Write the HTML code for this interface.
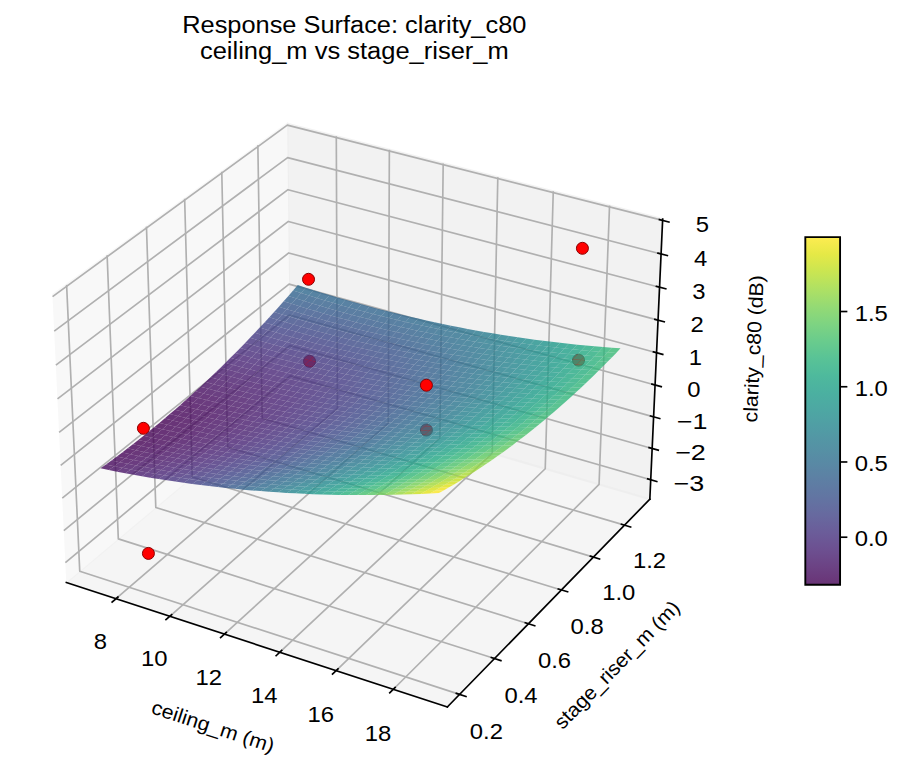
<!DOCTYPE html><html><head><meta charset="utf-8"><style>html,body{margin:0;padding:0;background:#fff;width:902px;height:765px;overflow:hidden}svg{display:block}</style></head><body><svg width="902" height="765" viewBox="109.15 16.49 432.96 367.20" version="1.1">
<defs><linearGradient id="vir" x1="0" y1="1" x2="0" y2="0"><stop offset="0.00" stop-color="#440154"/><stop offset="0.05" stop-color="#471365"/><stop offset="0.10" stop-color="#482475"/><stop offset="0.15" stop-color="#463480"/><stop offset="0.20" stop-color="#414487"/><stop offset="0.25" stop-color="#3b528b"/><stop offset="0.30" stop-color="#355f8d"/><stop offset="0.35" stop-color="#2f6c8e"/><stop offset="0.40" stop-color="#2a788e"/><stop offset="0.45" stop-color="#25848e"/><stop offset="0.50" stop-color="#21918c"/><stop offset="0.55" stop-color="#1e9c89"/><stop offset="0.60" stop-color="#22a884"/><stop offset="0.65" stop-color="#2fb47c"/><stop offset="0.70" stop-color="#44bf70"/><stop offset="0.75" stop-color="#5ec962"/><stop offset="0.80" stop-color="#7ad151"/><stop offset="0.85" stop-color="#9bd93c"/><stop offset="0.90" stop-color="#bddf26"/><stop offset="0.95" stop-color="#dfe318"/><stop offset="1.00" stop-color="#fde725"/></linearGradient>
<style type="text/css">*{stroke-linejoin: round; stroke-linecap: butt}</style>
</defs>
<g id="figure_1">
<g id="patch_1">
<path d="M 0 422.88
L 632.47 422.88
L 632.47 0
L 0 0
z
" style="fill: #ffffff"/>
</g>
<g id="patch_2">
<path d="M 116.40 376.36
L 442.02 376.36
L 442.02 50.74
L 116.40 50.74
z
" style="fill: #ffffff"/>
</g>
<g id="pane3d_1">
<g id="patch_3">
<path d="M 140.99 296.08
L 248.52 205.94
L 247.02 75.95
L 134.35 158.18
" style="fill: #f2f2f2; opacity: 0.5; stroke: #f2f2f2; stroke-linejoin: miter"/>
</g>
</g>
<g id="pane3d_2">
<g id="patch_4">
<path d="M 248.52 205.94
L 421.07 256.09
L 427.23 121.63
L 247.02 75.95
" style="fill: #e6e6e6; opacity: 0.5; stroke: #e6e6e6; stroke-linejoin: miter"/>
</g>
</g>
<g id="pane3d_3">
<g id="patch_5">
<path d="M 140.99 296.08
L 323.90 355.81
L 421.07 256.09
L 248.52 205.94
" style="fill: #ececec; opacity: 0.5; stroke: #ececec; stroke-linejoin: miter"/>
</g>
</g>
<g id="grid3d_1">
<g id="Line3DCollection_1">
<path d="M 164.84 303.86
L 271.10 212.51
L 270.57 81.92
" style="fill: none; stroke: #b0b0b0; stroke-width: 0.8"/>
<path d="M 190.66 312.30
L 295.52 219.60
L 296.04 88.37
" style="fill: none; stroke: #b0b0b0; stroke-width: 0.8"/>
<path d="M 216.87 320.86
L 320.28 226.80
L 321.88 94.92
" style="fill: none; stroke: #b0b0b0; stroke-width: 0.8"/>
<path d="M 243.48 329.55
L 345.40 234.10
L 348.10 101.57
" style="fill: none; stroke: #b0b0b0; stroke-width: 0.8"/>
<path d="M 270.51 338.38
L 370.86 241.50
L 374.72 108.32
" style="fill: none; stroke: #b0b0b0; stroke-width: 0.8"/>
<path d="M 297.97 347.34
L 396.70 249.01
L 401.73 115.16
" style="fill: none; stroke: #b0b0b0; stroke-width: 0.8"/>
</g>
</g>
<g id="grid3d_2">
<g id="Line3DCollection_2">
<path d="M 141.12 153.23
L 147.43 290.68
L 329.74 349.81
" style="fill: none; stroke: #b0b0b0; stroke-width: 0.8"/>
<path d="M 160.57 139.04
L 165.94 275.16
L 346.52 332.60
" style="fill: none; stroke: #b0b0b0; stroke-width: 0.8"/>
<path d="M 179.45 125.27
L 183.93 260.08
L 362.80 315.89
" style="fill: none; stroke: #b0b0b0; stroke-width: 0.8"/>
<path d="M 197.78 111.89
L 201.43 245.42
L 378.62 299.66
" style="fill: none; stroke: #b0b0b0; stroke-width: 0.8"/>
<path d="M 215.60 98.88
L 218.45 231.15
L 393.98 283.89
" style="fill: none; stroke: #b0b0b0; stroke-width: 0.8"/>
<path d="M 232.92 86.24
L 235.01 217.26
L 408.91 268.57
" style="fill: none; stroke: #b0b0b0; stroke-width: 0.8"/>
</g>
</g>
<g id="grid3d_3">
<g id="Line3DCollection_3">
<path d="M 421.50 246.77
L 248.42 196.91
L 140.53 286.53
" style="fill: none; stroke: #b0b0b0; stroke-width: 0.8"/>
<path d="M 422.18 231.75
L 248.25 182.37
L 139.79 271.14
" style="fill: none; stroke: #b0b0b0; stroke-width: 0.8"/>
<path d="M 422.88 216.58
L 248.08 167.69
L 139.04 255.60
" style="fill: none; stroke: #b0b0b0; stroke-width: 0.8"/>
<path d="M 423.58 201.26
L 247.91 152.86
L 138.28 239.90
" style="fill: none; stroke: #b0b0b0; stroke-width: 0.8"/>
<path d="M 424.29 185.78
L 247.74 137.90
L 137.52 224.03
" style="fill: none; stroke: #b0b0b0; stroke-width: 0.8"/>
<path d="M 425.00 170.15
L 247.56 122.79
L 136.75 207.99
" style="fill: none; stroke: #b0b0b0; stroke-width: 0.8"/>
<path d="M 425.73 154.35
L 247.39 107.54
L 135.97 191.78
" style="fill: none; stroke: #b0b0b0; stroke-width: 0.8"/>
<path d="M 426.46 138.39
L 247.21 92.13
L 135.18 175.40
" style="fill: none; stroke: #b0b0b0; stroke-width: 0.8"/>
<path d="M 427.20 122.27
L 247.03 76.57
L 134.38 158.84
" style="fill: none; stroke: #b0b0b0; stroke-width: 0.8"/>
</g>
</g>
<g id="axis3d_1">
<g id="line2d_1">
<path d="M 140.99 296.08
L 323.90 355.81
" style="fill: none; stroke: #000000; stroke-width: 0.8; stroke-linecap: square"/>
</g>
<g id="xtick_1">
<g id="line2d_2">
<path d="M 165.76 303.07
L 162.98 305.46
" style="fill: none; stroke: #000000; stroke-width: 0.8; stroke-linecap: square"/>
</g>
<g id="text_1">
<text style="font-size: 10.60px; font-family: 'Liberation Sans', sans-serif; text-anchor: middle" x="157.32" y="327.23" transform="rotate(-0 157.32 327.23)" dy="0.6" textLength="6.36" lengthAdjust="spacingAndGlyphs">8</text>
</g>
</g>
<g id="xtick_2">
<g id="line2d_3">
<path d="M 191.57 311.49
L 188.82 313.92
" style="fill: none; stroke: #000000; stroke-width: 0.8; stroke-linecap: square"/>
</g>
<g id="text_2">
<text style="font-size: 10.60px; font-family: 'Liberation Sans', sans-serif; text-anchor: middle" x="183.16" y="335.81" transform="rotate(-0 183.16 335.81)" dy="0.6" textLength="12.73" lengthAdjust="spacingAndGlyphs">10</text>
</g>
</g>
<g id="xtick_3">
<g id="line2d_4">
<path d="M 217.77 320.04
L 215.06 322.50
" style="fill: none; stroke: #000000; stroke-width: 0.8; stroke-linecap: square"/>
</g>
<g id="text_3">
<text style="font-size: 10.60px; font-family: 'Liberation Sans', sans-serif; text-anchor: middle" x="209.40" y="344.52" transform="rotate(-0 209.40 344.52)" dy="0.6" textLength="12.73" lengthAdjust="spacingAndGlyphs">12</text>
</g>
</g>
<g id="xtick_4">
<g id="line2d_5">
<path d="M 244.37 328.72
L 241.70 331.22
" style="fill: none; stroke: #000000; stroke-width: 0.8; stroke-linecap: square"/>
</g>
<g id="text_4">
<text style="font-size: 10.60px; font-family: 'Liberation Sans', sans-serif; text-anchor: middle" x="236.04" y="353.37" transform="rotate(-0 236.04 353.37)" dy="0.6" textLength="12.73" lengthAdjust="spacingAndGlyphs">14</text>
</g>
</g>
<g id="xtick_5">
<g id="line2d_6">
<path d="M 271.39 337.53
L 268.76 340.07
" style="fill: none; stroke: #000000; stroke-width: 0.8; stroke-linecap: square"/>
</g>
<g id="text_5">
<text style="font-size: 10.60px; font-family: 'Liberation Sans', sans-serif; text-anchor: middle" x="263.10" y="362.35" transform="rotate(-0 263.10 362.35)" dy="0.6" textLength="12.73" lengthAdjust="spacingAndGlyphs">16</text>
</g>
</g>
<g id="xtick_6">
<g id="line2d_7">
<path d="M 298.83 346.48
L 296.24 349.07
" style="fill: none; stroke: #000000; stroke-width: 0.8; stroke-linecap: square"/>
</g>
<g id="text_6">
<text style="font-size: 10.60px; font-family: 'Liberation Sans', sans-serif; text-anchor: middle" x="290.58" y="371.47" transform="rotate(-0 290.58 371.47)" dy="0.6" textLength="12.73" lengthAdjust="spacingAndGlyphs">18</text>
</g>
</g>
<g id="text_7">
<text style="font-size: 9.54px; font-family: 'Liberation Sans', sans-serif; text-anchor: middle" x="210.41" y="368.30" transform="rotate(-341.91 210.41 368.30)" textLength="61.32" lengthAdjust="spacingAndGlyphs">ceiling_m (m)</text>
</g>
</g>
<g id="axis3d_2">
<g id="line2d_8">
<path d="M 421.07 256.09
L 323.90 355.81
" style="fill: none; stroke: #000000; stroke-width: 0.8; stroke-linecap: square"/>
</g>
<g id="xtick_7">
<g id="line2d_9">
<path d="M 328.21 349.32
L 332.82 350.81
" style="fill: none; stroke: #000000; stroke-width: 0.8; stroke-linecap: square"/>
</g>
<g id="text_8">
<text style="font-size: 10.60px; font-family: 'Liberation Sans', sans-serif; text-anchor: middle" x="342.63" y="370.85" transform="rotate(-0 342.63 370.85)" dy="0.6" textLength="15.90" lengthAdjust="spacingAndGlyphs">0.2</text>
</g>
</g>
<g id="xtick_8">
<g id="line2d_10">
<path d="M 345.00 332.11
L 349.57 333.57
" style="fill: none; stroke: #000000; stroke-width: 0.8; stroke-linecap: square"/>
</g>
<g id="text_9">
<text style="font-size: 10.60px; font-family: 'Liberation Sans', sans-serif; text-anchor: middle" x="359.23" y="353.42" transform="rotate(-0 359.23 353.42)" dy="0.6" textLength="15.90" lengthAdjust="spacingAndGlyphs">0.4</text>
</g>
</g>
<g id="xtick_9">
<g id="line2d_11">
<path d="M 361.30 315.42
L 365.82 316.83
" style="fill: none; stroke: #000000; stroke-width: 0.8; stroke-linecap: square"/>
</g>
<g id="text_10">
<text style="font-size: 10.60px; font-family: 'Liberation Sans', sans-serif; text-anchor: middle" x="375.33" y="336.51" transform="rotate(-0 375.33 336.51)" dy="0.6" textLength="15.90" lengthAdjust="spacingAndGlyphs">0.6</text>
</g>
</g>
<g id="xtick_10">
<g id="line2d_12">
<path d="M 377.13 299.20
L 381.60 300.57
" style="fill: none; stroke: #000000; stroke-width: 0.8; stroke-linecap: square"/>
</g>
<g id="text_11">
<text style="font-size: 10.60px; font-family: 'Liberation Sans', sans-serif; text-anchor: middle" x="390.97" y="320.08" transform="rotate(-0 390.97 320.08)" dy="0.6" textLength="15.90" lengthAdjust="spacingAndGlyphs">0.8</text>
</g>
</g>
<g id="xtick_11">
<g id="line2d_13">
<path d="M 392.51 283.45
L 396.93 284.78
" style="fill: none; stroke: #000000; stroke-width: 0.8; stroke-linecap: square"/>
</g>
<g id="text_12">
<text style="font-size: 10.60px; font-family: 'Liberation Sans', sans-serif; text-anchor: middle" x="406.16" y="304.13" transform="rotate(-0 406.16 304.13)" dy="0.6" textLength="15.90" lengthAdjust="spacingAndGlyphs">1.0</text>
</g>
</g>
<g id="xtick_12">
<g id="line2d_14">
<path d="M 407.45 268.14
L 411.84 269.43
" style="fill: none; stroke: #000000; stroke-width: 0.8; stroke-linecap: square"/>
</g>
<g id="text_13">
<text style="font-size: 10.60px; font-family: 'Liberation Sans', sans-serif; text-anchor: middle" x="420.93" y="288.62" transform="rotate(-0 420.93 288.62)" dy="0.6" textLength="15.90" lengthAdjust="spacingAndGlyphs">1.2</text>
</g>
</g>
<g id="text_14">
<text style="font-size: 9.54px; font-family: 'Liberation Sans', sans-serif; text-anchor: middle" x="407.63" y="337.86" transform="rotate(-45.74 407.63 337.86)" textLength="81.53" lengthAdjust="spacingAndGlyphs">stage_riser_m (m)</text>
</g>
</g>
<g id="axis3d_3">
<g id="line2d_15">
<path d="M 421.07 256.09
L 427.23 121.63
" style="fill: none; stroke: #000000; stroke-width: 0.8; stroke-linecap: square"/>
</g>
<g id="xtick_13">
<g id="line2d_16">
<path d="M 420.04 246.35
L 424.40 247.61
" style="fill: none; stroke: #000000; stroke-width: 0.8; stroke-linecap: square"/>
</g>
<g id="text_15">
<text style="font-size: 10.60px; font-family: 'Liberation Sans', sans-serif; text-anchor: middle" x="439.81" y="251.77" transform="rotate(-0 439.81 251.77)" dy="0.6" textLength="14.74" lengthAdjust="spacingAndGlyphs">−3</text>
</g>
</g>
<g id="xtick_14">
<g id="line2d_17">
<path d="M 420.72 231.33
L 425.11 232.58
" style="fill: none; stroke: #000000; stroke-width: 0.8; stroke-linecap: square"/>
</g>
<g id="text_16">
<text style="font-size: 10.60px; font-family: 'Liberation Sans', sans-serif; text-anchor: middle" x="440.59" y="236.78" transform="rotate(-0 440.59 236.78)" dy="0.6" textLength="14.74" lengthAdjust="spacingAndGlyphs">−2</text>
</g>
</g>
<g id="xtick_15">
<g id="line2d_18">
<path d="M 421.41 216.17
L 425.82 217.40
" style="fill: none; stroke: #000000; stroke-width: 0.8; stroke-linecap: square"/>
</g>
<g id="text_17">
<text style="font-size: 10.60px; font-family: 'Liberation Sans', sans-serif; text-anchor: middle" x="441.37" y="221.64" transform="rotate(-0 441.37 221.64)" dy="0.6" textLength="14.74" lengthAdjust="spacingAndGlyphs">−1</text>
</g>
</g>
<g id="xtick_16">
<g id="line2d_19">
<path d="M 422.10 200.85
L 426.53 202.07
" style="fill: none; stroke: #000000; stroke-width: 0.8; stroke-linecap: square"/>
</g>
<g id="text_18">
<text style="font-size: 10.60px; font-family: 'Liberation Sans', sans-serif; text-anchor: middle" x="442.16" y="206.34" transform="rotate(-0 442.16 206.34)" dy="0.6" textLength="6.36" lengthAdjust="spacingAndGlyphs">0</text>
</g>
</g>
<g id="xtick_17">
<g id="line2d_20">
<path d="M 422.80 185.38
L 427.26 186.59
" style="fill: none; stroke: #000000; stroke-width: 0.8; stroke-linecap: square"/>
</g>
<g id="text_19">
<text style="font-size: 10.60px; font-family: 'Liberation Sans', sans-serif; text-anchor: middle" x="442.97" y="190.89" transform="rotate(-0 442.97 190.89)" dy="0.6" textLength="6.36" lengthAdjust="spacingAndGlyphs">1</text>
</g>
</g>
<g id="xtick_18">
<g id="line2d_21">
<path d="M 423.51 169.75
L 427.99 170.94
" style="fill: none; stroke: #000000; stroke-width: 0.8; stroke-linecap: square"/>
</g>
<g id="text_20">
<text style="font-size: 10.60px; font-family: 'Liberation Sans', sans-serif; text-anchor: middle" x="443.77" y="175.28" transform="rotate(-0 443.77 175.28)" dy="0.6" textLength="6.36" lengthAdjust="spacingAndGlyphs">2</text>
</g>
</g>
<g id="xtick_19">
<g id="line2d_22">
<path d="M 424.23 153.96
L 428.73 155.14
" style="fill: none; stroke: #000000; stroke-width: 0.8; stroke-linecap: square"/>
</g>
<g id="text_21">
<text style="font-size: 10.60px; font-family: 'Liberation Sans', sans-serif; text-anchor: middle" x="444.59" y="159.51" transform="rotate(-0 444.59 159.51)" dy="0.6" textLength="6.36" lengthAdjust="spacingAndGlyphs">3</text>
</g>
</g>
<g id="xtick_20">
<g id="line2d_23">
<path d="M 424.95 138.01
L 429.48 139.17
" style="fill: none; stroke: #000000; stroke-width: 0.8; stroke-linecap: square"/>
</g>
<g id="text_22">
<text style="font-size: 10.60px; font-family: 'Liberation Sans', sans-serif; text-anchor: middle" x="445.42" y="143.58" transform="rotate(-0 445.42 143.58)" dy="0.6" textLength="6.36" lengthAdjust="spacingAndGlyphs">4</text>
</g>
</g>
<g id="xtick_21">
<g id="line2d_24">
<path d="M 425.68 121.89
L 430.23 123.04
" style="fill: none; stroke: #000000; stroke-width: 0.8; stroke-linecap: square"/>
</g>
<g id="text_23">
<text style="font-size: 10.60px; font-family: 'Liberation Sans', sans-serif; text-anchor: middle" x="446.25" y="127.49" transform="rotate(-0 446.25 127.49)" dy="0.6" textLength="6.36" lengthAdjust="spacingAndGlyphs">5</text>
</g>
</g>
<g id="text_24">
<text style="font-size: 9.54px; font-family: 'Liberation Sans', sans-serif; text-anchor: middle" x="474.09" y="184.06" transform="rotate(-87.37 474.09 184.06)" textLength="70.69" lengthAdjust="spacingAndGlyphs">clarity_c80 (dB)</text>
</g>
</g>
<g id="axes_1">
<circle cx="257.72" cy="189.92" r="2.88" fill="#ff0000" stroke="#8b0000" stroke-width="0.48"/><circle cx="386.84" cy="189.35" r="2.88" fill="#ff0000" stroke="#8b0000" stroke-width="0.48"/><circle cx="313.83" cy="222.90" r="2.88" fill="#ff0000" stroke="#8b0000" stroke-width="0.48"/><g fill-opacity="0.8"><path d="M249.83 155.93 253.63 157.16 255.89 154.55 252.09 153.31Z" fill="#306a8e"/><path d="M253.63 157.16 257.44 158.37 259.69 155.77 255.89 154.55Z" fill="#30698e"/><path d="M247.57 158.53 251.37 159.75 253.63 157.16 249.83 155.93Z" fill="#32648e"/><path d="M257.44 158.37 261.26 159.55 263.50 156.96 259.69 155.77Z" fill="#31688e"/><path d="M251.37 159.75 255.18 160.95 257.44 158.37 253.63 157.16Z" fill="#33638d"/><path d="M261.26 159.55 265.08 160.71 267.33 158.14 263.50 156.96Z" fill="#31678e"/><path d="M245.29 161.11 249.10 162.32 251.37 159.75 247.57 158.53Z" fill="#355f8d"/><path d="M255.18 160.95 259.00 162.12 261.26 159.55 257.44 158.37Z" fill="#33628d"/><path d="M265.08 160.71 268.92 161.85 271.15 159.28 267.33 158.14Z" fill="#31668e"/><path d="M249.10 162.32 252.92 163.50 255.18 160.95 251.37 159.75Z" fill="#355e8d"/><path d="M259.00 162.12 262.83 163.27 265.08 160.71 261.26 159.55Z" fill="#34618d"/><path d="M243.01 163.67 246.82 164.87 249.10 162.32 245.29 161.11Z" fill="#38598c"/><path d="M268.92 161.85 272.76 162.96 274.99 160.41 271.15 159.28Z" fill="#31668e"/><path d="M252.92 163.50 256.74 164.67 259.00 162.12 255.18 160.95Z" fill="#365d8d"/><path d="M262.83 163.27 266.67 164.39 268.92 161.85 265.08 160.71Z" fill="#34618d"/><path d="M246.82 164.87 250.64 166.05 252.92 163.50 249.10 162.32Z" fill="#38588c"/><path d="M272.76 162.96 276.61 164.05 278.84 161.50 274.99 160.41Z" fill="#32658e"/><path d="M256.74 164.67 260.57 165.81 262.83 163.27 259.00 162.12Z" fill="#365c8d"/><path d="M240.72 166.21 244.54 167.40 246.82 164.87 243.01 163.67Z" fill="#3a538b"/><path d="M266.67 164.39 270.51 165.49 272.76 162.96 268.92 161.85Z" fill="#34608d"/><path d="M250.64 166.05 254.47 167.20 256.74 164.67 252.92 163.50Z" fill="#38588c"/><path d="M276.61 164.05 280.46 165.11 282.69 162.58 278.84 161.50Z" fill="#32658e"/><path d="M260.57 165.81 264.42 166.92 266.67 164.39 262.83 163.27Z" fill="#365c8d"/><path d="M244.54 167.40 248.36 168.57 250.64 166.05 246.82 164.87Z" fill="#3b528b"/><path d="M270.51 165.49 274.37 166.57 276.61 164.05 272.76 162.96Z" fill="#34608d"/><path d="M254.47 167.20 258.31 168.33 260.57 165.81 256.74 164.67Z" fill="#39568c"/><path d="M238.43 168.74 242.25 169.92 244.54 167.40 240.72 166.21Z" fill="#3d4e8a"/><path d="M280.46 165.11 284.33 166.15 286.55 163.63 282.69 162.58Z" fill="#32658e"/><path d="M264.42 166.92 268.26 168.01 270.51 165.49 266.67 164.39Z" fill="#375b8d"/><path d="M248.36 168.57 252.20 169.71 254.47 167.20 250.64 166.05Z" fill="#3b528b"/><path d="M274.37 166.57 278.23 167.63 280.46 165.11 276.61 164.05Z" fill="#34608d"/><path d="M258.31 168.33 262.15 169.43 264.42 166.92 260.57 165.81Z" fill="#39568c"/><path d="M242.25 169.92 246.07 171.07 248.36 168.57 244.54 167.40Z" fill="#3d4d8a"/><path d="M284.33 166.15 288.20 167.17 290.42 164.66 286.55 163.63Z" fill="#32658e"/><path d="M268.26 168.01 272.12 169.08 274.37 166.57 270.51 165.49Z" fill="#375b8d"/><path d="M252.20 169.71 256.04 170.83 258.31 168.33 254.47 167.20Z" fill="#3b518b"/><path d="M236.12 171.25 239.94 172.41 242.25 169.92 238.43 168.74Z" fill="#3f4889"/><path d="M278.23 167.63 282.10 168.66 284.33 166.15 280.46 165.11Z" fill="#34608d"/><path d="M262.15 169.43 266.01 170.51 268.26 168.01 264.42 166.92Z" fill="#39558c"/><path d="M246.07 171.07 249.91 172.20 252.20 169.71 248.36 168.57Z" fill="#3d4d8a"/><path d="M288.20 167.17 292.09 168.16 294.30 165.66 290.42 164.66Z" fill="#31668e"/><path d="M272.12 169.08 275.99 170.12 278.23 167.63 274.37 166.57Z" fill="#375b8d"/><path d="M256.04 170.83 259.88 171.92 262.15 169.43 258.31 168.33Z" fill="#3b518b"/><path d="M239.94 172.41 243.78 173.56 246.07 171.07 242.25 169.92Z" fill="#3f4889"/><path d="M282.10 168.66 285.98 169.66 288.20 167.17 284.33 166.15Z" fill="#34618d"/><path d="M266.01 170.51 269.87 171.57 272.12 169.08 268.26 168.01Z" fill="#39558c"/><path d="M249.91 172.20 253.75 173.31 256.04 170.83 252.20 169.71Z" fill="#3e4c8a"/><path d="M233.81 173.73 237.64 174.89 239.94 172.41 236.12 171.25Z" fill="#414487"/><path d="M292.09 168.16 295.98 169.13 298.19 166.64 294.30 165.66Z" fill="#31668e"/><path d="M275.99 170.12 279.86 171.14 282.10 168.66 278.23 167.63Z" fill="#365c8d"/><path d="M259.88 171.92 263.74 172.99 266.01 170.51 262.15 169.43Z" fill="#3b518b"/><path d="M243.78 173.56 247.62 174.68 249.91 172.20 246.07 171.07Z" fill="#3f4788"/><path d="M285.98 169.66 289.86 170.64 292.09 168.16 288.20 167.17Z" fill="#34618d"/><path d="M269.87 171.57 273.74 172.60 275.99 170.12 272.12 169.08Z" fill="#39568c"/><path d="M253.75 173.31 257.61 174.39 259.88 171.92 256.04 170.83Z" fill="#3e4c8a"/><path d="M237.64 174.89 241.47 176.02 243.78 173.56 239.94 172.41Z" fill="#414287"/><path d="M295.98 169.13 299.88 170.07 302.09 167.60 298.19 166.64Z" fill="#31678e"/><path d="M279.86 171.14 283.74 172.13 285.98 169.66 282.10 168.66Z" fill="#365c8d"/><path d="M263.74 172.99 267.61 174.03 269.87 171.57 266.01 170.51Z" fill="#3b518b"/><path d="M247.62 174.68 251.46 175.77 253.75 173.31 249.91 172.20Z" fill="#3f4788"/><path d="M231.49 176.20 235.32 177.35 237.64 174.89 233.81 173.73Z" fill="#433e85"/><path d="M289.86 170.64 293.76 171.60 295.98 169.13 292.09 168.16Z" fill="#33628d"/><path d="M273.74 172.60 277.61 173.61 279.86 171.14 275.99 170.12Z" fill="#39568c"/><path d="M257.61 174.39 261.47 175.45 263.74 172.99 259.88 171.92Z" fill="#3e4c8a"/><path d="M241.47 176.02 245.31 177.13 247.62 174.68 243.78 173.56Z" fill="#414287"/><path d="M283.74 172.13 287.63 173.10 289.86 170.64 285.98 169.66Z" fill="#365d8d"/><path d="M299.88 170.07 303.79 170.99 305.99 168.53 302.09 167.60Z" fill="#31688e"/><path d="M267.61 174.03 271.48 175.05 273.74 172.60 269.87 171.57Z" fill="#3b518b"/><path d="M251.46 175.77 255.32 176.84 257.61 174.39 253.75 173.31Z" fill="#3f4788"/><path d="M235.32 177.35 239.16 178.47 241.47 176.02 237.64 174.89Z" fill="#433e85"/><path d="M293.76 171.60 297.67 172.53 299.88 170.07 295.98 169.13Z" fill="#33638d"/><path d="M277.61 173.61 281.50 174.59 283.74 172.13 279.86 171.14Z" fill="#38588c"/><path d="M261.47 175.45 265.34 176.48 267.61 174.03 263.74 172.99Z" fill="#3d4d8a"/><path d="M245.31 177.13 249.17 178.22 251.46 175.77 247.62 174.68Z" fill="#414287"/><path d="M229.16 178.65 232.99 179.79 235.32 177.35 231.49 176.20Z" fill="#443983"/><path d="M287.63 173.10 291.53 174.05 293.76 171.60 289.86 170.64Z" fill="#355e8d"/><path d="M271.48 175.05 275.36 176.05 277.61 173.61 273.74 172.60Z" fill="#3b528b"/><path d="M303.79 170.99 307.71 171.89 309.91 169.43 305.99 168.53Z" fill="#306a8e"/><path d="M255.32 176.84 259.18 177.89 261.47 175.45 257.61 174.39Z" fill="#3f4788"/><path d="M239.16 178.47 243.00 179.57 245.31 177.13 241.47 176.02Z" fill="#433e85"/><path d="M281.50 174.59 285.40 175.55 287.63 173.10 283.74 172.13Z" fill="#38588c"/><path d="M297.67 172.53 301.58 173.44 303.79 170.99 299.88 170.07Z" fill="#32648e"/><path d="M265.34 176.48 269.21 177.49 271.48 175.05 267.61 174.03Z" fill="#3d4d8a"/><path d="M249.17 178.22 253.03 179.28 255.32 176.84 251.46 175.77Z" fill="#414287"/><path d="M232.99 179.79 236.83 180.90 239.16 178.47 235.32 177.35Z" fill="#443983"/><path d="M291.53 174.05 295.44 174.97 297.67 172.53 293.76 171.60Z" fill="#355f8d"/><path d="M275.36 176.05 279.25 177.02 281.50 174.59 277.61 173.61Z" fill="#3b528b"/><path d="M307.71 171.89 311.64 172.76 313.83 170.32 309.91 169.43Z" fill="#2f6b8e"/><path d="M259.18 177.89 263.06 178.91 265.34 176.48 261.47 175.45Z" fill="#3f4788"/><path d="M243.00 179.57 246.86 180.64 249.17 178.22 245.31 177.13Z" fill="#433e85"/><path d="M226.82 181.08 230.66 182.21 232.99 179.79 229.16 178.65Z" fill="#463480"/><path d="M285.40 175.55 289.30 176.48 291.53 174.05 287.63 173.10Z" fill="#38598c"/><path d="M269.21 177.49 273.10 178.48 275.36 176.05 271.48 175.05Z" fill="#3d4e8a"/><path d="M301.58 173.44 305.50 174.33 307.71 171.89 303.79 170.99Z" fill="#32658e"/><path d="M253.03 179.28 256.89 180.31 259.18 177.89 255.32 176.84Z" fill="#414287"/><path d="M236.83 180.90 240.69 181.98 243.00 179.57 239.16 178.47Z" fill="#443983"/><path d="M279.25 177.02 283.15 177.97 285.40 175.55 281.50 174.59Z" fill="#3a538b"/><path d="M295.44 174.97 299.36 175.87 301.58 173.44 297.67 172.53Z" fill="#34608d"/><path d="M263.06 178.91 266.94 179.91 269.21 177.49 265.34 176.48Z" fill="#3f4889"/><path d="M311.64 172.76 315.58 173.61 317.77 171.17 313.83 170.32Z" fill="#2e6d8e"/><path d="M246.86 180.64 250.72 181.69 253.03 179.28 249.17 178.22Z" fill="#433e85"/><path d="M230.66 182.21 234.50 183.31 236.83 180.90 232.99 179.79Z" fill="#463480"/><path d="M289.30 176.48 293.22 177.39 295.44 174.97 291.53 174.05Z" fill="#375b8d"/><path d="M273.10 178.48 276.99 179.44 279.25 177.02 275.36 176.05Z" fill="#3d4e8a"/><path d="M305.50 174.33 309.44 175.19 311.64 172.76 307.71 171.89Z" fill="#31678e"/><path d="M256.89 180.31 260.77 181.32 263.06 178.91 259.18 177.89Z" fill="#414287"/><path d="M240.69 181.98 244.55 183.05 246.86 180.64 243.00 179.57Z" fill="#443983"/><path d="M224.47 183.49 228.31 184.61 230.66 182.21 226.82 181.08Z" fill="#472f7d"/><path d="M283.15 177.97 287.06 178.90 289.30 176.48 285.40 175.55Z" fill="#3a548c"/><path d="M299.36 175.87 303.29 176.74 305.50 174.33 301.58 173.44Z" fill="#34618d"/><path d="M266.94 179.91 270.83 180.89 273.10 178.48 269.21 177.49Z" fill="#3e4989"/><path d="M315.58 173.61 319.53 174.43 321.71 172.01 317.77 171.17Z" fill="#2e6e8e"/><path d="M250.72 181.69 254.60 182.72 256.89 180.31 253.03 179.28Z" fill="#433e85"/><path d="M234.50 183.31 238.36 184.38 240.69 181.98 236.83 180.90Z" fill="#463480"/><path d="M276.99 179.44 280.90 180.38 283.15 177.97 279.25 177.02Z" fill="#3c4f8a"/><path d="M293.22 177.39 297.14 178.28 299.36 175.87 295.44 174.97Z" fill="#365c8d"/><path d="M260.77 181.32 264.66 182.31 266.94 179.91 263.06 178.91Z" fill="#414487"/><path d="M309.44 175.19 313.38 176.02 315.58 173.61 311.64 172.76Z" fill="#30698e"/><path d="M244.55 183.05 248.41 184.09 250.72 181.69 246.86 180.64Z" fill="#443983"/><path d="M228.31 184.61 232.16 185.70 234.50 183.31 230.66 182.21Z" fill="#472f7d"/><path d="M287.06 178.90 290.98 179.80 293.22 177.39 289.30 176.48Z" fill="#39568c"/><path d="M270.83 180.89 274.73 181.84 276.99 179.44 273.10 178.48Z" fill="#3e4a89"/><path d="M303.29 176.74 307.23 177.59 309.44 175.19 305.50 174.33Z" fill="#33638d"/><path d="M254.60 182.72 258.48 183.72 260.77 181.32 256.89 180.31Z" fill="#423f85"/><path d="M319.53 174.43 323.48 175.22 325.66 172.81 321.71 172.01Z" fill="#2d708e"/><path d="M238.36 184.38 242.22 185.43 244.55 183.05 240.69 181.98Z" fill="#463480"/><path d="M222.11 185.89 225.96 186.99 228.31 184.61 224.47 183.49Z" fill="#472c7a"/><path d="M280.90 180.38 284.81 181.29 287.06 178.90 283.15 177.97Z" fill="#3b518b"/><path d="M297.14 178.28 301.07 179.14 303.29 176.74 299.36 175.87Z" fill="#365d8d"/><path d="M264.66 182.31 268.55 183.28 270.83 180.89 266.94 179.91Z" fill="#404588"/><path d="M313.38 176.02 317.33 176.83 319.53 174.43 315.58 173.61Z" fill="#306a8e"/><path d="M248.41 184.09 252.29 185.10 254.60 182.72 250.72 181.69Z" fill="#443a83"/><path d="M232.16 185.70 236.02 186.76 238.36 184.38 234.50 183.31Z" fill="#472f7d"/><path d="M274.73 181.84 278.64 182.76 280.90 180.38 276.99 179.44Z" fill="#3e4c8a"/><path d="M290.98 179.80 294.91 180.67 297.14 178.28 293.22 177.39Z" fill="#38588c"/><path d="M258.48 183.72 262.37 184.69 264.66 182.31 260.77 181.32Z" fill="#424086"/><path d="M307.23 177.59 311.18 178.42 313.38 176.02 309.44 175.19Z" fill="#32658e"/><path d="M242.22 185.43 246.09 186.46 248.41 184.09 244.55 183.05Z" fill="#463480"/><path d="M323.48 175.22 327.45 176.00 329.63 173.60 325.66 172.81Z" fill="#2c718e"/><path d="M225.96 186.99 229.82 188.07 232.16 185.70 228.31 184.61Z" fill="#472c7a"/><path d="M284.81 181.29 288.73 182.18 290.98 179.80 287.06 178.90Z" fill="#3b528b"/><path d="M268.55 183.28 272.46 184.21 274.73 181.84 270.83 180.89Z" fill="#404688"/><path d="M301.07 179.14 305.01 179.98 307.23 177.59 303.29 176.74Z" fill="#355f8d"/><path d="M252.29 185.10 256.18 186.09 258.48 183.72 254.60 182.72Z" fill="#443a83"/><path d="M317.33 176.83 321.30 177.62 323.48 175.22 319.53 174.43Z" fill="#2e6d8e"/><path d="M236.02 186.76 239.89 187.80 242.22 185.43 238.36 184.38Z" fill="#46307e"/><path d="M219.75 188.26 223.60 189.35 225.96 186.99 222.11 185.89Z" fill="#482677"/><path d="M278.64 182.76 282.55 183.66 284.81 181.29 280.90 180.38Z" fill="#3d4d8a"/><path d="M294.91 180.67 298.84 181.52 301.07 179.14 297.14 178.28Z" fill="#375a8c"/><path d="M262.37 184.69 266.27 185.65 268.55 183.28 264.66 182.31Z" fill="#424086"/><path d="M311.18 178.42 315.13 179.21 317.33 176.83 313.38 176.02Z" fill="#31678e"/><path d="M246.09 186.46 249.98 187.46 252.29 185.10 248.41 184.09Z" fill="#453581"/><path d="M327.45 176.00 331.43 176.74 333.60 174.36 329.63 173.60Z" fill="#2b748e"/><path d="M229.82 188.07 233.68 189.12 236.02 186.76 232.16 185.70Z" fill="#472c7a"/><path d="M272.46 184.21 276.37 185.13 278.64 182.76 274.73 181.84Z" fill="#3f4788"/><path d="M288.73 182.18 292.67 183.04 294.91 180.67 290.98 179.80Z" fill="#3a548c"/><path d="M256.18 186.09 260.07 187.06 262.37 184.69 258.48 183.72Z" fill="#443b84"/><path d="M305.01 179.98 308.96 180.79 311.18 178.42 307.23 177.59Z" fill="#34618d"/><path d="M239.89 187.80 243.77 188.82 246.09 186.46 242.22 185.43Z" fill="#46307e"/><path d="M321.30 177.62 325.27 178.38 327.45 176.00 323.48 175.22Z" fill="#2e6f8e"/><path d="M223.60 189.35 227.46 190.42 229.82 188.07 225.96 186.99Z" fill="#482677"/><path d="M282.55 183.66 286.48 184.54 288.73 182.18 284.81 181.29Z" fill="#3c4f8a"/><path d="M266.27 185.65 270.17 186.57 272.46 184.21 268.55 183.28Z" fill="#414287"/><path d="M298.84 181.52 302.79 182.35 305.01 179.98 301.07 179.14Z" fill="#365c8d"/><path d="M249.98 187.46 253.86 188.44 256.18 186.09 252.29 185.10Z" fill="#453781"/><path d="M315.13 179.21 319.10 179.99 321.30 177.62 317.33 176.83Z" fill="#30698e"/><path d="M233.68 189.12 237.55 190.15 239.89 187.80 236.02 186.76Z" fill="#472c7a"/><path d="M331.43 176.74 335.42 177.47 337.58 175.09 333.60 174.36Z" fill="#2a768e"/><path d="M217.38 190.62 221.23 191.70 223.60 189.35 219.75 188.26Z" fill="#482374"/><path d="M276.37 185.13 280.29 186.02 282.55 183.66 278.64 182.76Z" fill="#3e4989"/><path d="M292.67 183.04 296.61 183.88 298.84 181.52 294.91 180.67Z" fill="#39558c"/><path d="M260.07 187.06 263.97 188.00 266.27 185.65 262.37 184.69Z" fill="#433d84"/><path d="M308.96 180.79 312.93 181.58 315.13 179.21 311.18 178.42Z" fill="#33638d"/><path d="M243.77 188.82 247.65 189.81 249.98 187.46 246.09 186.46Z" fill="#46327e"/><path d="M325.27 178.38 329.25 179.11 331.43 176.74 327.45 176.00Z" fill="#2d718e"/><path d="M227.46 190.42 231.33 191.46 233.68 189.12 229.82 188.07Z" fill="#482878"/><path d="M286.48 184.54 290.42 185.39 292.67 183.04 288.73 182.18Z" fill="#3c508b"/><path d="M270.17 186.57 274.09 187.48 276.37 185.13 272.46 184.21Z" fill="#414487"/><path d="M302.79 182.35 306.75 183.15 308.96 180.79 305.01 179.98Z" fill="#355e8d"/><path d="M253.86 188.44 257.76 189.40 260.07 187.06 256.18 186.09Z" fill="#453882"/><path d="M319.10 179.99 323.08 180.74 325.27 178.38 321.30 177.62Z" fill="#2f6b8e"/><path d="M237.55 190.15 241.43 191.16 243.77 188.82 239.89 187.80Z" fill="#472d7b"/><path d="M335.42 177.47 339.42 178.17 341.58 175.80 337.58 175.09Z" fill="#29798e"/><path d="M221.23 191.70 225.09 192.75 227.46 190.42 223.60 189.35Z" fill="#482374"/><path d="M280.29 186.02 284.22 186.89 286.48 184.54 282.55 183.66Z" fill="#3e4a89"/><path d="M263.97 188.00 267.88 188.91 270.17 186.57 266.27 185.65Z" fill="#433e85"/><path d="M296.61 183.88 300.56 184.70 302.79 182.35 298.84 181.52Z" fill="#38588c"/><path d="M247.65 189.81 251.55 190.78 253.86 188.44 249.98 187.46Z" fill="#46337f"/><path d="M312.93 181.58 316.90 182.34 319.10 179.99 315.13 179.21Z" fill="#31668e"/><path d="M231.33 191.46 235.20 192.48 237.55 190.15 233.68 189.12Z" fill="#482878"/><path d="M329.25 179.11 333.24 179.83 335.42 177.47 331.43 176.74Z" fill="#2c738e"/><path d="M214.99 192.95 218.85 194.02 221.23 191.70 217.38 190.62Z" fill="#481f70"/><path d="M274.09 187.48 278.02 188.36 280.29 186.02 276.37 185.13Z" fill="#404588"/><path d="M290.42 185.39 294.36 186.22 296.61 183.88 292.67 183.04Z" fill="#3b528b"/><path d="M257.76 189.40 261.67 190.33 263.97 188.00 260.07 187.06Z" fill="#443983"/><path d="M306.75 183.15 310.71 183.93 312.93 181.58 308.96 180.79Z" fill="#34608d"/><path d="M241.43 191.16 245.32 192.14 247.65 189.81 243.77 188.82Z" fill="#472e7c"/><path d="M323.08 180.74 327.06 181.46 329.25 179.11 325.27 178.38Z" fill="#2e6e8e"/><path d="M225.09 192.75 228.96 193.78 231.33 191.46 227.46 190.42Z" fill="#482475"/><path d="M339.42 178.17 343.43 178.84 345.58 176.48 341.58 175.80Z" fill="#287c8e"/><path d="M284.22 186.89 288.16 187.73 290.42 185.39 286.48 184.54Z" fill="#3d4d8a"/><path d="M267.88 188.91 271.80 189.81 274.09 187.48 270.17 186.57Z" fill="#424086"/><path d="M300.56 184.70 304.52 185.49 306.75 183.15 302.79 182.35Z" fill="#375a8c"/><path d="M251.55 190.78 255.45 191.72 257.76 189.40 253.86 188.44Z" fill="#463480"/><path d="M316.90 182.34 320.88 183.08 323.08 180.74 319.10 179.99Z" fill="#31688e"/><path d="M235.20 192.48 239.09 193.48 241.43 191.16 237.55 190.15Z" fill="#482979"/><path d="M333.24 179.83 337.25 180.51 339.42 178.17 335.42 177.47Z" fill="#2a768e"/><path d="M218.85 194.02 222.72 195.07 225.09 192.75 221.23 191.70Z" fill="#481f70"/><path d="M278.02 188.36 281.95 189.21 284.22 186.89 280.29 186.02Z" fill="#3f4788"/><path d="M261.67 190.33 265.59 191.23 267.88 188.91 263.97 188.00Z" fill="#443a83"/><path d="M294.36 186.22 298.32 187.03 300.56 184.70 296.61 183.88Z" fill="#3a548c"/><path d="M245.32 192.14 249.22 193.09 251.55 190.78 247.65 189.81Z" fill="#472f7d"/><path d="M310.71 183.93 314.69 184.68 316.90 182.34 312.93 181.58Z" fill="#33628d"/><path d="M228.96 193.78 232.84 194.79 235.20 192.48 231.33 191.46Z" fill="#482475"/><path d="M327.06 181.46 331.06 182.16 333.24 179.83 329.25 179.11Z" fill="#2d718e"/><path d="M212.60 195.27 216.46 196.33 218.85 194.02 214.99 192.95Z" fill="#481b6d"/><path d="M343.43 178.84 347.44 179.49 349.60 177.14 345.58 176.48Z" fill="#277f8e"/><path d="M271.80 189.81 275.73 190.67 278.02 188.36 274.09 187.48Z" fill="#414287"/><path d="M288.16 187.73 292.11 188.54 294.36 186.22 290.42 185.39Z" fill="#3c4f8a"/><path d="M255.45 191.72 259.36 192.64 261.67 190.33 257.76 189.40Z" fill="#453581"/><path d="M304.52 185.49 308.49 186.25 310.71 183.93 306.75 183.15Z" fill="#365d8d"/><path d="M239.09 193.48 242.98 194.45 245.32 192.14 241.43 191.16Z" fill="#472a7a"/><path d="M320.88 183.08 324.87 183.79 327.06 181.46 323.08 180.74Z" fill="#2f6b8e"/><path d="M222.72 195.07 226.59 196.09 228.96 193.78 225.09 192.75Z" fill="#482071"/><path d="M337.25 180.51 341.26 181.17 343.43 178.84 339.42 178.17Z" fill="#29798e"/><path d="M281.95 189.21 285.90 190.04 288.16 187.73 284.22 186.89Z" fill="#3e4989"/><path d="M265.59 191.23 269.51 192.12 271.80 189.81 267.88 188.91Z" fill="#433d84"/><path d="M298.32 187.03 302.28 187.80 304.52 185.49 300.56 184.70Z" fill="#39568c"/><path d="M249.22 193.09 253.12 194.03 255.45 191.72 251.55 190.78Z" fill="#46307e"/><path d="M314.69 184.68 318.67 185.40 320.88 183.08 316.90 182.34Z" fill="#32658e"/><path d="M232.84 194.79 236.73 195.78 239.09 193.48 235.20 192.48Z" fill="#482576"/><path d="M331.06 182.16 335.07 182.84 337.25 180.51 333.24 179.83Z" fill="#2c738e"/><path d="M216.46 196.33 220.33 197.36 222.72 195.07 218.85 194.02Z" fill="#481c6e"/><path d="M347.44 179.49 351.48 180.11 353.62 177.78 349.60 177.14Z" fill="#26828e"/><path d="M275.73 190.67 279.67 191.52 281.95 189.21 278.02 188.36Z" fill="#414487"/><path d="M259.36 192.64 263.28 193.54 265.59 191.23 261.67 190.33Z" fill="#453882"/><path d="M292.11 188.54 296.07 189.34 298.32 187.03 294.36 186.22Z" fill="#3b518b"/><path d="M242.98 194.45 246.88 195.39 249.22 193.09 245.32 192.14Z" fill="#472c7a"/><path d="M308.49 186.25 312.47 186.99 314.69 184.68 310.71 183.93Z" fill="#355f8d"/><path d="M226.59 196.09 230.48 197.08 232.84 194.79 228.96 193.78Z" fill="#482173"/><path d="M324.87 183.79 328.87 184.48 331.06 182.16 327.06 181.46Z" fill="#2e6e8e"/><path d="M210.20 197.57 214.07 198.61 216.46 196.33 212.60 195.27Z" fill="#481769"/><path d="M341.26 181.17 345.29 181.81 347.44 179.49 343.43 178.84Z" fill="#287c8e"/><path d="M269.51 192.12 273.45 192.97 275.73 190.67 271.80 189.81Z" fill="#423f85"/><path d="M285.90 190.04 289.85 190.85 292.11 188.54 288.16 187.73Z" fill="#3e4c8a"/><path d="M253.12 194.03 257.04 194.93 259.36 192.64 255.45 191.72Z" fill="#46327e"/><path d="M302.28 187.80 306.26 188.56 308.49 186.25 304.52 185.49Z" fill="#375a8c"/><path d="M236.73 195.78 240.63 196.73 242.98 194.45 239.09 193.48Z" fill="#482677"/><path d="M318.67 185.40 322.67 186.11 324.87 183.79 320.88 183.08Z" fill="#31688e"/><path d="M220.33 197.36 224.21 198.37 226.59 196.09 222.72 195.07Z" fill="#481c6e"/><path d="M335.07 182.84 339.09 183.49 341.26 181.17 337.25 180.51Z" fill="#2a768e"/><path d="M351.48 180.11 355.52 180.71 357.66 178.39 353.62 177.78Z" fill="#25858e"/><path d="M279.67 191.52 283.62 192.34 285.90 190.04 281.95 189.21Z" fill="#404688"/><path d="M263.28 193.54 267.21 194.41 269.51 192.12 265.59 191.23Z" fill="#443983"/><path d="M296.07 189.34 300.04 190.10 302.28 187.80 298.32 187.03Z" fill="#3a548c"/><path d="M246.88 195.39 250.79 196.31 253.12 194.03 249.22 193.09Z" fill="#472d7b"/><path d="M312.47 186.99 316.46 187.71 318.67 185.40 314.69 184.68Z" fill="#33628d"/><path d="M230.48 197.08 234.37 198.06 236.73 195.78 232.84 194.79Z" fill="#482374"/><path d="M328.87 184.48 332.89 185.15 335.07 182.84 331.06 182.16Z" fill="#2d718e"/><path d="M214.07 198.61 217.94 199.64 220.33 197.36 216.46 196.33Z" fill="#48186a"/><path d="M345.29 181.81 349.32 182.42 351.48 180.11 347.44 179.49Z" fill="#27808e"/><path d="M273.45 192.97 277.39 193.80 279.67 191.52 275.73 190.67Z" fill="#424186"/><path d="M289.85 190.85 293.82 191.63 296.07 189.34 292.11 188.54Z" fill="#3c4f8a"/><path d="M257.04 194.93 260.96 195.82 263.28 193.54 259.36 192.64Z" fill="#463480"/><path d="M306.26 188.56 310.24 189.29 312.47 186.99 308.49 186.25Z" fill="#365d8d"/><path d="M240.63 196.73 244.53 197.67 246.88 195.39 242.98 194.45Z" fill="#482878"/><path d="M322.67 186.11 326.68 186.78 328.87 184.48 324.87 183.79Z" fill="#2f6b8e"/><path d="M224.21 198.37 228.10 199.36 230.48 197.08 226.59 196.09Z" fill="#481d6f"/><path d="M339.09 183.49 343.12 184.11 345.29 181.81 341.26 181.17Z" fill="#29798e"/><path d="M207.79 199.84 211.66 200.88 214.07 198.61 210.20 197.57Z" fill="#481467"/><path d="M267.21 194.41 271.15 195.25 273.45 192.97 269.51 192.12Z" fill="#443b84"/><path d="M283.62 192.34 287.58 193.13 289.85 190.85 285.90 190.04Z" fill="#3e4989"/><path d="M250.79 196.31 254.71 197.21 257.04 194.93 253.12 194.03Z" fill="#472f7d"/><path d="M355.52 180.71 359.57 181.28 361.71 178.97 357.66 178.39Z" fill="#23898e"/><path d="M300.04 190.10 304.02 190.85 306.26 188.56 302.28 187.80Z" fill="#39568c"/><path d="M234.37 198.06 238.27 199.00 240.63 196.73 236.73 195.78Z" fill="#482475"/><path d="M316.46 187.71 320.46 188.40 322.67 186.11 318.67 185.40Z" fill="#32658e"/><path d="M217.94 199.64 221.82 200.63 224.21 198.37 220.33 197.36Z" fill="#481a6c"/><path d="M332.89 185.15 336.91 185.78 339.09 183.49 335.07 182.84Z" fill="#2c738e"/><path d="M349.32 182.42 353.37 183.01 355.52 180.71 351.48 180.11Z" fill="#26828e"/><path d="M277.39 193.80 281.34 194.61 283.62 192.34 279.67 191.52Z" fill="#414487"/><path d="M260.96 195.82 264.90 196.68 267.21 194.41 263.28 193.54Z" fill="#453781"/><path d="M293.82 191.63 297.79 192.38 300.04 190.10 296.07 189.34Z" fill="#3b518b"/><path d="M244.53 197.67 248.45 198.58 250.79 196.31 246.88 195.39Z" fill="#472a7a"/><path d="M310.24 189.29 314.24 189.99 316.46 187.71 312.47 186.99Z" fill="#355f8d"/><path d="M228.10 199.36 232.00 200.32 234.37 198.06 230.48 197.08Z" fill="#481f70"/><path d="M326.68 186.78 330.69 187.43 332.89 185.15 328.87 184.48Z" fill="#2e6e8e"/><path d="M211.66 200.88 215.54 201.89 217.94 199.64 214.07 198.61Z" fill="#481668"/><path d="M343.12 184.11 347.16 184.71 349.32 182.42 345.29 181.81Z" fill="#287d8e"/><path d="M271.15 195.25 275.10 196.07 277.39 193.80 273.45 192.97Z" fill="#433e85"/><path d="M287.58 193.13 291.55 193.90 293.82 191.63 289.85 190.85Z" fill="#3e4c8a"/><path d="M254.71 197.21 258.64 198.08 260.96 195.82 257.04 194.93Z" fill="#46327e"/><path d="M304.02 190.85 308.01 191.56 310.24 189.29 306.26 188.56Z" fill="#375a8c"/><path d="M238.27 199.00 242.18 199.93 244.53 197.67 240.63 196.73Z" fill="#482576"/><path d="M359.57 181.28 363.63 181.83 365.77 179.53 361.71 178.97Z" fill="#228d8d"/><path d="M320.46 188.40 324.47 189.06 326.68 186.78 322.67 186.11Z" fill="#31688e"/><path d="M221.82 200.63 225.71 201.61 228.10 199.36 224.21 198.37Z" fill="#481b6d"/><path d="M336.91 185.78 340.94 186.40 343.12 184.11 339.09 183.49Z" fill="#2a768e"/><path d="M205.37 202.10 209.24 203.13 211.66 200.88 207.79 199.84Z" fill="#471164"/><path d="M264.90 196.68 268.84 197.51 271.15 195.25 267.21 194.41Z" fill="#443983"/><path d="M281.34 194.61 285.31 195.39 287.58 193.13 283.62 192.34Z" fill="#404688"/><path d="M353.37 183.01 357.42 183.57 359.57 181.28 355.52 180.71Z" fill="#24868e"/><path d="M248.45 198.58 252.37 199.46 254.71 197.21 250.79 196.31Z" fill="#472d7b"/><path d="M297.79 192.38 301.77 193.11 304.02 190.85 300.04 190.10Z" fill="#3a548c"/><path d="M232.00 200.32 235.90 201.25 238.27 199.00 234.37 198.06Z" fill="#482173"/><path d="M314.24 189.99 318.24 190.67 320.46 188.40 316.46 187.71Z" fill="#33628d"/><path d="M215.54 201.89 219.42 202.88 221.82 200.63 217.94 199.64Z" fill="#481769"/><path d="M330.69 187.43 334.72 188.06 336.91 185.78 332.89 185.15Z" fill="#2d718e"/><path d="M347.16 184.71 351.21 185.29 353.37 183.01 349.32 182.42Z" fill="#27808e"/><path d="M275.10 196.07 279.05 196.87 281.34 194.61 277.39 193.80Z" fill="#424086"/><path d="M258.64 198.08 262.58 198.93 264.90 196.68 260.96 195.82Z" fill="#46337f"/><path d="M291.55 193.90 295.53 194.64 297.79 192.38 293.82 191.63Z" fill="#3c4f8a"/><path d="M242.18 199.93 246.10 200.83 248.45 198.58 244.53 197.67Z" fill="#482878"/><path d="M308.01 191.56 312.01 192.26 314.24 189.99 310.24 189.29Z" fill="#365d8d"/><path d="M225.71 201.61 229.62 202.56 232.00 200.32 228.10 199.36Z" fill="#481c6e"/><path d="M363.63 181.83 367.71 182.35 369.84 180.06 365.77 179.53Z" fill="#21918c"/><path d="M324.47 189.06 328.50 189.70 330.69 187.43 326.68 186.78Z" fill="#2f6b8e"/><path d="M209.24 203.13 213.12 204.13 215.54 201.89 211.66 200.88Z" fill="#471365"/><path d="M340.94 186.40 344.99 186.99 347.16 184.71 343.12 184.11Z" fill="#297a8e"/><path d="M268.84 197.51 272.79 198.32 275.10 196.07 271.15 195.25Z" fill="#443b84"/><path d="M285.31 195.39 289.28 196.15 291.55 193.90 287.58 193.13Z" fill="#3e4989"/><path d="M252.37 199.46 256.31 200.32 258.64 198.08 254.71 197.21Z" fill="#472e7c"/><path d="M301.77 193.11 305.77 193.82 308.01 191.56 304.02 190.85Z" fill="#38588c"/><path d="M357.42 183.57 361.49 184.10 363.63 181.83 359.57 181.28Z" fill="#238a8d"/><path d="M235.90 201.25 239.82 202.17 242.18 199.93 238.27 199.00Z" fill="#482374"/><path d="M318.24 190.67 322.26 191.32 324.47 189.06 320.46 188.40Z" fill="#31668e"/><path d="M219.42 202.88 223.32 203.84 225.71 201.61 221.82 200.63Z" fill="#48186a"/><path d="M334.72 188.06 338.76 188.66 340.94 186.40 336.91 185.78Z" fill="#2b748e"/><path d="M202.94 204.34 206.82 205.36 209.24 203.13 205.37 202.10Z" fill="#470e61"/><path d="M262.58 198.93 266.52 199.75 268.84 197.51 264.90 196.68Z" fill="#453781"/><path d="M279.05 196.87 283.02 197.64 285.31 195.39 281.34 194.61Z" fill="#414487"/><path d="M351.21 185.29 355.27 185.84 357.42 183.57 353.37 183.01Z" fill="#25838e"/><path d="M246.10 200.83 250.03 201.70 252.37 199.46 248.45 198.58Z" fill="#482979"/><path d="M295.53 194.64 299.52 195.36 301.77 193.11 297.79 192.38Z" fill="#3b518b"/><path d="M229.62 202.56 233.52 203.48 235.90 201.25 232.00 200.32Z" fill="#481d6f"/><path d="M312.01 192.26 316.02 192.92 318.24 190.67 314.24 189.99Z" fill="#34608d"/><path d="M367.71 182.35 371.80 182.84 373.92 180.57 369.84 180.06Z" fill="#1f948c"/><path d="M213.12 204.13 217.02 205.11 219.42 202.88 215.54 201.89Z" fill="#481467"/><path d="M328.50 189.70 332.53 190.32 334.72 188.06 330.69 187.43Z" fill="#2e6f8e"/><path d="M344.99 186.99 349.05 187.55 351.21 185.29 347.16 184.71Z" fill="#277e8e"/><path d="M272.79 198.32 276.76 199.10 279.05 196.87 275.10 196.07Z" fill="#433e85"/><path d="M256.31 200.32 260.25 201.16 262.58 198.93 258.64 198.08Z" fill="#46307e"/><path d="M289.28 196.15 293.26 196.89 295.53 194.64 291.55 193.90Z" fill="#3e4c8a"/><path d="M239.82 202.17 243.74 203.05 246.10 200.83 242.18 199.93Z" fill="#482576"/><path d="M305.77 193.82 309.77 194.50 312.01 192.26 308.01 191.56Z" fill="#375b8d"/><path d="M361.49 184.10 365.57 184.61 367.71 182.35 363.63 181.83Z" fill="#218e8d"/><path d="M223.32 203.84 227.22 204.78 229.62 202.56 225.71 201.61Z" fill="#481a6c"/><path d="M322.26 191.32 326.29 191.95 328.50 189.70 324.47 189.06Z" fill="#30698e"/><path d="M206.82 205.36 210.70 206.35 213.12 204.13 209.24 203.13Z" fill="#471063"/><path d="M338.76 188.66 342.81 189.24 344.99 186.99 340.94 186.40Z" fill="#2a788e"/><path d="M266.52 199.75 270.48 200.55 272.79 198.32 268.84 197.51Z" fill="#443983"/><path d="M283.02 197.64 287.00 198.39 289.28 196.15 285.31 195.39Z" fill="#3f4788"/><path d="M250.03 201.70 253.96 202.55 256.31 200.32 252.37 199.46Z" fill="#472c7a"/><path d="M299.52 195.36 303.52 196.06 305.77 193.82 301.77 193.11Z" fill="#3a548c"/><path d="M355.27 185.84 359.35 186.36 361.49 184.10 357.42 183.57Z" fill="#23888e"/><path d="M233.52 203.48 237.44 204.38 239.82 202.17 235.90 201.25Z" fill="#482071"/><path d="M316.02 192.92 320.04 193.57 322.26 191.32 318.24 190.67Z" fill="#33638d"/><path d="M217.02 205.11 220.92 206.06 223.32 203.84 219.42 202.88Z" fill="#481668"/><path d="M332.53 190.32 336.57 190.91 338.76 188.66 334.72 188.06Z" fill="#2c728e"/><path d="M371.80 182.84 375.89 183.31 378.01 181.05 373.92 180.57Z" fill="#1f998a"/><path d="M200.50 206.56 204.38 207.57 206.82 205.36 202.94 204.34Z" fill="#460b5e"/><path d="M349.05 187.55 353.11 188.09 355.27 185.84 351.21 185.29Z" fill="#26828e"/><path d="M276.76 199.10 280.73 199.86 283.02 197.64 279.05 196.87Z" fill="#424186"/><path d="M260.25 201.16 264.20 201.97 266.52 199.75 262.58 198.93Z" fill="#463480"/><path d="M293.26 196.89 297.26 197.59 299.52 195.36 295.53 194.64Z" fill="#3c4f8a"/><path d="M243.74 203.05 247.67 203.92 250.03 201.70 246.10 200.83Z" fill="#482878"/><path d="M309.77 194.50 313.79 195.16 316.02 192.92 312.01 192.26Z" fill="#355e8d"/><path d="M227.22 204.78 231.14 205.70 233.52 203.48 229.62 202.56Z" fill="#481c6e"/><path d="M365.57 184.61 369.67 185.10 371.80 182.84 367.71 182.35Z" fill="#20928c"/><path d="M326.29 191.95 330.33 192.56 332.53 190.32 328.50 189.70Z" fill="#2e6d8e"/><path d="M210.70 206.35 214.60 207.31 217.02 205.11 213.12 204.13Z" fill="#471164"/><path d="M342.81 189.24 346.87 189.79 349.05 187.55 344.99 186.99Z" fill="#287c8e"/><path d="M270.48 200.55 274.45 201.32 276.76 199.10 272.79 198.32Z" fill="#443b84"/><path d="M253.96 202.55 257.91 203.37 260.25 201.16 256.31 200.32Z" fill="#472f7d"/><path d="M287.00 198.39 290.99 199.11 293.26 196.89 289.28 196.15Z" fill="#3e4989"/><path d="M237.44 204.38 241.37 205.26 243.74 203.05 239.82 202.17Z" fill="#482374"/><path d="M303.52 196.06 307.53 196.73 309.77 194.50 305.77 193.82Z" fill="#38598c"/><path d="M359.35 186.36 363.43 186.86 365.57 184.61 361.49 184.10Z" fill="#228c8d"/><path d="M220.92 206.06 224.82 206.98 227.22 204.78 223.32 203.84Z" fill="#481769"/><path d="M320.04 193.57 324.07 194.18 326.29 191.95 322.26 191.32Z" fill="#31678e"/><path d="M204.38 207.57 208.27 208.54 210.70 206.35 206.82 205.36Z" fill="#470d60"/><path d="M336.57 190.91 340.63 191.47 342.81 189.24 338.76 188.66Z" fill="#2a768e"/><path d="M375.89 183.31 380.00 183.76 382.12 181.51 378.01 181.05Z" fill="#1e9d89"/><path d="M264.20 201.97 268.16 202.76 270.48 200.55 266.52 199.75Z" fill="#453781"/><path d="M280.73 199.86 284.71 200.60 287.00 198.39 283.02 197.64Z" fill="#404588"/><path d="M247.67 203.92 251.61 204.75 253.96 202.55 250.03 201.70Z" fill="#472a7a"/><path d="M353.11 188.09 357.19 188.60 359.35 186.36 355.27 185.84Z" fill="#25858e"/><path d="M297.26 197.59 301.26 198.28 303.52 196.06 299.52 195.36Z" fill="#3b528b"/><path d="M231.14 205.70 235.06 206.58 237.44 204.38 233.52 203.48Z" fill="#481d6f"/><path d="M313.79 195.16 317.81 195.79 320.04 193.57 316.02 192.92Z" fill="#34618d"/><path d="M214.60 207.31 218.50 208.25 220.92 206.06 217.02 205.11Z" fill="#471365"/><path d="M330.33 192.56 334.38 193.13 336.57 190.91 332.53 190.32Z" fill="#2d718e"/><path d="M369.67 185.10 373.77 185.55 375.89 183.31 371.80 182.84Z" fill="#1f968b"/><path d="M198.05 208.77 201.93 209.76 204.38 207.57 200.50 206.56Z" fill="#46085c"/><path d="M346.87 189.79 350.95 190.31 353.11 188.09 349.05 187.55Z" fill="#27808e"/><path d="M274.45 201.32 278.43 202.07 280.73 199.86 276.76 199.10Z" fill="#423f85"/><path d="M257.91 203.37 261.87 204.17 264.20 201.97 260.25 201.16Z" fill="#46327e"/><path d="M290.99 199.11 294.99 199.80 297.26 197.59 293.26 196.89Z" fill="#3d4d8a"/><path d="M241.37 205.26 245.31 206.11 247.67 203.92 243.74 203.05Z" fill="#482576"/><path d="M307.53 196.73 311.55 197.37 313.79 195.16 309.77 194.50Z" fill="#365c8d"/><path d="M224.82 206.98 228.74 207.89 231.14 205.70 227.22 204.78Z" fill="#481a6c"/><path d="M363.43 186.86 367.53 187.33 369.67 185.10 365.57 184.61Z" fill="#21908d"/><path d="M324.07 194.18 328.12 194.77 330.33 192.56 326.29 191.95Z" fill="#2f6b8e"/><path d="M208.27 208.54 212.17 209.50 214.60 207.31 210.70 206.35Z" fill="#470e61"/><path d="M340.63 191.47 344.69 192.01 346.87 189.79 342.81 189.24Z" fill="#297a8e"/><path d="M380.00 183.76 384.13 184.18 386.23 181.94 382.12 181.51Z" fill="#1fa187"/><path d="M268.16 202.76 272.13 203.52 274.45 201.32 270.48 200.55Z" fill="#443a83"/><path d="M251.61 204.75 255.56 205.57 257.91 203.37 253.96 202.55Z" fill="#472d7b"/><path d="M284.71 200.60 288.70 201.31 290.99 199.11 287.00 198.39Z" fill="#3f4889"/><path d="M235.06 206.58 238.99 207.45 241.37 205.26 237.44 204.38Z" fill="#482071"/><path d="M301.26 198.28 305.27 198.93 307.53 196.73 303.52 196.06Z" fill="#39568c"/><path d="M357.19 188.60 361.28 189.08 363.43 186.86 359.35 186.36Z" fill="#238a8d"/><path d="M218.50 208.25 222.41 209.17 224.82 206.98 220.92 206.06Z" fill="#481668"/><path d="M317.81 195.79 321.85 196.39 324.07 194.18 320.04 193.57Z" fill="#32658e"/><path d="M201.93 209.76 205.83 210.72 208.27 208.54 204.38 207.57Z" fill="#460b5e"/><path d="M334.38 193.13 338.44 193.69 340.63 191.47 336.57 190.91Z" fill="#2b748e"/><path d="M373.77 185.55 377.89 185.99 380.00 183.76 375.89 183.31Z" fill="#1e9b8a"/><path d="M261.87 204.17 265.83 204.95 268.16 202.76 264.20 201.97Z" fill="#463480"/><path d="M278.43 202.07 282.41 202.79 284.71 200.60 280.73 199.86Z" fill="#414287"/><path d="M245.31 206.11 249.25 206.94 251.61 204.75 247.67 203.92Z" fill="#482878"/><path d="M350.95 190.31 355.03 190.81 357.19 188.60 353.11 188.09Z" fill="#25838e"/><path d="M294.99 199.80 298.99 200.47 301.26 198.28 297.26 197.59Z" fill="#3b518b"/><path d="M228.74 207.89 232.67 208.76 235.06 206.58 231.14 205.70Z" fill="#481c6e"/><path d="M311.55 197.37 315.58 197.99 317.81 195.79 313.79 195.16Z" fill="#34608d"/><path d="M212.17 209.50 216.08 210.43 218.50 208.25 214.60 207.31Z" fill="#471164"/><path d="M367.53 187.33 371.64 187.78 373.77 185.55 369.67 185.10Z" fill="#1f948c"/><path d="M328.12 194.77 332.17 195.34 334.38 193.13 330.33 192.56Z" fill="#2e6f8e"/><path d="M195.59 210.95 199.48 211.93 201.93 209.76 198.05 208.77Z" fill="#46075a"/><path d="M344.69 192.01 348.77 192.52 350.95 190.31 346.87 189.79Z" fill="#277e8e"/><path d="M272.13 203.52 276.12 204.26 278.43 202.07 274.45 201.32Z" fill="#433d84"/><path d="M255.56 205.57 259.53 206.36 261.87 204.17 257.91 203.37Z" fill="#472f7d"/><path d="M288.70 201.31 292.71 201.99 294.99 199.80 290.99 199.11Z" fill="#3e4c8a"/><path d="M238.99 207.45 242.93 208.29 245.31 206.11 241.37 205.26Z" fill="#482374"/><path d="M384.13 184.18 388.26 184.57 390.36 182.34 386.23 181.94Z" fill="#21a685"/><path d="M305.27 198.93 309.30 199.57 311.55 197.37 307.53 196.73Z" fill="#375a8c"/><path d="M222.41 209.17 226.34 210.06 228.74 207.89 224.82 206.98Z" fill="#481769"/><path d="M361.28 189.08 365.38 189.54 367.53 187.33 363.43 186.86Z" fill="#218e8d"/><path d="M321.85 196.39 325.90 196.97 328.12 194.77 324.07 194.18Z" fill="#30698e"/><path d="M205.83 210.72 209.73 211.67 212.17 209.50 208.27 208.54Z" fill="#470d60"/><path d="M338.44 193.69 342.51 194.21 344.69 192.01 340.63 191.47Z" fill="#2a788e"/><path d="M377.89 185.99 382.01 186.39 384.13 184.18 380.00 183.76Z" fill="#1fa088"/><path d="M265.83 204.95 269.81 205.70 272.13 203.52 268.16 202.76Z" fill="#453882"/><path d="M249.25 206.94 253.21 207.74 255.56 205.57 251.61 204.75Z" fill="#472a7a"/><path d="M282.41 202.79 286.41 203.49 288.70 201.31 284.71 200.60Z" fill="#404688"/><path d="M232.67 208.76 236.60 209.62 238.99 207.45 235.06 206.58Z" fill="#481f70"/><path d="M298.99 200.47 303.01 201.12 305.27 198.93 301.26 198.28Z" fill="#3a548c"/><path d="M355.03 190.81 359.13 191.29 361.28 189.08 357.19 188.60Z" fill="#23888e"/><path d="M216.08 210.43 219.99 211.33 222.41 209.17 218.50 208.25Z" fill="#471365"/><path d="M315.58 197.99 319.62 198.58 321.85 196.39 317.81 195.79Z" fill="#33638d"/><path d="M199.48 211.93 203.38 212.88 205.83 210.72 201.93 209.76Z" fill="#46085c"/><path d="M332.17 195.34 336.24 195.88 338.44 193.69 334.38 193.13Z" fill="#2c728e"/><path d="M371.64 187.78 375.76 188.20 377.89 185.99 373.77 185.55Z" fill="#1f998a"/><path d="M259.53 206.36 263.50 207.12 265.83 204.95 261.87 204.17Z" fill="#46337f"/><path d="M276.12 204.26 280.11 204.97 282.41 202.79 278.43 202.07Z" fill="#424086"/><path d="M242.93 208.29 246.88 209.10 249.25 206.94 245.31 206.11Z" fill="#482677"/><path d="M348.77 192.52 352.86 193.01 355.03 190.81 350.95 190.31Z" fill="#26828e"/><path d="M292.71 201.99 296.72 202.65 298.99 200.47 294.99 199.80Z" fill="#3c4f8a"/><path d="M226.34 210.06 230.27 210.93 232.67 208.76 228.74 207.89Z" fill="#481a6c"/><path d="M309.30 199.57 313.33 200.17 315.58 197.99 311.55 197.37Z" fill="#355e8d"/><path d="M388.26 184.57 392.41 184.94 394.50 182.72 390.36 182.34Z" fill="#25ab82"/><path d="M209.73 211.67 213.64 212.58 216.08 210.43 212.17 209.50Z" fill="#470e61"/><path d="M365.38 189.54 369.50 189.98 371.64 187.78 367.53 187.33Z" fill="#20928c"/><path d="M325.90 196.97 329.96 197.53 332.17 195.34 328.12 194.77Z" fill="#2e6d8e"/><path d="M193.12 213.11 197.01 214.08 199.48 211.93 195.59 210.95Z" fill="#450559"/><path d="M342.51 194.21 346.59 194.72 348.77 192.52 344.69 192.01Z" fill="#287c8e"/><path d="M269.81 205.70 273.80 206.42 276.12 204.26 272.13 203.52Z" fill="#443b84"/><path d="M253.21 207.74 257.17 208.52 259.53 206.36 255.56 205.57Z" fill="#472e7c"/><path d="M286.41 203.49 290.42 204.16 292.71 201.99 288.70 201.31Z" fill="#3e4989"/><path d="M382.01 186.39 386.15 186.77 388.26 184.57 384.13 184.18Z" fill="#20a486"/><path d="M236.60 209.62 240.55 210.45 242.93 208.29 238.99 207.45Z" fill="#482173"/><path d="M303.01 201.12 307.04 201.74 309.30 199.57 305.27 198.93Z" fill="#38598c"/><path d="M219.99 211.33 223.92 212.21 226.34 210.06 222.41 209.17Z" fill="#481668"/><path d="M359.13 191.29 363.23 191.74 365.38 189.54 361.28 189.08Z" fill="#228d8d"/><path d="M319.62 198.58 323.67 199.15 325.90 196.97 321.85 196.39Z" fill="#31678e"/><path d="M203.38 212.88 207.28 213.81 209.73 211.67 205.83 210.72Z" fill="#460b5e"/><path d="M336.24 195.88 340.31 196.40 342.51 194.21 338.44 193.69Z" fill="#2a768e"/><path d="M375.76 188.20 379.89 188.59 382.01 186.39 377.89 185.99Z" fill="#1f9e89"/><path d="M263.50 207.12 267.48 207.86 269.81 205.70 265.83 204.95Z" fill="#453781"/><path d="M280.11 204.97 284.11 205.65 286.41 203.49 282.41 202.79Z" fill="#404588"/><path d="M246.88 209.10 250.84 209.89 253.21 207.74 249.25 206.94Z" fill="#482979"/><path d="M296.72 202.65 300.74 203.29 303.01 201.12 298.99 200.47Z" fill="#3a538b"/><path d="M230.27 210.93 234.21 211.77 236.60 209.62 232.67 208.76Z" fill="#481d6f"/><path d="M352.86 193.01 356.96 193.47 359.13 191.29 355.03 190.81Z" fill="#24868e"/><path d="M313.33 200.17 317.38 200.75 319.62 198.58 315.58 197.99Z" fill="#33628d"/><path d="M213.64 212.58 217.57 213.48 219.99 211.33 216.08 210.43Z" fill="#471164"/><path d="M392.41 184.94 396.57 185.28 398.66 183.08 394.50 182.72Z" fill="#2ab07f"/><path d="M329.96 197.53 334.03 198.06 336.24 195.88 332.17 195.34Z" fill="#2d718e"/><path d="M197.01 214.08 200.91 215.02 203.38 212.88 199.48 211.93Z" fill="#46075a"/><path d="M369.50 189.98 373.63 190.39 375.76 188.20 371.64 187.78Z" fill="#1f978b"/><path d="M257.17 208.52 261.15 209.27 263.50 207.12 259.53 206.36Z" fill="#46327e"/><path d="M273.80 206.42 277.79 207.12 280.11 204.97 276.12 204.26Z" fill="#423f85"/><path d="M346.59 194.72 350.68 195.19 352.86 193.01 348.77 192.52Z" fill="#26818e"/><path d="M240.55 210.45 244.50 211.25 246.88 209.10 242.93 208.29Z" fill="#482475"/><path d="M290.42 204.16 294.44 204.81 296.72 202.65 292.71 201.99Z" fill="#3d4e8a"/><path d="M223.92 212.21 227.86 213.07 230.27 210.93 226.34 210.06Z" fill="#48186a"/><path d="M386.15 186.77 390.31 187.13 392.41 184.94 388.26 184.57Z" fill="#24aa83"/><path d="M307.04 201.74 311.08 202.34 313.33 200.17 309.30 199.57Z" fill="#365c8d"/><path d="M207.28 213.81 211.20 214.72 213.64 212.58 209.73 211.67Z" fill="#470d60"/><path d="M363.23 191.74 367.35 192.16 369.50 189.98 365.38 189.54Z" fill="#21918c"/><path d="M323.67 199.15 327.74 199.69 329.96 197.53 325.90 196.97Z" fill="#2f6b8e"/><path d="M190.64 215.25 194.54 216.21 197.01 214.08 193.12 213.11Z" fill="#450457"/><path d="M340.31 196.40 344.40 196.89 346.59 194.72 342.51 194.21Z" fill="#297b8e"/><path d="M267.48 207.86 271.47 208.57 273.80 206.42 269.81 205.70Z" fill="#443a83"/><path d="M250.84 209.89 254.81 210.66 257.17 208.52 253.21 207.74Z" fill="#472d7b"/><path d="M379.89 188.59 384.04 188.96 386.15 186.77 382.01 186.39Z" fill="#1fa287"/><path d="M284.11 205.65 288.12 206.32 290.42 204.16 286.41 203.49Z" fill="#3f4889"/><path d="M234.21 211.77 238.16 212.58 240.55 210.45 236.60 209.62Z" fill="#482071"/><path d="M300.74 203.29 304.78 203.90 307.04 201.74 303.01 201.12Z" fill="#39568c"/><path d="M217.57 213.48 221.50 214.35 223.92 212.21 219.99 211.33Z" fill="#481467"/><path d="M356.96 193.47 361.07 193.91 363.23 191.74 359.13 191.29Z" fill="#228b8d"/><path d="M317.38 200.75 321.44 201.31 323.67 199.15 319.62 198.58Z" fill="#31668e"/><path d="M200.91 215.02 204.83 215.94 207.28 213.81 203.38 212.88Z" fill="#460a5d"/><path d="M396.57 185.28 400.74 185.59 402.83 183.40 398.66 183.08Z" fill="#31b57b"/><path d="M334.03 198.06 338.11 198.56 340.31 196.40 336.24 195.88Z" fill="#2b758e"/><path d="M373.63 190.39 377.76 190.77 379.89 188.59 375.76 188.20Z" fill="#1e9c89"/><path d="M261.15 209.27 265.13 210.00 267.48 207.86 263.50 207.12Z" fill="#453581"/><path d="M277.79 207.12 281.80 207.80 284.11 205.65 280.11 204.97Z" fill="#414287"/><path d="M244.50 211.25 248.47 212.03 250.84 209.89 246.88 209.10Z" fill="#482878"/><path d="M294.44 204.81 298.46 205.43 300.74 203.29 296.72 202.65Z" fill="#3b518b"/><path d="M350.68 195.19 354.79 195.64 356.96 193.47 352.86 193.01Z" fill="#25858e"/><path d="M227.86 213.07 231.80 213.90 234.21 211.77 230.27 210.93Z" fill="#481c6e"/><path d="M311.08 202.34 315.13 202.91 317.38 200.75 313.33 200.17Z" fill="#34608d"/><path d="M211.20 214.72 215.13 215.60 217.57 213.48 213.64 212.58Z" fill="#471063"/><path d="M390.31 187.13 394.47 187.46 396.57 185.28 392.41 184.94Z" fill="#28ae80"/><path d="M327.74 199.69 331.81 200.21 334.03 198.06 329.96 197.53Z" fill="#2d708e"/><path d="M367.35 192.16 371.48 192.55 373.63 190.39 369.50 189.98Z" fill="#1f968b"/><path d="M194.54 216.21 198.44 217.14 200.91 215.02 197.01 214.08Z" fill="#450559"/><path d="M254.81 210.66 258.79 211.40 261.15 209.27 257.17 208.52Z" fill="#46307e"/><path d="M271.47 208.57 275.47 209.26 277.79 207.12 273.80 206.42Z" fill="#433e85"/><path d="M344.40 196.89 348.50 197.35 350.68 195.19 346.59 194.72Z" fill="#277f8e"/><path d="M238.16 212.58 242.12 213.38 244.50 211.25 240.55 210.45Z" fill="#482374"/><path d="M288.12 206.32 292.14 206.95 294.44 204.81 290.42 204.16Z" fill="#3e4c8a"/><path d="M384.04 188.96 388.19 189.30 390.31 187.13 386.15 186.77Z" fill="#22a884"/><path d="M221.50 214.35 225.44 215.19 227.86 213.07 223.92 212.21Z" fill="#481769"/><path d="M304.78 203.90 308.82 204.48 311.08 202.34 307.04 201.74Z" fill="#375b8d"/><path d="M361.07 193.91 365.20 194.32 367.35 192.16 363.23 191.74Z" fill="#21908d"/><path d="M204.83 215.94 208.75 216.84 211.20 214.72 207.28 213.81Z" fill="#460b5e"/><path d="M321.44 201.31 325.51 201.84 327.74 199.69 323.67 199.15Z" fill="#306a8e"/><path d="M188.15 217.37 192.05 218.32 194.54 216.21 190.64 215.25Z" fill="#440256"/><path d="M338.11 198.56 342.20 199.04 344.40 196.89 340.31 196.40Z" fill="#29798e"/><path d="M400.74 185.59 404.92 185.88 407.00 183.70 402.83 183.40Z" fill="#3aba76"/><path d="M265.13 210.00 269.13 210.70 271.47 208.57 267.48 207.86Z" fill="#443983"/><path d="M377.76 190.77 381.91 191.12 384.04 188.96 379.89 188.59Z" fill="#1fa187"/><path d="M248.47 212.03 252.44 212.78 254.81 210.66 250.84 209.89Z" fill="#472c7a"/><path d="M281.80 207.80 285.82 208.45 288.12 206.32 284.11 205.65Z" fill="#3f4788"/><path d="M231.80 213.90 235.75 214.70 238.16 212.58 234.21 211.77Z" fill="#481f70"/><path d="M298.46 205.43 302.50 206.03 304.78 203.90 300.74 203.29Z" fill="#39558c"/><path d="M354.79 195.64 358.91 196.06 361.07 193.91 356.96 193.47Z" fill="#23898e"/><path d="M215.13 215.60 219.06 216.46 221.50 214.35 217.57 213.48Z" fill="#471365"/><path d="M315.13 202.91 319.20 203.45 321.44 201.31 317.38 200.75Z" fill="#32658e"/><path d="M198.44 217.14 202.36 218.05 204.83 215.94 200.91 215.02Z" fill="#46085c"/><path d="M394.47 187.46 398.65 187.76 400.74 185.59 396.57 185.28Z" fill="#2fb47c"/><path d="M331.81 200.21 335.90 200.70 338.11 198.56 334.03 198.06Z" fill="#2c738e"/><path d="M371.48 192.55 375.63 192.93 377.76 190.77 373.63 190.39Z" fill="#1e9b8a"/><path d="M258.79 211.40 262.78 212.12 265.13 210.00 261.15 209.27Z" fill="#463480"/><path d="M275.47 209.26 279.48 209.92 281.80 207.80 277.79 207.12Z" fill="#424186"/><path d="M242.12 213.38 246.09 214.14 248.47 212.03 244.50 211.25Z" fill="#482677"/><path d="M348.50 197.35 352.61 197.79 354.79 195.64 350.68 195.19Z" fill="#25838e"/><path d="M292.14 206.95 296.18 207.56 298.46 205.43 294.44 204.81Z" fill="#3c508b"/><path d="M225.44 215.19 229.38 216.01 231.80 213.90 227.86 213.07Z" fill="#481b6d"/><path d="M308.82 204.48 312.88 205.04 315.13 202.91 311.08 202.34Z" fill="#355f8d"/><path d="M208.75 216.84 212.68 217.71 215.13 215.60 211.20 214.72Z" fill="#470e61"/><path d="M388.19 189.30 392.37 189.62 394.47 187.46 390.31 187.13Z" fill="#27ad81"/><path d="M365.20 194.32 369.34 194.70 371.48 192.55 367.35 192.16Z" fill="#1f948c"/><path d="M325.51 201.84 329.59 202.35 331.81 200.21 327.74 199.69Z" fill="#2e6f8e"/><path d="M192.05 218.32 195.96 219.24 198.44 217.14 194.54 216.21Z" fill="#450457"/><path d="M342.20 199.04 346.31 199.49 348.50 197.35 344.40 196.89Z" fill="#277e8e"/><path d="M252.44 212.78 256.43 213.51 258.79 211.40 254.81 210.66Z" fill="#472f7d"/><path d="M269.13 210.70 273.13 211.37 275.47 209.26 271.47 208.57Z" fill="#433d84"/><path d="M235.75 214.70 239.72 215.48 242.12 213.38 238.16 212.58Z" fill="#482374"/><path d="M285.82 208.45 289.84 209.07 292.14 206.95 288.12 206.32Z" fill="#3e4a89"/><path d="M381.91 191.12 386.08 191.45 388.19 189.30 384.04 188.96Z" fill="#21a685"/><path d="M219.06 216.46 223.00 217.29 225.44 215.19 221.50 214.35Z" fill="#481769"/><path d="M302.50 206.03 306.55 206.60 308.82 204.48 304.78 203.90Z" fill="#375a8c"/><path d="M358.91 196.06 363.04 196.46 365.20 194.32 361.07 193.91Z" fill="#218f8d"/><path d="M202.36 218.05 206.28 218.93 208.75 216.84 204.83 215.94Z" fill="#460b5e"/><path d="M319.20 203.45 323.27 203.97 325.51 201.84 321.44 201.31Z" fill="#30698e"/><path d="M398.65 187.76 402.84 188.03 404.92 185.88 400.74 185.59Z" fill="#38b977"/><path d="M185.64 219.48 189.55 220.41 192.05 218.32 188.15 217.37Z" fill="#440154"/><path d="M335.90 200.70 340.00 201.17 342.20 199.04 338.11 198.56Z" fill="#2a788e"/><path d="M375.63 192.93 379.78 193.27 381.91 191.12 377.76 190.77Z" fill="#1fa088"/><path d="M262.78 212.12 266.78 212.81 269.13 210.70 265.13 210.00Z" fill="#453882"/><path d="M246.09 214.14 250.06 214.89 252.44 212.78 248.47 212.03Z" fill="#472a7a"/><path d="M279.48 209.92 283.50 210.56 285.82 208.45 281.80 207.80Z" fill="#404688"/><path d="M229.38 216.01 233.34 216.80 235.75 214.70 231.80 213.90Z" fill="#481d6f"/><path d="M296.18 207.56 300.22 208.15 302.50 206.03 298.46 205.43Z" fill="#3a548c"/><path d="M352.61 197.79 356.73 198.20 358.91 196.06 354.79 195.64Z" fill="#23888e"/><path d="M212.68 217.71 216.62 218.55 219.06 216.46 215.13 215.60Z" fill="#471365"/><path d="M312.88 205.04 316.95 205.57 319.20 203.45 315.13 202.91Z" fill="#32648e"/><path d="M392.37 189.62 396.55 189.91 398.65 187.76 394.47 187.46Z" fill="#2db27d"/><path d="M195.96 219.24 199.88 220.14 202.36 218.05 198.44 217.14Z" fill="#46075a"/><path d="M329.59 202.35 333.68 202.83 335.90 200.70 331.81 200.21Z" fill="#2c728e"/><path d="M369.34 194.70 373.49 195.06 375.63 192.93 371.48 192.55Z" fill="#1f9a8a"/><path d="M256.43 213.51 260.42 214.21 262.78 212.12 258.79 211.40Z" fill="#46337f"/><path d="M273.13 211.37 277.15 212.03 279.48 209.92 275.47 209.26Z" fill="#424186"/><path d="M239.72 215.48 243.69 216.24 246.09 214.14 242.12 213.38Z" fill="#482576"/><path d="M346.31 199.49 350.42 199.91 352.61 197.79 348.50 197.35Z" fill="#26828e"/><path d="M289.84 209.07 293.88 209.67 296.18 207.56 292.14 206.95Z" fill="#3c4f8a"/><path d="M223.00 217.29 226.96 218.10 229.38 216.01 225.44 215.19Z" fill="#481a6c"/><path d="M306.55 206.60 310.61 207.15 312.88 205.04 308.82 204.48Z" fill="#355e8d"/><path d="M386.08 191.45 390.25 191.76 392.37 189.62 388.19 189.30Z" fill="#25ac82"/><path d="M206.28 218.93 210.22 219.79 212.68 217.71 208.75 216.84Z" fill="#470e61"/><path d="M363.04 196.46 367.18 196.83 369.34 194.70 365.20 194.32Z" fill="#20938c"/><path d="M323.27 203.97 327.36 204.46 329.59 202.35 325.51 201.84Z" fill="#2e6e8e"/><path d="M189.55 220.41 193.47 221.32 195.96 219.24 192.05 218.32Z" fill="#450457"/><path d="M340.00 201.17 344.11 201.61 346.31 199.49 342.20 199.04Z" fill="#287d8e"/><path d="M266.78 212.81 270.79 213.47 273.13 211.37 269.13 210.70Z" fill="#443b84"/><path d="M250.06 214.89 254.05 215.60 256.43 213.51 252.44 212.78Z" fill="#472e7c"/><path d="M283.50 210.56 287.53 211.17 289.84 209.07 285.82 208.45Z" fill="#3e4a89"/><path d="M233.34 216.80 237.31 217.57 239.72 215.48 235.75 214.70Z" fill="#482173"/><path d="M379.78 193.27 383.95 193.59 386.08 191.45 381.91 191.12Z" fill="#21a585"/><path d="M300.22 208.15 304.28 208.71 306.55 206.60 302.50 206.03Z" fill="#38598c"/><path d="M216.62 218.55 220.56 219.37 223.00 217.29 219.06 216.46Z" fill="#481668"/><path d="M356.73 198.20 360.87 198.59 363.04 196.46 358.91 196.06Z" fill="#218e8d"/><path d="M316.95 205.57 321.03 206.08 323.27 203.97 319.20 203.45Z" fill="#31688e"/><path d="M199.88 220.14 203.81 221.01 206.28 218.93 202.36 218.05Z" fill="#460a5d"/><path d="M396.55 189.91 400.74 190.17 402.84 188.03 398.65 187.76Z" fill="#35b779"/><path d="M333.68 202.83 337.78 203.28 340.00 201.17 335.90 200.70Z" fill="#2a778e"/><path d="M183.13 221.56 187.04 222.48 189.55 220.41 185.64 219.48Z" fill="#440154"/><path d="M373.49 195.06 377.65 195.39 379.78 193.27 375.63 192.93Z" fill="#1f9f88"/><path d="M260.42 214.21 264.43 214.89 266.78 212.81 262.78 212.12Z" fill="#453781"/><path d="M243.69 216.24 247.68 216.97 250.06 214.89 246.09 214.14Z" fill="#482979"/><path d="M277.15 212.03 281.18 212.65 283.50 210.56 279.48 209.92Z" fill="#404588"/><path d="M226.96 218.10 230.92 218.88 233.34 216.80 229.38 216.01Z" fill="#481d6f"/><path d="M293.88 209.67 297.93 210.24 300.22 208.15 296.18 207.56Z" fill="#3a538b"/><path d="M350.42 199.91 354.55 200.31 356.73 198.20 352.61 197.79Z" fill="#24878e"/><path d="M210.22 219.79 214.16 220.63 216.62 218.55 212.68 217.71Z" fill="#471164"/><path d="M310.61 207.15 314.69 207.67 316.95 205.57 312.88 205.04Z" fill="#33638d"/><path d="M390.25 191.76 394.44 192.04 396.55 189.91 392.37 189.62Z" fill="#2cb17e"/><path d="M193.47 221.32 197.39 222.21 199.88 220.14 195.96 219.24Z" fill="#46075a"/><path d="M327.36 204.46 331.45 204.93 333.68 202.83 329.59 202.35Z" fill="#2c718e"/><path d="M367.18 196.83 371.33 197.18 373.49 195.06 369.34 194.70Z" fill="#1f998a"/><path d="M254.05 215.60 258.05 216.29 260.42 214.21 256.43 213.51Z" fill="#46327e"/><path d="M270.79 213.47 274.81 214.11 277.15 212.03 273.13 211.37Z" fill="#424086"/><path d="M237.31 217.57 241.29 218.31 243.69 216.24 239.72 215.48Z" fill="#482576"/><path d="M344.11 201.61 348.23 202.02 350.42 199.91 346.31 199.49Z" fill="#26828e"/><path d="M287.53 211.17 291.58 211.76 293.88 209.67 289.84 209.07Z" fill="#3c4f8a"/><path d="M220.56 219.37 224.52 220.17 226.96 218.10 223.00 217.29Z" fill="#481a6c"/><path d="M304.28 208.71 308.34 209.24 310.61 207.15 306.55 206.60Z" fill="#355e8d"/><path d="M383.95 193.59 388.13 193.88 390.25 191.76 386.08 191.45Z" fill="#25ab82"/><path d="M203.81 221.01 207.75 221.86 210.22 219.79 206.28 218.93Z" fill="#470e61"/><path d="M360.87 198.59 365.02 198.94 367.18 196.83 363.04 196.46Z" fill="#20928c"/><path d="M321.03 206.08 325.12 206.56 327.36 204.46 323.27 203.97Z" fill="#2e6d8e"/><path d="M187.04 222.48 190.96 223.38 193.47 221.32 189.55 220.41Z" fill="#450457"/><path d="M337.78 203.28 341.90 203.71 344.11 201.61 340.00 201.17Z" fill="#287c8e"/><path d="M264.43 214.89 268.44 215.55 270.79 213.47 266.78 212.81Z" fill="#443b84"/><path d="M247.68 216.97 251.67 217.67 254.05 215.60 250.06 214.89Z" fill="#472e7c"/><path d="M281.18 212.65 285.21 213.25 287.53 211.17 283.50 210.56Z" fill="#3e4989"/><path d="M230.92 218.88 234.89 219.64 237.31 217.57 233.34 216.80Z" fill="#482173"/><path d="M377.65 195.39 381.82 195.70 383.95 193.59 379.78 193.27Z" fill="#20a486"/><path d="M297.93 210.24 301.99 210.79 304.28 208.71 300.22 208.15Z" fill="#38598c"/><path d="M214.16 220.63 218.11 221.44 220.56 219.37 216.62 218.55Z" fill="#481668"/><path d="M354.55 200.31 358.69 200.69 360.87 198.59 356.73 198.20Z" fill="#228d8d"/><path d="M314.69 207.67 318.77 208.16 321.03 206.08 316.95 205.57Z" fill="#31678e"/><path d="M197.39 222.21 201.32 223.07 203.81 221.01 199.88 220.14Z" fill="#460a5d"/><path d="M394.44 192.04 398.64 192.29 400.74 190.17 396.55 189.91Z" fill="#34b679"/><path d="M331.45 204.93 335.56 205.37 337.78 203.28 333.68 202.83Z" fill="#2a768e"/><path d="M180.61 223.63 184.52 224.54 187.04 222.48 183.13 221.56Z" fill="#440154"/><path d="M371.33 197.18 375.50 197.50 377.65 195.39 373.49 195.06Z" fill="#1f9e89"/><path d="M258.05 216.29 262.06 216.96 264.43 214.89 260.42 214.21Z" fill="#453781"/><path d="M241.29 218.31 245.28 219.03 247.68 216.97 243.69 216.24Z" fill="#482979"/><path d="M274.81 214.11 278.84 214.72 281.18 212.65 277.15 212.03Z" fill="#404588"/><path d="M224.52 220.17 228.49 220.94 230.92 218.88 226.96 218.10Z" fill="#481c6e"/><path d="M291.58 211.76 295.63 212.32 297.93 210.24 293.88 209.67Z" fill="#3a538b"/><path d="M348.23 202.02 352.36 202.41 354.55 200.31 350.42 199.91Z" fill="#24868e"/><path d="M207.75 221.86 211.69 222.68 214.16 220.63 210.22 219.79Z" fill="#471164"/><path d="M308.34 209.24 312.42 209.75 314.69 207.67 310.61 207.15Z" fill="#33628d"/><path d="M388.13 193.88 392.33 194.14 394.44 192.04 390.25 191.76Z" fill="#2ab07f"/><path d="M190.96 223.38 194.89 224.26 197.39 222.21 193.47 221.32Z" fill="#46075a"/><path d="M325.12 206.56 329.22 207.01 331.45 204.93 327.36 204.46Z" fill="#2c718e"/><path d="M365.02 198.94 369.18 199.28 371.33 197.18 367.18 196.83Z" fill="#1f988b"/><path d="M251.67 217.67 255.67 218.35 258.05 216.29 254.05 215.60Z" fill="#46327e"/><path d="M268.44 215.55 272.47 216.17 274.81 214.11 270.79 213.47Z" fill="#423f85"/><path d="M341.90 203.71 346.03 204.11 348.23 202.02 344.11 201.61Z" fill="#26818e"/><path d="M234.89 219.64 238.88 220.37 241.29 218.31 237.31 217.57Z" fill="#482576"/><path d="M285.21 213.25 289.26 213.83 291.58 211.76 287.53 211.17Z" fill="#3d4e8a"/><path d="M218.11 221.44 222.07 222.22 224.52 220.17 220.56 219.37Z" fill="#48186a"/><path d="M381.82 195.70 386.01 195.98 388.13 193.88 383.95 193.59Z" fill="#24aa83"/><path d="M301.99 210.79 306.06 211.31 308.34 209.24 304.28 208.71Z" fill="#365d8d"/><path d="M201.32 223.07 205.27 223.90 207.75 221.86 203.81 221.01Z" fill="#470d60"/><path d="M358.69 200.69 362.85 201.03 365.02 198.94 360.87 198.59Z" fill="#20928c"/><path d="M318.77 208.16 322.87 208.63 325.12 206.56 321.03 206.08Z" fill="#2f6c8e"/><path d="M184.52 224.54 188.45 225.42 190.96 223.38 187.04 222.48Z" fill="#450457"/><path d="M335.56 205.37 339.68 205.79 341.90 203.71 337.78 203.28Z" fill="#297b8e"/><path d="M262.06 216.96 266.08 217.60 268.44 215.55 264.43 214.89Z" fill="#443a83"/><path d="M245.28 219.03 249.27 219.73 251.67 217.67 247.68 216.97Z" fill="#472d7b"/><path d="M375.50 197.50 379.68 197.79 381.82 195.70 377.65 195.39Z" fill="#20a386"/><path d="M278.84 214.72 282.89 215.31 285.21 213.25 281.18 212.65Z" fill="#3e4989"/><path d="M228.49 220.94 232.47 221.69 234.89 219.64 230.92 218.88Z" fill="#482071"/><path d="M295.63 212.32 299.69 212.86 301.99 210.79 297.93 210.24Z" fill="#38588c"/><path d="M211.69 222.68 215.65 223.48 218.11 221.44 214.16 220.63Z" fill="#481668"/><path d="M352.36 202.41 356.51 202.77 358.69 200.69 354.55 200.31Z" fill="#228c8d"/><path d="M312.42 209.75 316.51 210.23 318.77 208.16 314.69 207.67Z" fill="#31678e"/><path d="M194.89 224.26 198.83 225.11 201.32 223.07 197.39 222.21Z" fill="#460a5d"/><path d="M392.33 194.14 396.54 194.38 398.64 192.29 394.44 192.04Z" fill="#32b67a"/><path d="M329.22 207.01 333.33 207.44 335.56 205.37 331.45 204.93Z" fill="#2a768e"/><path d="M369.18 199.28 373.35 199.59 375.50 197.50 371.33 197.18Z" fill="#1e9d89"/><path d="M178.08 225.67 181.99 226.57 184.52 224.54 180.61 223.63Z" fill="#440154"/><path d="M255.67 218.35 259.69 219.01 262.06 216.96 258.05 216.29Z" fill="#453581"/><path d="M238.88 220.37 242.87 221.08 245.28 219.03 241.29 218.31Z" fill="#482979"/><path d="M272.47 216.17 276.50 216.78 278.84 214.72 274.81 214.11Z" fill="#414487"/><path d="M222.07 222.22 226.05 222.98 228.49 220.94 224.52 220.17Z" fill="#481c6e"/><path d="M289.26 213.83 293.32 214.38 295.63 212.32 291.58 211.76Z" fill="#3b528b"/><path d="M346.03 204.11 350.16 204.48 352.36 202.41 348.23 202.02Z" fill="#24868e"/><path d="M205.27 223.90 209.22 224.72 211.69 222.68 207.75 221.86Z" fill="#471164"/><path d="M306.06 211.31 310.14 211.81 312.42 209.75 308.34 209.24Z" fill="#33628d"/><path d="M386.01 195.98 390.21 196.23 392.33 194.14 388.13 193.88Z" fill="#29af7f"/><path d="M188.45 225.42 192.38 226.29 194.89 224.26 190.96 223.38Z" fill="#46075a"/><path d="M322.87 208.63 326.97 209.08 329.22 207.01 325.12 206.56Z" fill="#2d718e"/><path d="M362.85 201.03 367.01 201.36 369.18 199.28 365.02 198.94Z" fill="#1f978b"/><path d="M249.27 219.73 253.28 220.39 255.67 218.35 251.67 217.67Z" fill="#46327e"/><path d="M266.08 217.60 270.11 218.22 272.47 216.17 268.44 215.55Z" fill="#423f85"/><path d="M339.68 205.79 343.81 206.17 346.03 204.11 341.90 203.71Z" fill="#26818e"/><path d="M232.47 221.69 236.45 222.41 238.88 220.37 234.89 219.64Z" fill="#482475"/><path d="M282.89 215.31 286.94 215.87 289.26 213.83 285.21 213.25Z" fill="#3d4e8a"/><path d="M215.65 223.48 219.62 224.25 222.07 222.22 218.11 221.44Z" fill="#48186a"/><path d="M379.68 197.79 383.87 198.06 386.01 195.98 381.82 195.70Z" fill="#23a983"/><path d="M299.69 212.86 303.77 213.37 306.06 211.31 301.99 210.79Z" fill="#365d8d"/><path d="M198.83 225.11 202.78 225.93 205.27 223.90 201.32 223.07Z" fill="#470d60"/><path d="M356.51 202.77 360.67 203.10 362.85 201.03 358.69 200.69Z" fill="#20928c"/><path d="M316.51 210.23 320.61 210.69 322.87 208.63 318.77 208.16Z" fill="#2f6c8e"/><path d="M181.99 226.57 185.92 227.45 188.45 225.42 184.52 224.54Z" fill="#450457"/><path d="M333.33 207.44 337.46 207.84 339.68 205.79 335.56 205.37Z" fill="#297b8e"/><path d="M259.69 219.01 263.71 219.64 266.08 217.60 262.06 216.96Z" fill="#443a83"/><path d="M242.87 221.08 246.87 221.76 249.27 219.73 245.28 219.03Z" fill="#472d7b"/><path d="M373.35 199.59 377.54 199.87 379.68 197.79 375.50 197.50Z" fill="#20a386"/><path d="M276.50 216.78 280.55 217.35 282.89 215.31 278.84 214.72Z" fill="#3e4989"/><path d="M226.05 222.98 230.03 223.71 232.47 221.69 228.49 220.94Z" fill="#482071"/><path d="M293.32 214.38 297.39 214.90 299.69 212.86 295.63 212.32Z" fill="#38588c"/><path d="M209.22 224.72 213.18 225.50 215.65 223.48 211.69 222.68Z" fill="#481668"/><path d="M350.16 204.48 354.32 204.83 356.51 202.77 352.36 202.41Z" fill="#228b8d"/><path d="M310.14 211.81 314.24 212.28 316.51 210.23 312.42 209.75Z" fill="#31678e"/><path d="M192.38 226.29 196.32 227.12 198.83 225.11 194.89 224.26Z" fill="#460a5d"/><path d="M390.21 196.23 394.42 196.46 396.54 194.38 392.33 194.14Z" fill="#32b67a"/><path d="M326.97 209.08 331.09 209.49 333.33 207.44 329.22 207.01Z" fill="#2b758e"/><path d="M367.01 201.36 371.19 201.65 373.35 199.59 369.18 199.28Z" fill="#1e9d89"/><path d="M175.53 227.69 179.45 228.58 181.99 226.57 178.08 225.67Z" fill="#440154"/><path d="M253.28 220.39 257.30 221.04 259.69 219.01 255.67 218.35Z" fill="#453581"/><path d="M270.11 218.22 274.15 218.81 276.50 216.78 272.47 216.17Z" fill="#414487"/><path d="M236.45 222.41 240.45 223.10 242.87 221.08 238.88 220.37Z" fill="#482979"/><path d="M286.94 215.87 291.00 216.41 293.32 214.38 289.26 213.83Z" fill="#3b528b"/><path d="M343.81 206.17 347.96 206.54 350.16 204.48 346.03 204.11Z" fill="#25858e"/><path d="M219.62 224.25 223.59 225.00 226.05 222.98 222.07 222.22Z" fill="#481c6e"/><path d="M303.77 213.37 307.86 213.85 310.14 211.81 306.06 211.31Z" fill="#33628d"/><path d="M202.78 225.93 206.73 226.73 209.22 224.72 205.27 223.90Z" fill="#471164"/><path d="M383.87 198.06 388.08 198.30 390.21 196.23 386.01 195.98Z" fill="#29af7f"/><path d="M360.67 203.10 364.84 203.41 367.01 201.36 362.85 201.03Z" fill="#1f968b"/><path d="M320.61 210.69 324.72 211.12 326.97 209.08 322.87 208.63Z" fill="#2d718e"/><path d="M185.92 227.45 189.86 228.30 192.38 226.29 188.45 225.42Z" fill="#46075a"/><path d="M246.87 221.76 250.88 222.41 253.28 220.39 249.27 219.73Z" fill="#46327e"/><path d="M337.46 207.84 341.59 208.22 343.81 206.17 339.68 205.79Z" fill="#27808e"/><path d="M263.71 219.64 267.74 220.24 270.11 218.22 266.08 217.60Z" fill="#423f85"/><path d="M230.03 223.71 234.02 224.42 236.45 222.41 232.47 221.69Z" fill="#482576"/><path d="M280.55 217.35 284.61 217.90 286.94 215.87 282.89 215.31Z" fill="#3d4e8a"/><path d="M377.54 199.87 381.73 200.12 383.87 198.06 379.68 197.79Z" fill="#23a983"/><path d="M213.18 225.50 217.15 226.26 219.62 224.25 215.65 223.48Z" fill="#48186a"/><path d="M297.39 214.90 301.47 215.40 303.77 213.37 299.69 212.86Z" fill="#365d8d"/><path d="M354.32 204.83 358.48 205.15 360.67 203.10 356.51 202.77Z" fill="#21918c"/><path d="M196.32 227.12 200.27 227.94 202.78 225.93 198.83 225.11Z" fill="#470e61"/><path d="M314.24 212.28 318.34 212.72 320.61 210.69 316.51 210.23Z" fill="#2f6c8e"/><path d="M179.45 228.58 183.39 229.45 185.92 227.45 181.99 226.57Z" fill="#450457"/><path d="M331.09 209.49 335.22 209.88 337.46 207.84 333.33 207.44Z" fill="#297b8e"/><path d="M371.19 201.65 375.38 201.92 377.54 199.87 373.35 199.59Z" fill="#1fa287"/><path d="M257.30 221.04 261.33 221.65 263.71 219.64 259.69 219.01Z" fill="#443a83"/><path d="M240.45 223.10 244.46 223.77 246.87 221.76 242.87 221.08Z" fill="#472d7b"/><path d="M274.15 218.81 278.20 219.37 280.55 217.35 276.50 216.78Z" fill="#3e4989"/><path d="M223.59 225.00 227.58 225.72 230.03 223.71 226.05 222.98Z" fill="#482071"/><path d="M291.00 216.41 295.08 216.92 297.39 214.90 293.32 214.38Z" fill="#38588c"/><path d="M347.96 206.54 352.12 206.87 354.32 204.83 350.16 204.48Z" fill="#228b8d"/><path d="M206.73 226.73 210.70 227.50 213.18 225.50 209.22 224.72Z" fill="#481668"/><path d="M307.86 213.85 311.96 214.31 314.24 212.28 310.14 211.81Z" fill="#31668e"/><path d="M189.86 228.30 193.81 229.12 196.32 227.12 192.38 226.29Z" fill="#460a5d"/><path d="M388.08 198.30 392.30 198.51 394.42 196.46 390.21 196.23Z" fill="#31b57b"/><path d="M324.72 211.12 328.85 211.52 331.09 209.49 326.97 209.08Z" fill="#2b758e"/><path d="M364.84 203.41 369.02 203.70 371.19 201.65 367.01 201.36Z" fill="#1e9d89"/><path d="M172.97 229.70 176.90 230.57 179.45 228.58 175.53 227.69Z" fill="#440154"/><path d="M250.88 222.41 254.91 223.05 257.30 221.04 253.28 220.39Z" fill="#453781"/><path d="M267.74 220.24 271.79 220.82 274.15 218.81 270.11 218.22Z" fill="#414487"/><path d="M234.02 224.42 238.02 225.10 240.45 223.10 236.45 222.41Z" fill="#482979"/><path d="M341.59 208.22 345.74 208.57 347.96 206.54 343.81 206.17Z" fill="#25858e"/><path d="M284.61 217.90 288.68 218.43 291.00 216.41 286.94 215.87Z" fill="#3b528b"/><path d="M217.15 226.26 221.13 227.00 223.59 225.00 219.62 224.25Z" fill="#481d6f"/><path d="M301.47 215.40 305.56 215.87 307.86 213.85 303.77 213.37Z" fill="#34618d"/><path d="M381.73 200.12 385.95 200.35 388.08 198.30 383.87 198.06Z" fill="#28ae80"/><path d="M200.27 227.94 204.23 228.72 206.73 226.73 202.78 225.93Z" fill="#471164"/><path d="M358.48 205.15 362.66 205.45 364.84 203.41 360.67 203.10Z" fill="#1f968b"/><path d="M318.34 212.72 322.46 213.14 324.72 211.12 320.61 210.69Z" fill="#2d718e"/><path d="M183.39 229.45 187.33 230.29 189.86 228.30 185.92 227.45Z" fill="#46075a"/><path d="M335.22 209.88 339.37 210.25 341.59 208.22 337.46 207.84Z" fill="#27808e"/><path d="M244.46 223.77 248.47 224.41 250.88 222.41 246.87 221.76Z" fill="#46327e"/><path d="M261.33 221.65 265.37 222.25 267.74 220.24 263.71 219.64Z" fill="#423f85"/><path d="M227.58 225.72 231.58 226.42 234.02 224.42 230.03 223.71Z" fill="#482576"/><path d="M278.20 219.37 282.27 219.91 284.61 217.90 280.55 217.35Z" fill="#3d4e8a"/><path d="M375.38 201.92 379.59 202.16 381.73 200.12 377.54 199.87Z" fill="#22a884"/><path d="M210.70 227.50 214.67 228.25 217.15 226.26 213.18 225.50Z" fill="#481a6c"/><path d="M295.08 216.92 299.16 217.41 301.47 215.40 297.39 214.90Z" fill="#365d8d"/><path d="M352.12 206.87 356.29 207.18 358.48 205.15 354.32 204.83Z" fill="#21918c"/><path d="M193.81 229.12 197.76 229.92 200.27 227.94 196.32 227.12Z" fill="#470e61"/><path d="M311.96 214.31 316.07 214.74 318.34 212.72 314.24 212.28Z" fill="#2f6c8e"/><path d="M176.90 230.57 180.84 231.43 183.39 229.45 179.45 228.58Z" fill="#450457"/><path d="M328.85 211.52 332.98 211.90 335.22 209.88 331.09 209.49Z" fill="#297b8e"/><path d="M369.02 203.70 373.22 203.95 375.38 201.92 371.19 201.65Z" fill="#1fa287"/><path d="M254.91 223.05 258.94 223.65 261.33 221.65 257.30 221.04Z" fill="#443b84"/><path d="M238.02 225.10 242.03 225.76 244.46 223.77 240.45 223.10Z" fill="#472e7c"/><path d="M271.79 220.82 275.85 221.37 278.20 219.37 274.15 218.81Z" fill="#3e4989"/><path d="M221.13 227.00 225.12 227.71 227.58 225.72 223.59 225.00Z" fill="#482173"/><path d="M288.68 218.43 292.76 218.93 295.08 216.92 291.00 216.41Z" fill="#38588c"/><path d="M345.74 208.57 349.91 208.90 352.12 206.87 347.96 206.54Z" fill="#228b8d"/><path d="M204.23 228.72 208.20 229.49 210.70 227.50 206.73 226.73Z" fill="#481668"/><path d="M305.56 215.87 309.67 216.32 311.96 214.31 307.86 213.85Z" fill="#31678e"/><path d="M385.95 200.35 390.17 200.55 392.30 198.51 388.08 198.30Z" fill="#31b57b"/><path d="M187.33 230.29 191.28 231.10 193.81 229.12 189.86 228.30Z" fill="#460b5e"/><path d="M322.46 213.14 326.59 213.53 328.85 211.52 324.72 211.12Z" fill="#2b758e"/><path d="M362.66 205.45 366.85 205.72 369.02 203.70 364.84 203.41Z" fill="#1e9c89"/><path d="M170.41 231.68 174.34 232.55 176.90 230.57 172.97 229.70Z" fill="#440256"/><path d="M248.47 224.41 252.50 225.03 254.91 223.05 250.88 222.41Z" fill="#453781"/><path d="M265.37 222.25 269.42 222.81 271.79 220.82 267.74 220.24Z" fill="#404588"/><path d="M231.58 226.42 235.58 227.09 238.02 225.10 234.02 224.42Z" fill="#482979"/><path d="M339.37 210.25 343.52 210.59 345.74 208.57 341.59 208.22Z" fill="#25858e"/><path d="M282.27 219.91 286.34 220.42 288.68 218.43 284.61 217.90Z" fill="#3a538b"/><path d="M214.67 228.25 218.66 228.98 221.13 227.00 217.15 226.26Z" fill="#481d6f"/><path d="M299.16 217.41 303.26 217.87 305.56 215.87 301.47 215.40Z" fill="#33628d"/><path d="M379.59 202.16 383.80 202.37 385.95 200.35 381.73 200.12Z" fill="#28ae80"/><path d="M197.76 229.92 201.73 230.70 204.23 228.72 200.27 227.94Z" fill="#471365"/><path d="M356.29 207.18 360.47 207.47 362.66 205.45 358.48 205.15Z" fill="#1f968b"/><path d="M316.07 214.74 320.19 215.15 322.46 213.14 318.34 212.72Z" fill="#2d718e"/><path d="M180.84 231.43 184.78 232.25 187.33 230.29 183.39 229.45Z" fill="#46085c"/><path d="M332.98 211.90 337.13 212.25 339.37 210.25 335.22 209.88Z" fill="#27808e"/><path d="M242.03 225.76 246.05 226.39 248.47 224.41 244.46 223.77Z" fill="#46327e"/><path d="M258.94 223.65 262.98 224.23 265.37 222.25 261.33 221.65Z" fill="#424086"/><path d="M225.12 227.71 229.12 228.39 231.58 226.42 227.58 225.72Z" fill="#482576"/><path d="M275.85 221.37 279.91 221.90 282.27 219.91 278.20 219.37Z" fill="#3d4e8a"/><path d="M373.22 203.95 377.43 204.18 379.59 202.16 375.38 201.92Z" fill="#22a884"/><path d="M208.20 229.49 212.18 230.22 214.67 228.25 210.70 227.50Z" fill="#481a6c"/><path d="M292.76 218.93 296.85 219.40 299.16 217.41 295.08 216.92Z" fill="#365d8d"/><path d="M349.91 208.90 354.08 209.19 356.29 207.18 352.12 206.87Z" fill="#21918c"/><path d="M191.28 231.10 195.24 231.89 197.76 229.92 193.81 229.12Z" fill="#471063"/><path d="M309.67 216.32 313.79 216.73 316.07 214.74 311.96 214.31Z" fill="#2f6c8e"/><path d="M174.34 232.55 178.28 233.39 180.84 231.43 176.90 230.57Z" fill="#450559"/><path d="M326.59 213.53 330.73 213.90 332.98 211.90 328.85 211.52Z" fill="#297b8e"/><path d="M366.85 205.72 371.05 205.96 373.22 203.95 369.02 203.70Z" fill="#1fa287"/><path d="M252.50 225.03 256.54 225.63 258.94 223.65 254.91 223.05Z" fill="#443b84"/><path d="M235.58 227.09 239.60 227.73 242.03 225.76 238.02 225.10Z" fill="#472e7c"/><path d="M269.42 222.81 273.48 223.35 275.85 221.37 271.79 220.82Z" fill="#3e4989"/><path d="M218.66 228.98 222.65 229.67 225.12 227.71 221.13 227.00Z" fill="#482173"/><path d="M286.34 220.42 290.42 220.91 292.76 218.93 288.68 218.43Z" fill="#38588c"/><path d="M343.52 210.59 347.69 210.90 349.91 208.90 345.74 208.57Z" fill="#228b8d"/><path d="M201.73 230.70 205.70 231.45 208.20 229.49 204.23 228.72Z" fill="#481769"/><path d="M303.26 217.87 307.37 218.30 309.67 216.32 305.56 215.87Z" fill="#31678e"/><path d="M383.80 202.37 388.03 202.56 390.17 200.55 385.95 200.35Z" fill="#31b57b"/><path d="M184.78 232.25 188.74 233.06 191.28 231.10 187.33 230.29Z" fill="#470d60"/><path d="M320.19 215.15 324.33 215.53 326.59 213.53 322.46 213.14Z" fill="#2b758e"/><path d="M360.47 207.47 364.66 207.72 366.85 205.72 362.66 205.45Z" fill="#1e9c89"/><path d="M167.83 233.65 171.76 234.50 174.34 232.55 170.41 231.68Z" fill="#440256"/><path d="M246.05 226.39 250.09 227.00 252.50 225.03 248.47 224.41Z" fill="#453882"/><path d="M262.98 224.23 267.04 224.78 269.42 222.81 265.37 222.25Z" fill="#404588"/><path d="M229.12 228.39 233.13 229.05 235.58 227.09 231.58 226.42Z" fill="#472a7a"/><path d="M337.13 212.25 341.29 212.58 343.52 210.59 339.37 210.25Z" fill="#25858e"/><path d="M279.91 221.90 283.99 222.40 286.34 220.42 282.27 219.91Z" fill="#3a538b"/><path d="M212.18 230.22 216.17 230.93 218.66 228.98 214.67 228.25Z" fill="#481f70"/><path d="M377.43 204.18 381.65 204.38 383.80 202.37 379.59 202.16Z" fill="#28ae80"/><path d="M296.85 219.40 300.95 219.85 303.26 217.87 299.16 217.41Z" fill="#33628d"/><path d="M195.24 231.89 199.21 232.65 201.73 230.70 197.76 229.92Z" fill="#481467"/><path d="M354.08 209.19 358.27 209.46 360.47 207.47 356.29 207.18Z" fill="#1f968b"/><path d="M313.79 216.73 317.91 217.13 320.19 215.15 316.07 214.74Z" fill="#2d718e"/><path d="M178.28 233.39 182.23 234.20 184.78 232.25 180.84 231.43Z" fill="#460a5d"/><path d="M330.73 213.90 334.89 214.24 337.13 212.25 332.98 211.90Z" fill="#26818e"/><path d="M256.54 225.63 260.59 226.19 262.98 224.23 258.94 223.65Z" fill="#424086"/><path d="M239.60 227.73 243.62 228.35 246.05 226.39 242.03 225.76Z" fill="#46337f"/><path d="M371.05 205.96 375.26 206.18 377.43 204.18 373.22 203.95Z" fill="#22a884"/><path d="M273.48 223.35 277.55 223.87 279.91 221.90 275.85 221.37Z" fill="#3c4f8a"/><path d="M222.65 229.67 226.66 230.35 229.12 228.39 225.12 227.71Z" fill="#482677"/><path d="M290.42 220.91 294.52 221.37 296.85 219.40 292.76 218.93Z" fill="#365d8d"/><path d="M205.70 231.45 209.68 232.17 212.18 230.22 208.20 229.49Z" fill="#481b6d"/><path d="M347.69 210.90 351.87 211.18 354.08 209.19 349.91 208.90Z" fill="#21918c"/><path d="M307.37 218.30 311.49 218.71 313.79 216.73 309.67 216.32Z" fill="#2f6c8e"/><path d="M188.74 233.06 192.70 233.83 195.24 231.89 191.28 231.10Z" fill="#471063"/><path d="M324.33 215.53 328.47 215.88 330.73 213.90 326.59 213.53Z" fill="#297b8e"/><path d="M171.76 234.50 175.71 235.33 178.28 233.39 174.34 232.55Z" fill="#46075a"/><path d="M364.66 207.72 368.87 207.96 371.05 205.96 366.85 205.72Z" fill="#1fa287"/><path d="M250.09 227.00 254.13 227.58 256.54 225.63 252.50 225.03Z" fill="#433d84"/><path d="M233.13 229.05 237.15 229.68 239.60 227.73 235.58 227.09Z" fill="#472f7d"/><path d="M267.04 224.78 271.11 225.31 273.48 223.35 269.42 222.81Z" fill="#3e4a89"/><path d="M216.17 230.93 220.17 231.62 222.65 229.67 218.66 228.98Z" fill="#482374"/><path d="M283.99 222.40 288.08 222.87 290.42 220.91 286.34 220.42Z" fill="#38598c"/><path d="M341.29 212.58 345.47 212.88 347.69 210.90 343.52 210.59Z" fill="#228b8d"/><path d="M199.21 232.65 203.18 233.39 205.70 231.45 201.73 230.70Z" fill="#48186a"/><path d="M300.95 219.85 305.06 220.27 307.37 218.30 303.26 217.87Z" fill="#31678e"/><path d="M381.65 204.38 385.89 204.56 388.03 202.56 383.80 202.37Z" fill="#31b57b"/><path d="M182.23 234.20 186.19 234.99 188.74 233.06 184.78 232.25Z" fill="#470d60"/><path d="M317.91 217.13 322.05 217.50 324.33 215.53 320.19 215.15Z" fill="#2a768e"/><path d="M358.27 209.46 362.47 209.71 364.66 207.72 360.47 207.47Z" fill="#1e9d89"/><path d="M165.24 235.59 169.18 236.43 171.76 234.50 167.83 233.65Z" fill="#450457"/><path d="M243.62 228.35 247.66 228.95 250.09 227.00 246.05 226.39Z" fill="#453882"/><path d="M260.59 226.19 264.65 226.74 267.04 224.78 262.98 224.23Z" fill="#404688"/><path d="M334.89 214.24 339.05 214.55 341.29 212.58 337.13 212.25Z" fill="#24868e"/><path d="M226.66 230.35 230.67 230.99 233.13 229.05 229.12 228.39Z" fill="#472c7a"/><path d="M277.55 223.87 281.64 224.36 283.99 222.40 279.91 221.90Z" fill="#3a548c"/><path d="M209.68 232.17 213.68 232.87 216.17 230.93 212.18 230.22Z" fill="#482071"/><path d="M375.26 206.18 379.49 206.37 381.65 204.38 377.43 204.18Z" fill="#28ae80"/><path d="M294.52 221.37 298.63 221.81 300.95 219.85 296.85 219.40Z" fill="#33638d"/><path d="M192.70 233.83 196.68 234.59 199.21 232.65 195.24 231.89Z" fill="#481668"/><path d="M351.87 211.18 356.06 211.44 358.27 209.46 354.08 209.19Z" fill="#1f968b"/><path d="M311.49 218.71 315.63 219.09 317.91 217.13 313.79 216.73Z" fill="#2c718e"/><path d="M175.71 235.33 179.66 236.13 182.23 234.20 178.28 233.39Z" fill="#460b5e"/><path d="M328.47 215.88 332.63 216.21 334.89 214.24 330.73 213.90Z" fill="#26818e"/><path d="M254.13 227.58 258.18 228.14 260.59 226.19 256.54 225.63Z" fill="#424186"/><path d="M237.15 229.68 241.18 230.29 243.62 228.35 239.60 227.73Z" fill="#463480"/><path d="M368.87 207.96 373.09 208.16 375.26 206.18 371.05 205.96Z" fill="#23a983"/><path d="M271.11 225.31 275.18 225.81 277.55 223.87 273.48 223.35Z" fill="#3c508b"/><path d="M220.17 231.62 224.18 232.28 226.66 230.35 222.65 229.67Z" fill="#482878"/><path d="M288.08 222.87 292.18 223.32 294.52 221.37 290.42 220.91Z" fill="#355e8d"/><path d="M203.18 233.39 207.17 234.10 209.68 232.17 205.70 231.45Z" fill="#481c6e"/><path d="M345.47 212.88 349.65 213.15 351.87 211.18 347.69 210.90Z" fill="#20928c"/><path d="M305.06 220.27 309.19 220.66 311.49 218.71 307.37 218.30Z" fill="#2e6d8e"/><path d="M186.19 234.99 190.16 235.76 192.70 233.83 188.74 233.06Z" fill="#471164"/><path d="M322.05 217.50 326.21 217.84 328.47 215.88 324.33 215.53Z" fill="#287c8e"/><path d="M362.47 209.71 366.69 209.93 368.87 207.96 364.66 207.72Z" fill="#1fa287"/><path d="M169.18 236.43 173.13 237.25 175.71 235.33 171.76 234.50Z" fill="#46085c"/><path d="M247.66 228.95 251.71 229.52 254.13 227.58 250.09 227.00Z" fill="#433e85"/><path d="M230.67 230.99 234.70 231.62 237.15 229.68 233.13 229.05Z" fill="#46307e"/><path d="M264.65 226.74 268.72 227.25 271.11 225.31 267.04 224.78Z" fill="#3e4c8a"/><path d="M213.68 232.87 217.68 233.55 220.17 231.62 216.17 230.93Z" fill="#482475"/><path d="M281.64 224.36 285.73 224.82 288.08 222.87 283.99 222.40Z" fill="#375a8c"/><path d="M339.05 214.55 343.23 214.84 345.47 212.88 341.29 212.58Z" fill="#228c8d"/><path d="M196.68 234.59 200.66 235.31 203.18 233.39 199.21 232.65Z" fill="#481a6c"/><path d="M298.63 221.81 302.75 222.22 305.06 220.27 300.95 219.85Z" fill="#31688e"/><path d="M379.49 206.37 383.74 206.53 385.89 204.56 381.65 204.38Z" fill="#31b57b"/><path d="M179.66 236.13 183.63 236.91 186.19 234.99 182.23 234.20Z" fill="#471063"/><path d="M356.06 211.44 360.27 211.67 362.47 209.71 358.27 209.46Z" fill="#1e9d89"/><path d="M315.63 219.09 319.77 219.45 322.05 217.50 317.91 217.13Z" fill="#2a768e"/><path d="M162.64 237.51 166.58 238.34 169.18 236.43 165.24 235.59Z" fill="#46075a"/><path d="M241.18 230.29 245.23 230.88 247.66 228.95 243.62 228.35Z" fill="#443983"/><path d="M258.18 228.14 262.25 228.67 264.65 226.74 260.59 226.19Z" fill="#3f4788"/><path d="M332.63 216.21 336.81 216.51 339.05 214.55 334.89 214.24Z" fill="#24868e"/><path d="M224.18 232.28 228.20 232.92 230.67 230.99 226.66 230.35Z" fill="#472d7b"/><path d="M275.18 225.81 279.27 226.29 281.64 224.36 277.55 223.87Z" fill="#3a548c"/><path d="M373.09 208.16 377.33 208.34 379.49 206.37 375.26 206.18Z" fill="#28ae80"/><path d="M207.17 234.10 211.17 234.79 213.68 232.87 209.68 232.17Z" fill="#482173"/><path d="M292.18 223.32 296.30 223.75 298.63 221.81 294.52 221.37Z" fill="#33638d"/><path d="M190.16 235.76 194.13 236.50 196.68 234.59 192.70 233.83Z" fill="#481769"/><path d="M349.65 213.15 353.85 213.40 356.06 211.44 351.87 211.18Z" fill="#1f978b"/><path d="M309.19 220.66 313.33 221.03 315.63 219.09 311.49 218.71Z" fill="#2c718e"/><path d="M173.13 237.25 177.08 238.04 179.66 236.13 175.71 235.33Z" fill="#470d60"/><path d="M326.21 217.84 330.37 218.15 332.63 216.21 328.47 215.88Z" fill="#26828e"/><path d="M366.69 209.93 370.91 210.12 373.09 208.16 368.87 207.96Z" fill="#23a983"/><path d="M251.71 229.52 255.77 230.06 258.18 228.14 254.13 227.58Z" fill="#414287"/><path d="M234.70 231.62 238.73 232.21 241.18 230.29 237.15 229.68Z" fill="#453581"/><path d="M268.72 227.25 272.80 227.74 275.18 225.81 271.11 225.31Z" fill="#3c508b"/><path d="M217.68 233.55 221.70 234.20 224.18 232.28 220.17 231.62Z" fill="#482979"/><path d="M285.73 224.82 289.84 225.25 292.18 223.32 288.08 222.87Z" fill="#355f8d"/><path d="M200.66 235.31 204.65 236.01 207.17 234.10 203.18 233.39Z" fill="#481d6f"/><path d="M343.23 214.84 347.42 215.10 349.65 213.15 345.47 212.88Z" fill="#20928c"/><path d="M302.75 222.22 306.88 222.60 309.19 220.66 305.06 220.27Z" fill="#2e6e8e"/><path d="M183.63 236.91 187.60 237.67 190.16 235.76 186.19 234.99Z" fill="#481467"/><path d="M319.77 219.45 323.93 219.77 326.21 217.84 322.05 217.50Z" fill="#287c8e"/><path d="M360.27 211.67 364.49 211.88 366.69 209.93 362.47 209.71Z" fill="#20a386"/><path d="M166.58 238.34 170.53 239.15 173.13 237.25 169.18 236.43Z" fill="#460a5d"/><path d="M245.23 230.88 249.28 231.43 251.71 229.52 247.66 228.95Z" fill="#423f85"/><path d="M228.20 232.92 232.23 233.53 234.70 231.62 230.67 230.99Z" fill="#46327e"/><path d="M262.25 228.67 266.33 229.17 268.72 227.25 264.65 226.74Z" fill="#3d4d8a"/><path d="M336.81 216.51 340.99 216.78 343.23 214.84 339.05 214.55Z" fill="#228c8d"/><path d="M211.17 234.79 215.18 235.45 217.68 233.55 213.68 232.87Z" fill="#482576"/><path d="M279.27 226.29 283.37 226.74 285.73 224.82 281.64 224.36Z" fill="#375b8d"/><path d="M194.13 236.50 198.12 237.21 200.66 235.31 196.68 234.59Z" fill="#481b6d"/><path d="M296.30 223.75 300.42 224.14 302.75 222.22 298.63 221.81Z" fill="#30698e"/><path d="M377.33 208.34 381.58 208.48 383.74 206.53 379.49 206.37Z" fill="#31b57b"/><path d="M353.85 213.40 358.06 213.62 360.27 211.67 356.06 211.44Z" fill="#1f9e89"/><path d="M177.08 238.04 181.05 238.81 183.63 236.91 179.66 236.13Z" fill="#471164"/><path d="M313.33 221.03 317.48 221.38 319.77 219.45 315.63 219.09Z" fill="#2a778e"/><path d="M160.02 239.42 163.97 240.24 166.58 238.34 162.64 237.51Z" fill="#46085c"/><path d="M330.37 218.15 334.55 218.44 336.81 216.51 332.63 216.21Z" fill="#24878e"/><path d="M238.73 232.21 242.78 232.78 245.23 230.88 241.18 230.29Z" fill="#443a83"/><path d="M255.77 230.06 259.84 230.58 262.25 228.67 258.18 228.14Z" fill="#3f4889"/><path d="M221.70 234.20 225.72 234.82 228.20 232.92 224.18 232.28Z" fill="#472e7c"/><path d="M272.80 227.74 276.90 228.21 279.27 226.29 275.18 225.81Z" fill="#39558c"/><path d="M370.91 210.12 375.15 210.28 377.33 208.34 373.09 208.16Z" fill="#29af7f"/><path d="M204.65 236.01 208.65 236.69 211.17 234.79 207.17 234.10Z" fill="#482374"/><path d="M289.84 225.25 293.96 225.66 296.30 223.75 292.18 223.32Z" fill="#32648e"/><path d="M347.42 215.10 351.63 215.33 353.85 213.40 349.65 213.15Z" fill="#1f988b"/><path d="M187.60 237.67 191.58 238.39 194.13 236.50 190.16 235.76Z" fill="#48186a"/><path d="M306.88 222.60 311.02 222.95 313.33 221.03 309.19 220.66Z" fill="#2c728e"/><path d="M170.53 239.15 174.49 239.93 177.08 238.04 173.13 237.25Z" fill="#470e61"/><path d="M323.93 219.77 328.10 220.08 330.37 218.15 326.21 217.84Z" fill="#26828e"/><path d="M364.49 211.88 368.72 212.06 370.91 210.12 366.69 209.93Z" fill="#24aa83"/><path d="M249.28 231.43 253.34 231.96 255.77 230.06 251.71 229.52Z" fill="#414487"/><path d="M232.23 233.53 236.27 234.11 238.73 232.21 234.70 231.62Z" fill="#453781"/><path d="M266.33 229.17 270.41 229.65 272.80 227.74 268.72 227.25Z" fill="#3b528b"/><path d="M215.18 235.45 219.20 236.09 221.70 234.20 217.68 233.55Z" fill="#472a7a"/><path d="M283.37 226.74 287.48 227.16 289.84 225.25 285.73 224.82Z" fill="#34608d"/><path d="M340.99 216.78 345.19 217.03 347.42 215.10 343.23 214.84Z" fill="#20928c"/><path d="M198.12 237.21 202.12 237.90 204.65 236.01 200.66 235.31Z" fill="#482071"/><path d="M300.42 224.14 304.56 224.51 306.88 222.60 302.75 222.22Z" fill="#2e6f8e"/><path d="M181.05 238.81 185.03 239.55 187.60 237.67 183.63 236.91Z" fill="#481668"/><path d="M317.48 221.38 321.64 221.69 323.93 219.77 319.77 219.45Z" fill="#287d8e"/><path d="M358.06 213.62 362.29 213.81 364.49 211.88 360.27 211.67Z" fill="#20a386"/><path d="M163.97 240.24 167.93 241.03 170.53 239.15 166.58 238.34Z" fill="#470d60"/><path d="M242.78 232.78 246.84 233.33 249.28 231.43 245.23 230.88Z" fill="#424086"/><path d="M259.84 230.58 263.92 231.07 266.33 229.17 262.25 228.67Z" fill="#3d4e8a"/><path d="M225.72 234.82 229.76 235.42 232.23 233.53 228.20 232.92Z" fill="#46337f"/><path d="M334.55 218.44 338.74 218.70 340.99 216.78 336.81 216.51Z" fill="#228d8d"/><path d="M276.90 228.21 281.00 228.64 283.37 226.74 279.27 226.29Z" fill="#365c8d"/><path d="M208.65 236.69 212.67 237.34 215.18 235.45 211.17 234.79Z" fill="#482878"/><path d="M375.15 210.28 379.41 210.42 381.58 208.48 377.33 208.34Z" fill="#32b67a"/><path d="M293.96 225.66 298.09 226.05 300.42 224.14 296.30 223.75Z" fill="#306a8e"/><path d="M191.58 238.39 195.57 239.10 198.12 237.21 194.13 236.50Z" fill="#481c6e"/><path d="M351.63 215.33 355.85 215.54 358.06 213.62 353.85 213.40Z" fill="#1f9e89"/><path d="M311.02 222.95 315.18 223.28 317.48 221.38 313.33 221.03Z" fill="#2a788e"/><path d="M174.49 239.93 178.47 240.68 181.05 238.81 177.08 238.04Z" fill="#471365"/><path d="M328.10 220.08 332.28 220.35 334.55 218.44 330.37 218.15Z" fill="#23888e"/><path d="M236.27 234.11 240.32 234.67 242.78 232.78 238.73 232.21Z" fill="#433d84"/><path d="M253.34 231.96 257.42 232.47 259.84 230.58 255.77 230.06Z" fill="#3e4989"/><path d="M157.39 241.30 161.35 242.11 163.97 240.24 160.02 239.42Z" fill="#460a5d"/><path d="M219.20 236.09 223.23 236.70 225.72 234.82 221.70 234.20Z" fill="#472f7d"/><path d="M270.41 229.65 274.51 230.10 276.90 228.21 272.80 227.74Z" fill="#38588c"/><path d="M368.72 212.06 372.97 212.21 375.15 210.28 370.91 210.12Z" fill="#2ab07f"/><path d="M202.12 237.90 206.13 238.57 208.65 236.69 204.65 236.01Z" fill="#482475"/><path d="M287.48 227.16 291.61 227.56 293.96 225.66 289.84 225.25Z" fill="#32658e"/><path d="M345.19 217.03 349.40 217.25 351.63 215.33 347.42 215.10Z" fill="#1f998a"/><path d="M185.03 239.55 189.02 240.27 191.58 238.39 187.60 237.67Z" fill="#481b6d"/><path d="M304.56 224.51 308.71 224.86 311.02 222.95 306.88 222.60Z" fill="#2c738e"/><path d="M167.93 241.03 171.89 241.80 174.49 239.93 170.53 239.15Z" fill="#471164"/><path d="M321.64 221.69 325.82 221.98 328.10 220.08 323.93 219.77Z" fill="#25838e"/><path d="M362.29 213.81 366.53 213.97 368.72 212.06 364.49 211.88Z" fill="#24aa83"/><path d="M246.84 233.33 250.91 233.85 253.34 231.96 249.28 231.43Z" fill="#404688"/><path d="M229.76 235.42 233.80 235.99 236.27 234.11 232.23 233.53Z" fill="#443983"/><path d="M263.92 231.07 268.01 231.53 270.41 229.65 266.33 229.17Z" fill="#3a538b"/><path d="M212.67 237.34 216.69 237.96 219.20 236.09 215.18 235.45Z" fill="#472d7b"/><path d="M281.00 228.64 285.12 229.05 287.48 227.16 283.37 226.74Z" fill="#34618d"/><path d="M338.74 218.70 342.94 218.93 345.19 217.03 340.99 216.78Z" fill="#20938c"/><path d="M195.57 239.10 199.57 239.77 202.12 237.90 198.12 237.21Z" fill="#482173"/><path d="M298.09 226.05 302.23 226.41 304.56 224.51 300.42 224.14Z" fill="#2d708e"/><path d="M178.47 240.68 182.45 241.41 185.03 239.55 181.05 238.81Z" fill="#48186a"/><path d="M315.18 223.28 319.35 223.59 321.64 221.69 317.48 221.38Z" fill="#277e8e"/><path d="M355.85 215.54 360.08 215.72 362.29 213.81 358.06 213.62Z" fill="#20a486"/><path d="M161.35 242.11 165.31 242.89 167.93 241.03 163.97 240.24Z" fill="#470e61"/><path d="M240.32 234.67 244.39 235.20 246.84 233.33 242.78 232.78Z" fill="#424186"/><path d="M257.42 232.47 261.50 232.95 263.92 231.07 259.84 230.58Z" fill="#3c4f8a"/><path d="M223.23 236.70 227.27 237.29 229.76 235.42 225.72 234.82Z" fill="#453581"/><path d="M332.28 220.35 336.48 220.60 338.74 218.70 334.55 218.44Z" fill="#218e8d"/><path d="M274.51 230.10 278.62 230.52 281.00 228.64 276.90 228.21Z" fill="#365d8d"/><path d="M206.13 238.57 210.14 239.21 212.67 237.34 208.65 236.69Z" fill="#482979"/><path d="M372.97 212.21 377.23 212.33 379.41 210.42 375.15 210.28Z" fill="#34b679"/><path d="M291.61 227.56 295.74 227.93 298.09 226.05 293.96 225.66Z" fill="#2f6b8e"/><path d="M189.02 240.27 193.01 240.96 195.57 239.10 191.58 238.39Z" fill="#481f70"/><path d="M349.40 217.25 353.62 217.44 355.85 215.54 351.63 215.33Z" fill="#1f9f88"/><path d="M308.71 224.86 312.87 225.17 315.18 223.28 311.02 222.95Z" fill="#297a8e"/><path d="M171.89 241.80 175.87 242.54 178.47 240.68 174.49 239.93Z" fill="#481668"/><path d="M325.82 221.98 330.01 222.24 332.28 220.35 328.10 220.08Z" fill="#23898e"/><path d="M233.80 235.99 237.86 236.53 240.32 234.67 236.27 234.11Z" fill="#433e85"/><path d="M250.91 233.85 254.99 234.34 257.42 232.47 253.34 231.96Z" fill="#3e4c8a"/><path d="M216.69 237.96 220.72 238.56 223.23 236.70 219.20 236.09Z" fill="#46327e"/><path d="M366.53 213.97 370.78 214.11 372.97 212.21 368.72 212.06Z" fill="#2cb17e"/><path d="M268.01 231.53 272.12 231.97 274.51 230.10 270.41 229.65Z" fill="#38598c"/><path d="M199.57 239.77 203.59 240.42 206.13 238.57 202.12 237.90Z" fill="#482677"/><path d="M285.12 229.05 289.25 229.44 291.61 227.56 287.48 227.16Z" fill="#31678e"/><path d="M342.94 218.93 347.16 219.14 349.40 217.25 345.19 217.03Z" fill="#1f9a8a"/><path d="M182.45 241.41 186.44 242.12 189.02 240.27 185.03 239.55Z" fill="#481c6e"/><path d="M302.23 226.41 306.39 226.74 308.71 224.86 304.56 224.51Z" fill="#2b758e"/><path d="M165.31 242.89 169.28 243.65 171.89 241.80 167.93 241.03Z" fill="#481467"/><path d="M319.35 223.59 323.53 223.86 325.82 221.98 321.64 221.69Z" fill="#25848e"/><path d="M360.08 215.72 364.32 215.87 366.53 213.97 362.29 213.81Z" fill="#25ab82"/><path d="M244.39 235.20 248.46 235.71 250.91 233.85 246.84 233.33Z" fill="#3f4788"/><path d="M227.27 237.29 231.32 237.85 233.80 235.99 229.76 235.42Z" fill="#443a83"/><path d="M261.50 232.95 265.60 233.40 268.01 231.53 263.92 231.07Z" fill="#3a548c"/><path d="M210.14 239.21 214.17 239.82 216.69 237.96 212.67 237.34Z" fill="#472f7d"/><path d="M278.62 230.52 282.74 230.92 285.12 229.05 281.00 228.64Z" fill="#33638d"/><path d="M336.48 220.60 340.69 220.82 342.94 218.93 338.74 218.70Z" fill="#1f948c"/><path d="M193.01 240.96 197.02 241.62 199.57 239.77 195.57 239.10Z" fill="#482475"/><path d="M295.74 227.93 299.89 228.28 302.23 226.41 298.09 226.05Z" fill="#2d718e"/><path d="M175.87 242.54 179.85 243.26 182.45 241.41 178.47 240.68Z" fill="#481b6d"/><path d="M312.87 225.17 317.05 225.46 319.35 223.59 315.18 223.28Z" fill="#27808e"/><path d="M353.62 217.44 357.86 217.61 360.08 215.72 355.85 215.54Z" fill="#21a585"/><path d="M237.86 236.53 241.93 237.05 244.39 235.20 240.32 234.67Z" fill="#414487"/><path d="M254.99 234.34 259.08 234.80 261.50 232.95 257.42 232.47Z" fill="#3b518b"/><path d="M220.72 238.56 224.77 239.14 227.27 237.29 223.23 236.70Z" fill="#453882"/><path d="M330.01 222.24 334.21 222.48 336.48 220.60 332.28 220.35Z" fill="#21908d"/><path d="M272.12 231.97 276.23 232.39 278.62 230.52 274.51 230.10Z" fill="#355f8d"/><path d="M203.59 240.42 207.61 241.05 210.14 239.21 206.13 238.57Z" fill="#472c7a"/><path d="M370.78 214.11 375.05 214.22 377.23 212.33 372.97 212.21Z" fill="#35b779"/><path d="M289.25 229.44 293.39 229.80 295.74 227.93 291.61 227.56Z" fill="#2e6d8e"/><path d="M186.44 242.12 190.44 242.80 193.01 240.96 189.02 240.27Z" fill="#482173"/><path d="M347.16 219.14 351.39 219.32 353.62 217.44 349.40 217.25Z" fill="#1fa188"/><path d="M306.39 226.74 310.55 227.04 312.87 225.17 308.71 224.86Z" fill="#297b8e"/><path d="M169.28 243.65 173.26 244.38 175.87 242.54 171.89 241.80Z" fill="#48186a"/><path d="M323.53 223.86 327.73 224.11 330.01 222.24 325.82 221.98Z" fill="#238a8d"/><path d="M231.32 237.85 235.38 238.38 237.86 236.53 233.80 235.99Z" fill="#424086"/><path d="M248.46 235.71 252.55 236.19 254.99 234.34 250.91 233.85Z" fill="#3d4d8a"/><path d="M364.32 215.87 368.58 215.99 370.78 214.11 366.53 213.97Z" fill="#2db27d"/><path d="M214.17 239.82 218.21 240.40 220.72 238.56 216.69 237.96Z" fill="#463480"/><path d="M265.60 233.40 269.71 233.83 272.12 231.97 268.01 231.53Z" fill="#375b8d"/><path d="M197.02 241.62 201.03 242.26 203.59 240.42 199.57 239.77Z" fill="#482979"/><path d="M282.74 230.92 286.88 231.30 289.25 229.44 285.12 229.05Z" fill="#31688e"/><path d="M340.69 220.82 344.91 221.01 347.16 219.14 342.94 218.93Z" fill="#1e9b8a"/><path d="M179.85 243.26 183.85 243.95 186.44 242.12 182.45 241.41Z" fill="#481f70"/><path d="M299.89 228.28 304.05 228.60 306.39 226.74 302.23 226.41Z" fill="#2a768e"/><path d="M317.05 225.46 321.23 225.73 323.53 223.86 319.35 223.59Z" fill="#25858e"/><path d="M357.86 217.61 362.11 217.75 364.32 215.87 360.08 215.72Z" fill="#26ad81"/><path d="M241.93 237.05 246.00 237.55 248.46 235.71 244.39 235.20Z" fill="#3e4989"/><path d="M224.77 239.14 228.82 239.68 231.32 237.85 227.27 237.29Z" fill="#433d84"/><path d="M259.08 234.80 263.18 235.24 265.60 233.40 261.50 232.95Z" fill="#39568c"/><path d="M207.61 241.05 211.64 241.65 214.17 239.82 210.14 239.21Z" fill="#46307e"/><path d="M276.23 232.39 280.36 232.77 282.74 230.92 278.62 230.52Z" fill="#32648e"/><path d="M334.21 222.48 338.43 222.69 340.69 220.82 336.48 220.60Z" fill="#1f958b"/><path d="M190.44 242.80 194.45 243.45 197.02 241.62 193.01 240.96Z" fill="#482677"/><path d="M293.39 229.80 297.54 230.13 299.89 228.28 295.74 227.93Z" fill="#2c728e"/><path d="M173.26 244.38 177.25 245.08 179.85 243.26 175.87 242.54Z" fill="#481d6f"/><path d="M351.39 219.32 355.63 219.47 357.86 217.61 353.62 217.44Z" fill="#22a785"/><path d="M310.55 227.04 314.73 227.32 317.05 225.46 312.87 225.17Z" fill="#26818e"/><path d="M235.38 238.38 239.45 238.89 241.93 237.05 237.86 236.53Z" fill="#404688"/><path d="M252.55 236.19 256.64 236.64 259.08 234.80 254.99 234.34Z" fill="#3a538b"/><path d="M327.73 224.11 331.93 224.34 334.21 222.48 330.01 222.24Z" fill="#21918c"/><path d="M218.21 240.40 222.26 240.96 224.77 239.14 220.72 238.56Z" fill="#443983"/><path d="M269.71 233.83 273.83 234.23 276.23 232.39 272.12 231.97Z" fill="#34608d"/><path d="M201.03 242.26 205.06 242.87 207.61 241.05 203.59 240.42Z" fill="#472e7c"/><path d="M368.58 215.99 372.85 216.09 375.05 214.22 370.78 214.11Z" fill="#37b878"/><path d="M286.88 231.30 291.03 231.64 293.39 229.80 289.25 229.44Z" fill="#2e6e8e"/><path d="M183.85 243.95 187.86 244.62 190.44 242.80 186.44 242.12Z" fill="#482475"/><path d="M344.91 221.01 349.15 221.18 351.39 219.32 347.16 219.14Z" fill="#1fa187"/><path d="M304.05 228.60 308.23 228.89 310.55 227.04 306.39 226.74Z" fill="#287d8e"/><path d="M321.23 225.73 325.43 225.96 327.73 224.11 323.53 223.86Z" fill="#228c8d"/><path d="M246.00 237.55 250.09 238.02 252.55 236.19 248.46 235.71Z" fill="#3c4f8a"/><path d="M228.82 239.68 232.89 240.20 235.38 238.38 231.32 237.85Z" fill="#414287"/><path d="M362.11 217.75 366.37 217.86 368.58 215.99 364.32 215.87Z" fill="#2eb37c"/><path d="M263.18 235.24 267.30 235.66 269.71 233.83 265.60 233.40Z" fill="#365d8d"/><path d="M211.64 241.65 215.68 242.22 218.21 240.40 214.17 239.82Z" fill="#453781"/><path d="M280.36 232.77 284.50 233.13 286.88 231.30 282.74 230.92Z" fill="#306a8e"/><path d="M194.45 243.45 198.47 244.08 201.03 242.26 197.02 241.62Z" fill="#472c7a"/><path d="M338.43 222.69 342.65 222.87 344.91 221.01 340.69 220.82Z" fill="#1e9c89"/><path d="M297.54 230.13 301.71 230.43 304.05 228.60 299.89 228.28Z" fill="#2a788e"/><path d="M177.25 245.08 181.25 245.76 183.85 243.95 179.85 243.26Z" fill="#482173"/><path d="M314.73 227.32 318.93 227.57 321.23 225.73 317.05 225.46Z" fill="#24878e"/><path d="M355.63 219.47 359.89 219.60 362.11 217.75 357.86 217.61Z" fill="#27ad81"/><path d="M239.45 238.89 243.54 239.37 246.00 237.55 241.93 237.05Z" fill="#3e4c8a"/><path d="M222.26 240.96 226.32 241.50 228.82 239.68 224.77 239.14Z" fill="#423f85"/><path d="M256.64 236.64 260.75 237.07 263.18 235.24 259.08 234.80Z" fill="#38598c"/><path d="M205.06 242.87 209.10 243.46 211.64 241.65 207.61 241.05Z" fill="#463480"/><path d="M331.93 224.34 336.15 224.53 338.43 222.69 334.21 222.48Z" fill="#1f978b"/><path d="M273.83 234.23 277.97 234.60 280.36 232.77 276.23 232.39Z" fill="#31668e"/><path d="M187.86 244.62 191.87 245.26 194.45 243.45 190.44 242.80Z" fill="#482979"/><path d="M291.03 231.64 295.18 231.96 297.54 230.13 293.39 229.80Z" fill="#2b748e"/><path d="M349.15 221.18 353.40 221.32 355.63 219.47 351.39 219.32Z" fill="#22a884"/><path d="M308.23 228.89 312.41 229.15 314.73 227.32 310.55 227.04Z" fill="#26828e"/><path d="M232.89 240.20 236.97 240.70 239.45 238.89 235.38 238.38Z" fill="#3f4889"/><path d="M325.43 225.96 329.65 226.17 331.93 224.34 327.73 224.11Z" fill="#20928c"/><path d="M250.09 238.02 254.20 238.46 256.64 236.64 252.55 236.19Z" fill="#39558c"/><path d="M215.68 242.22 219.74 242.77 222.26 240.96 218.21 240.40Z" fill="#433d84"/><path d="M267.30 235.66 271.42 236.05 273.83 234.23 269.71 233.83Z" fill="#33628d"/><path d="M366.37 217.86 370.65 217.94 372.85 216.09 368.58 215.99Z" fill="#3aba76"/><path d="M198.47 244.08 202.50 244.68 205.06 242.87 201.03 242.26Z" fill="#46307e"/><path d="M284.50 233.13 288.65 233.46 291.03 231.64 286.88 231.30Z" fill="#2d708e"/><path d="M181.25 245.76 185.26 246.42 187.86 244.62 183.85 243.95Z" fill="#482677"/><path d="M342.65 222.87 346.89 223.02 349.15 221.18 344.91 221.01Z" fill="#20a386"/><path d="M301.71 230.43 305.89 230.71 308.23 228.89 304.05 228.60Z" fill="#277e8e"/><path d="M318.93 227.57 323.13 227.79 325.43 225.96 321.23 225.73Z" fill="#218e8d"/><path d="M359.89 219.60 364.16 219.70 366.37 217.86 362.11 217.75Z" fill="#31b57b"/><path d="M243.54 239.37 247.63 239.82 250.09 238.02 246.00 237.55Z" fill="#3b518b"/><path d="M226.32 241.50 230.39 242.01 232.89 240.20 228.82 239.68Z" fill="#404588"/><path d="M260.75 237.07 264.87 237.47 267.30 235.66 263.18 235.24Z" fill="#355f8d"/><path d="M209.10 243.46 213.15 244.02 215.68 242.22 211.64 241.65Z" fill="#443983"/><path d="M277.97 234.60 282.11 234.95 284.50 233.13 280.36 232.77Z" fill="#2f6c8e"/><path d="M191.87 245.26 195.90 245.87 198.47 244.08 194.45 243.45Z" fill="#472e7c"/><path d="M336.15 224.53 340.39 224.70 342.65 222.87 338.43 222.69Z" fill="#1f9e89"/><path d="M295.18 231.96 299.36 232.25 301.71 230.43 297.54 230.13Z" fill="#297a8e"/><path d="M312.41 229.15 316.61 229.39 318.93 227.57 314.73 227.32Z" fill="#23898e"/><path d="M353.40 221.32 357.66 221.43 359.89 219.60 355.63 219.47Z" fill="#29af7f"/><path d="M236.97 240.70 241.06 241.17 243.54 239.37 239.45 238.89Z" fill="#3d4e8a"/><path d="M219.74 242.77 223.80 243.29 226.32 241.50 222.26 240.96Z" fill="#424186"/><path d="M254.20 238.46 258.31 238.87 260.75 237.07 256.64 236.64Z" fill="#375b8d"/><path d="M329.65 226.17 333.87 226.35 336.15 224.53 331.93 224.34Z" fill="#1f998a"/><path d="M202.50 244.68 206.55 245.25 209.10 243.46 205.06 242.87Z" fill="#453781"/><path d="M271.42 236.05 275.56 236.41 277.97 234.60 273.83 234.23Z" fill="#31688e"/><path d="M185.26 246.42 189.28 247.04 191.87 245.26 187.86 244.62Z" fill="#472c7a"/><path d="M288.65 233.46 292.82 233.77 295.18 231.96 291.03 231.64Z" fill="#2a768e"/><path d="M346.89 223.02 351.15 223.15 353.40 221.32 349.15 221.18Z" fill="#24aa83"/><path d="M305.89 230.71 310.08 230.96 312.41 229.15 308.23 228.89Z" fill="#25848e"/><path d="M323.13 227.79 327.35 227.99 329.65 226.17 325.43 225.96Z" fill="#1f948c"/><path d="M230.39 242.01 234.47 242.49 236.97 240.70 232.89 240.20Z" fill="#3e4a89"/><path d="M247.63 239.82 251.74 240.25 254.20 238.46 250.09 238.02Z" fill="#38588c"/><path d="M213.15 244.02 217.21 244.56 219.74 242.77 215.68 242.22Z" fill="#423f85"/><path d="M264.87 237.47 269.00 237.84 271.42 236.05 267.30 235.66Z" fill="#32648e"/><path d="M364.16 219.70 368.44 219.77 370.65 217.94 366.37 217.86Z" fill="#3bbb75"/><path d="M195.90 245.87 199.93 246.46 202.50 244.68 198.47 244.08Z" fill="#463480"/><path d="M282.11 234.95 286.27 235.27 288.65 233.46 284.50 233.13Z" fill="#2c718e"/><path d="M340.39 224.70 344.63 224.84 346.89 223.02 342.65 222.87Z" fill="#20a486"/><path d="M299.36 232.25 303.54 232.52 305.89 230.71 301.71 230.43Z" fill="#27808e"/><path d="M316.61 229.39 320.82 229.60 323.13 227.79 318.93 227.57Z" fill="#21908d"/><path d="M357.66 221.43 361.93 221.52 364.16 219.70 359.89 219.60Z" fill="#32b67a"/><path d="M241.06 241.17 245.16 241.61 247.63 239.82 243.54 239.37Z" fill="#3a548c"/><path d="M223.80 243.29 227.88 243.79 230.39 242.01 226.32 241.50Z" fill="#3f4788"/><path d="M258.31 238.87 262.43 239.26 264.87 237.47 260.75 237.07Z" fill="#34618d"/><path d="M206.55 245.25 210.60 245.80 213.15 244.02 209.10 243.46Z" fill="#433d84"/><path d="M275.56 236.41 279.71 236.74 282.11 234.95 277.97 234.60Z" fill="#2e6e8e"/><path d="M333.87 226.35 338.11 226.51 340.39 224.70 336.15 224.53Z" fill="#1fa088"/><path d="M189.28 247.04 193.31 247.65 195.90 245.87 191.87 245.26Z" fill="#46327e"/><path d="M292.82 233.77 296.99 234.05 299.36 232.25 295.18 231.96Z" fill="#287c8e"/><path d="M310.08 230.96 314.28 231.19 316.61 229.39 312.41 229.15Z" fill="#228b8d"/><path d="M351.15 223.15 355.42 223.25 357.66 221.43 353.40 221.32Z" fill="#2cb17e"/><path d="M234.47 242.49 238.57 242.95 241.06 241.17 236.97 240.70Z" fill="#3b518b"/><path d="M251.74 240.25 255.86 240.65 258.31 238.87 254.20 238.46Z" fill="#365d8d"/><path d="M217.21 244.56 221.28 245.07 223.80 243.29 219.74 242.77Z" fill="#404588"/><path d="M327.35 227.99 331.58 228.16 333.87 226.35 329.65 226.17Z" fill="#1e9b8a"/><path d="M269.00 237.84 273.14 238.19 275.56 236.41 271.42 236.05Z" fill="#306a8e"/><path d="M199.93 246.46 203.98 247.02 206.55 245.25 202.50 244.68Z" fill="#443983"/><path d="M286.27 235.27 290.44 235.56 292.82 233.77 288.65 233.46Z" fill="#2a788e"/><path d="M344.63 224.84 348.90 224.95 351.15 223.15 346.89 223.02Z" fill="#25ac82"/><path d="M303.54 232.52 307.74 232.76 310.08 230.96 305.89 230.71Z" fill="#24868e"/><path d="M320.82 229.60 325.04 229.78 327.35 227.99 323.13 227.79Z" fill="#1f968b"/><path d="M227.88 243.79 231.97 244.26 234.47 242.49 230.39 242.01Z" fill="#3d4e8a"/><path d="M245.16 241.61 249.27 242.03 251.74 240.25 247.63 239.82Z" fill="#375a8c"/><path d="M210.60 245.80 214.66 246.33 217.21 244.56 213.15 244.02Z" fill="#424186"/><path d="M361.93 221.52 366.23 221.58 368.44 219.77 364.16 219.70Z" fill="#3fbc73"/><path d="M262.43 239.26 266.57 239.62 269.00 237.84 264.87 237.47Z" fill="#31678e"/><path d="M193.31 247.65 197.35 248.22 199.93 246.46 195.90 245.87Z" fill="#453781"/><path d="M279.71 236.74 283.87 237.05 286.27 235.27 282.11 234.95Z" fill="#2b748e"/><path d="M338.11 226.51 342.37 226.64 344.63 224.84 340.39 224.70Z" fill="#21a685"/><path d="M296.99 234.05 301.18 234.30 303.54 232.52 299.36 232.25Z" fill="#26828e"/><path d="M314.28 231.19 318.50 231.39 320.82 229.60 316.61 229.39Z" fill="#20928c"/><path d="M355.42 223.25 359.70 223.32 361.93 221.52 357.66 221.43Z" fill="#35b779"/><path d="M238.57 242.95 242.67 243.38 245.16 241.61 241.06 241.17Z" fill="#39568c"/><path d="M221.28 245.07 225.36 245.55 227.88 243.79 223.80 243.29Z" fill="#3e4a89"/><path d="M255.86 240.65 259.99 241.03 262.43 239.26 258.31 238.87Z" fill="#33638d"/><path d="M203.98 247.02 208.04 247.56 210.60 245.80 206.55 245.25Z" fill="#423f85"/><path d="M273.14 238.19 277.30 238.51 279.71 236.74 275.56 236.41Z" fill="#2d718e"/><path d="M331.58 228.16 335.83 228.30 338.11 226.51 333.87 226.35Z" fill="#1fa187"/><path d="M290.44 235.56 294.62 235.83 296.99 234.05 292.82 233.77Z" fill="#277e8e"/><path d="M348.90 224.95 353.17 225.04 355.42 223.25 351.15 223.15Z" fill="#2eb37c"/><path d="M307.74 232.76 311.95 232.97 314.28 231.19 310.08 230.96Z" fill="#228d8d"/><path d="M231.97 244.26 236.07 244.70 238.57 242.95 234.47 242.49Z" fill="#3a538b"/><path d="M249.27 242.03 253.39 242.42 255.86 240.65 251.74 240.25Z" fill="#34608d"/><path d="M214.66 246.33 218.74 246.82 221.28 245.07 217.21 244.56Z" fill="#3f4788"/><path d="M325.04 229.78 329.28 229.94 331.58 228.16 327.35 227.99Z" fill="#1e9d89"/><path d="M266.57 239.62 270.72 239.96 273.14 238.19 269.00 237.84Z" fill="#2e6d8e"/><path d="M197.35 248.22 201.40 248.77 203.98 247.02 199.93 246.46Z" fill="#433d84"/><path d="M283.87 237.05 288.05 237.33 290.44 235.56 286.27 235.27Z" fill="#297a8e"/><path d="M342.37 226.64 346.63 226.74 348.90 224.95 344.63 224.84Z" fill="#27ad81"/><path d="M301.18 234.30 305.38 234.53 307.74 232.76 303.54 232.52Z" fill="#23888e"/><path d="M318.50 231.39 322.73 231.56 325.04 229.78 320.82 229.60Z" fill="#1f988b"/><path d="M225.36 245.55 229.45 246.01 231.97 244.26 227.88 243.79Z" fill="#3c508b"/><path d="M242.67 243.38 246.79 243.78 249.27 242.03 245.16 241.61Z" fill="#365d8d"/><path d="M359.70 223.32 364.00 223.36 366.23 221.58 361.93 221.52Z" fill="#42be71"/><path d="M208.04 247.56 212.11 248.07 214.66 246.33 210.60 245.80Z" fill="#404588"/><path d="M259.99 241.03 264.13 241.38 266.57 239.62 262.43 239.26Z" fill="#30698e"/><path d="M277.30 238.51 281.47 238.81 283.87 237.05 279.71 236.74Z" fill="#2a768e"/><path d="M335.83 228.30 340.09 228.41 342.37 226.64 338.11 226.51Z" fill="#23a983"/><path d="M294.62 235.83 298.81 236.07 301.18 234.30 296.99 234.05Z" fill="#25848e"/><path d="M311.95 232.97 316.17 233.15 318.50 231.39 314.28 231.19Z" fill="#20938c"/><path d="M353.17 225.04 357.46 225.10 359.70 223.32 355.42 223.25Z" fill="#3aba76"/><path d="M236.07 244.70 240.18 245.12 242.67 243.38 238.57 242.95Z" fill="#375a8c"/><path d="M218.74 246.82 222.82 247.29 225.36 245.55 221.28 245.07Z" fill="#3d4e8a"/><path d="M253.39 242.42 257.53 242.78 259.99 241.03 255.86 240.65Z" fill="#31668e"/><path d="M201.40 248.77 205.47 249.30 208.04 247.56 203.98 247.02Z" fill="#414287"/><path d="M270.72 239.96 274.88 240.27 277.30 238.51 273.14 238.19Z" fill="#2c728e"/><path d="M329.28 229.94 333.53 230.07 335.83 228.30 331.58 228.16Z" fill="#20a386"/><path d="M288.05 237.33 292.24 237.58 294.62 235.83 290.44 235.56Z" fill="#26818e"/><path d="M346.63 226.74 350.91 226.81 353.17 225.04 348.90 224.95Z" fill="#31b57b"/><path d="M305.38 234.53 309.60 234.73 311.95 232.97 307.74 232.76Z" fill="#218f8d"/><path d="M229.45 246.01 233.55 246.44 236.07 244.70 231.97 244.26Z" fill="#39568c"/><path d="M246.79 243.78 250.92 244.16 253.39 242.42 249.27 242.03Z" fill="#33638d"/><path d="M212.11 248.07 216.19 248.56 218.74 246.82 214.66 246.33Z" fill="#3e4a89"/><path d="M322.73 231.56 326.97 231.70 329.28 229.94 325.04 229.78Z" fill="#1f9f88"/><path d="M264.13 241.38 268.28 241.70 270.72 239.96 266.57 239.62Z" fill="#2d708e"/><path d="M281.47 238.81 285.65 239.07 288.05 237.33 283.87 237.05Z" fill="#287d8e"/><path d="M340.09 228.41 344.36 228.50 346.63 226.74 342.37 226.64Z" fill="#29af7f"/><path d="M298.81 236.07 303.02 236.28 305.38 234.53 301.18 234.30Z" fill="#228b8d"/><path d="M316.17 233.15 320.40 233.31 322.73 231.56 318.50 231.39Z" fill="#1f9a8a"/><path d="M222.82 247.29 226.92 247.74 229.45 246.01 225.36 245.55Z" fill="#3a538b"/><path d="M240.18 245.12 244.30 245.51 246.79 243.78 242.67 243.38Z" fill="#34608d"/><path d="M357.46 225.10 361.76 225.13 364.00 223.36 359.70 223.32Z" fill="#48c16e"/><path d="M205.47 249.30 209.54 249.80 212.11 248.07 208.04 247.56Z" fill="#3f4889"/><path d="M257.53 242.78 261.67 243.11 264.13 241.38 259.99 241.03Z" fill="#2f6c8e"/><path d="M274.88 240.27 279.05 240.55 281.47 238.81 277.30 238.51Z" fill="#29798e"/><path d="M333.53 230.07 337.80 230.17 340.09 228.41 335.83 228.30Z" fill="#25ab82"/><path d="M292.24 237.58 296.44 237.81 298.81 236.07 294.62 235.83Z" fill="#24878e"/><path d="M309.60 234.73 313.83 234.90 316.17 233.15 311.95 232.97Z" fill="#1f968b"/><path d="M350.91 226.81 355.21 226.86 357.46 225.10 353.17 225.04Z" fill="#3dbc74"/><path d="M233.55 246.44 237.67 246.84 240.18 245.12 236.07 244.70Z" fill="#365d8d"/><path d="M216.19 248.56 220.28 249.01 222.82 247.29 218.74 246.82Z" fill="#3b518b"/><path d="M250.92 244.16 255.06 244.51 257.53 242.78 253.39 242.42Z" fill="#30698e"/><path d="M326.97 231.70 331.23 231.82 333.53 230.07 329.28 229.94Z" fill="#21a685"/><path d="M268.28 241.70 272.45 242.00 274.88 240.27 270.72 239.96Z" fill="#2b758e"/><path d="M285.65 239.07 289.84 239.32 292.24 237.58 288.05 237.33Z" fill="#26828e"/><path d="M344.36 228.50 348.65 228.56 350.91 226.81 346.63 226.74Z" fill="#34b679"/><path d="M303.02 236.28 307.24 236.46 309.60 234.73 305.38 234.53Z" fill="#20928c"/><path d="M226.92 247.74 231.03 248.16 233.55 246.44 229.45 246.01Z" fill="#375a8c"/><path d="M244.30 245.51 248.43 245.87 250.92 244.16 246.79 243.78Z" fill="#31668e"/><path d="M320.40 233.31 324.65 233.44 326.97 231.70 322.73 231.56Z" fill="#1fa187"/><path d="M209.54 249.80 213.62 250.27 216.19 248.56 212.11 248.07Z" fill="#3d4e8a"/><path d="M261.67 243.11 265.83 243.42 268.28 241.70 264.13 241.38Z" fill="#2c718e"/><path d="M279.05 240.55 283.24 240.80 285.65 239.07 281.47 238.81Z" fill="#277f8e"/><path d="M337.80 230.17 342.08 230.24 344.36 228.50 340.09 228.41Z" fill="#2db27d"/><path d="M296.44 237.81 300.65 238.01 303.02 236.28 298.81 236.07Z" fill="#218e8d"/><path d="M313.83 234.90 318.07 235.04 320.40 233.31 316.17 233.15Z" fill="#1e9d89"/><path d="M355.21 226.86 359.52 226.87 361.76 225.13 357.46 225.10Z" fill="#4cc26c"/><path d="M237.67 246.84 241.80 247.22 244.30 245.51 240.18 245.12Z" fill="#33638d"/><path d="M220.28 249.01 224.38 249.44 226.92 247.74 222.82 247.29Z" fill="#39568c"/><path d="M255.06 244.51 259.21 244.83 261.67 243.11 257.53 242.78Z" fill="#2e6f8e"/><path d="M272.45 242.00 276.63 242.26 279.05 240.55 274.88 240.27Z" fill="#287c8e"/><path d="M331.23 231.82 335.50 231.90 337.80 230.17 333.53 230.07Z" fill="#27ad81"/><path d="M289.84 239.32 294.05 239.53 296.44 237.81 292.24 237.58Z" fill="#23898e"/><path d="M307.24 236.46 311.48 236.62 313.83 234.90 309.60 234.73Z" fill="#1f988b"/><path d="M348.65 228.56 352.95 228.59 355.21 226.86 350.91 226.81Z" fill="#40bd72"/><path d="M231.03 248.16 235.15 248.55 237.67 246.84 233.55 246.44Z" fill="#34608d"/><path d="M213.62 250.27 217.72 250.71 220.28 249.01 216.19 248.56Z" fill="#3a548c"/><path d="M248.43 245.87 252.58 246.21 255.06 244.51 250.92 244.16Z" fill="#2f6c8e"/><path d="M324.65 233.44 328.92 233.54 331.23 231.82 326.97 231.70Z" fill="#23a983"/><path d="M265.83 243.42 270.01 243.71 272.45 242.00 268.28 241.70Z" fill="#2a788e"/><path d="M283.24 240.80 287.44 241.03 289.84 239.32 285.65 239.07Z" fill="#25858e"/><path d="M342.08 230.24 346.37 230.29 348.65 228.56 344.36 228.50Z" fill="#38b977"/><path d="M300.65 238.01 304.88 238.18 307.24 236.46 303.02 236.28Z" fill="#1f948c"/><path d="M224.38 249.44 228.49 249.85 231.03 248.16 226.92 247.74Z" fill="#365d8d"/><path d="M318.07 235.04 322.33 235.16 324.65 233.44 320.40 233.31Z" fill="#20a486"/><path d="M241.80 247.22 245.93 247.57 248.43 245.87 244.30 245.51Z" fill="#30698e"/><path d="M259.21 244.83 263.37 245.12 265.83 243.42 261.67 243.11Z" fill="#2b748e"/><path d="M276.63 242.26 280.82 242.51 283.24 240.80 279.05 240.55Z" fill="#26828e"/><path d="M335.50 231.90 339.79 231.96 342.08 230.24 337.80 230.17Z" fill="#31b57b"/><path d="M294.05 239.53 298.27 239.71 300.65 238.01 296.44 237.81Z" fill="#21918c"/><path d="M311.48 236.62 315.73 236.75 318.07 235.04 313.83 234.90Z" fill="#1fa088"/><path d="M352.95 228.59 357.26 228.59 359.52 226.87 355.21 226.86Z" fill="#52c569"/><path d="M235.15 248.55 239.28 248.91 241.80 247.22 237.67 246.84Z" fill="#31668e"/><path d="M217.72 250.71 221.83 251.13 224.38 249.44 220.28 249.01Z" fill="#375b8d"/><path d="M252.58 246.21 256.73 246.52 259.21 244.83 255.06 244.51Z" fill="#2c718e"/><path d="M270.01 243.71 274.19 243.96 276.63 242.26 272.45 242.00Z" fill="#277f8e"/><path d="M328.92 233.54 333.19 233.62 335.50 231.90 331.23 231.82Z" fill="#2ab07f"/><path d="M287.44 241.03 291.65 241.23 294.05 239.53 289.84 239.32Z" fill="#228c8d"/><path d="M304.88 238.18 309.12 238.32 311.48 236.62 307.24 236.46Z" fill="#1e9b8a"/><path d="M346.37 230.29 350.68 230.31 352.95 228.59 348.65 228.56Z" fill="#46c06f"/><path d="M228.49 249.85 232.62 250.23 235.15 248.55 231.03 248.16Z" fill="#33638d"/><path d="M245.93 247.57 250.08 247.90 252.58 246.21 248.43 245.87Z" fill="#2e6f8e"/><path d="M322.33 235.16 326.59 235.25 328.92 233.54 324.65 233.44Z" fill="#25ac82"/><path d="M263.37 245.12 267.55 245.39 270.01 243.71 265.83 243.42Z" fill="#297b8e"/><path d="M280.82 242.51 285.02 242.72 287.44 241.03 283.24 240.80Z" fill="#23888e"/><path d="M339.79 231.96 344.09 232.00 346.37 230.29 342.08 230.24Z" fill="#3dbc74"/><path d="M298.27 239.71 302.50 239.87 304.88 238.18 300.65 238.01Z" fill="#1f978b"/><path d="M315.73 236.75 319.99 236.85 322.33 235.16 318.07 235.04Z" fill="#22a785"/><path d="M221.83 251.13 225.95 251.52 228.49 249.85 224.38 249.44Z" fill="#34608d"/><path d="M239.28 248.91 243.43 249.25 245.93 247.57 241.80 247.22Z" fill="#2f6c8e"/><path d="M256.73 246.52 260.90 246.80 263.37 245.12 259.21 244.83Z" fill="#2a788e"/><path d="M274.19 243.96 278.39 244.19 280.82 242.51 276.63 242.26Z" fill="#25858e"/><path d="M333.19 233.62 337.49 233.66 339.79 231.96 335.50 231.90Z" fill="#35b779"/><path d="M291.65 241.23 295.87 241.40 298.27 239.71 294.05 239.53Z" fill="#20938c"/><path d="M309.12 238.32 313.37 238.44 315.73 236.75 311.48 236.62Z" fill="#1fa287"/><path d="M350.68 230.31 355.00 230.30 357.26 228.59 352.95 228.59Z" fill="#58c765"/><path d="M232.62 250.23 236.76 250.58 239.28 248.91 235.15 248.55Z" fill="#30698e"/><path d="M250.08 247.90 254.25 248.19 256.73 246.52 252.58 246.21Z" fill="#2b748e"/><path d="M267.55 245.39 271.74 245.64 274.19 243.96 270.01 243.71Z" fill="#26828e"/><path d="M326.59 235.25 330.88 235.31 333.19 233.62 328.92 233.54Z" fill="#2eb37c"/><path d="M285.02 242.72 289.24 242.91 291.65 241.23 287.44 241.03Z" fill="#21908d"/><path d="M344.09 232.00 348.40 232.00 350.68 230.31 346.37 230.29Z" fill="#4cc26c"/><path d="M302.50 239.87 306.75 240.00 309.12 238.32 304.88 238.18Z" fill="#1f9f88"/><path d="M225.95 251.52 230.08 251.89 232.62 250.23 228.49 249.85Z" fill="#31668e"/><path d="M243.43 249.25 247.58 249.56 250.08 247.90 245.93 247.57Z" fill="#2c718e"/><path d="M319.99 236.85 324.26 236.93 326.59 235.25 322.33 235.16Z" fill="#28ae80"/><path d="M260.90 246.80 265.09 247.06 267.55 245.39 263.37 245.12Z" fill="#277f8e"/><path d="M278.39 244.19 282.60 244.39 285.02 242.72 280.82 242.51Z" fill="#228c8d"/><path d="M337.49 233.66 341.79 233.68 344.09 232.00 339.79 231.96Z" fill="#42be71"/><path d="M295.87 241.40 300.11 241.55 302.50 239.87 298.27 239.71Z" fill="#1f9a8a"/><path d="M313.37 238.44 317.64 238.53 319.99 236.85 315.73 236.75Z" fill="#24aa83"/><path d="M236.76 250.58 240.90 250.90 243.43 249.25 239.28 248.91Z" fill="#2e6f8e"/><path d="M254.25 248.19 258.42 248.46 260.90 246.80 256.73 246.52Z" fill="#297b8e"/><path d="M271.74 245.64 275.94 245.85 278.39 244.19 274.19 243.96Z" fill="#23888e"/><path d="M330.88 235.31 335.17 235.34 337.49 233.66 333.19 233.62Z" fill="#3aba76"/><path d="M289.24 242.91 293.47 243.06 295.87 241.40 291.65 241.23Z" fill="#1f968b"/><path d="M306.75 240.00 311.01 240.11 313.37 238.44 309.12 238.32Z" fill="#21a585"/><path d="M348.40 232.00 352.73 231.98 355.00 230.30 350.68 230.31Z" fill="#5ec962"/><path d="M230.08 251.89 234.22 252.23 236.76 250.58 232.62 250.23Z" fill="#2e6d8e"/><path d="M247.58 249.56 251.75 249.84 254.25 248.19 250.08 247.90Z" fill="#2a788e"/><path d="M265.09 247.06 269.28 247.29 271.74 245.64 267.55 245.39Z" fill="#25848e"/><path d="M324.26 236.93 328.55 236.98 330.88 235.31 326.59 235.25Z" fill="#32b67a"/><path d="M282.60 244.39 286.82 244.56 289.24 242.91 285.02 242.72Z" fill="#20928c"/><path d="M341.79 233.68 346.11 233.67 348.40 232.00 344.09 232.00Z" fill="#52c569"/><path d="M300.11 241.55 304.36 241.66 306.75 240.00 302.50 239.87Z" fill="#1fa187"/><path d="M240.90 250.90 245.07 251.20 247.58 249.56 243.43 249.25Z" fill="#2b758e"/><path d="M317.64 238.53 321.92 238.59 324.26 236.93 319.99 236.85Z" fill="#2cb17e"/><path d="M258.42 248.46 262.61 248.71 265.09 247.06 260.90 246.80Z" fill="#26828e"/><path d="M275.94 245.85 280.16 246.04 282.60 244.39 278.39 244.19Z" fill="#218f8d"/><path d="M335.17 235.34 339.49 235.34 341.79 233.68 337.49 233.66Z" fill="#48c16e"/><path d="M293.47 243.06 297.71 243.20 300.11 241.55 295.87 241.40Z" fill="#1f9e89"/><path d="M311.01 240.11 315.28 240.18 317.64 238.53 313.37 238.44Z" fill="#26ad81"/><path d="M234.22 252.23 238.37 252.54 240.90 250.90 236.76 250.58Z" fill="#2c728e"/><path d="M251.75 249.84 255.93 250.10 258.42 248.46 254.25 248.19Z" fill="#277f8e"/><path d="M269.28 247.29 273.49 247.49 275.94 245.85 271.74 245.64Z" fill="#228c8d"/><path d="M328.55 236.98 332.85 236.99 335.17 235.34 330.88 235.31Z" fill="#3fbc73"/><path d="M286.82 244.56 291.06 244.71 293.47 243.06 289.24 242.91Z" fill="#1f9a8a"/><path d="M304.36 241.66 308.63 241.75 311.01 240.11 306.75 240.00Z" fill="#23a983"/><path d="M346.11 233.67 350.44 233.63 352.73 231.98 348.40 232.00Z" fill="#65cb5e"/><path d="M245.07 251.20 249.24 251.47 251.75 249.84 247.58 249.56Z" fill="#287c8e"/><path d="M262.61 248.71 266.81 248.92 269.28 247.29 265.09 247.06Z" fill="#23888e"/><path d="M321.92 238.59 326.21 238.62 328.55 236.98 324.26 236.93Z" fill="#37b878"/><path d="M280.16 246.04 284.39 246.20 286.82 244.56 282.60 244.39Z" fill="#1f968b"/><path d="M339.49 235.34 343.81 235.32 346.11 233.67 341.79 233.68Z" fill="#5ac864"/><path d="M297.71 243.20 301.97 243.30 304.36 241.66 300.11 241.55Z" fill="#20a486"/><path d="M238.37 252.54 242.54 252.82 245.07 251.20 240.90 250.90Z" fill="#29798e"/><path d="M315.28 240.18 319.57 240.23 321.92 238.59 317.64 238.53Z" fill="#2fb47c"/><path d="M255.93 250.10 260.12 250.33 262.61 248.71 258.42 248.46Z" fill="#25858e"/><path d="M273.49 247.49 277.71 247.66 280.16 246.04 275.94 245.85Z" fill="#20928c"/><path d="M332.85 236.99 337.17 236.99 339.49 235.34 335.17 235.34Z" fill="#50c46a"/><path d="M291.06 244.71 295.31 244.83 297.71 243.20 293.47 243.06Z" fill="#1fa188"/><path d="M308.63 241.75 312.91 241.81 315.28 240.18 311.01 240.11Z" fill="#2ab07f"/><path d="M249.24 251.47 253.43 251.71 255.93 250.10 251.75 249.84Z" fill="#26828e"/><path d="M266.81 248.92 271.03 249.11 273.49 247.49 269.28 247.29Z" fill="#218f8d"/><path d="M326.21 238.62 330.52 238.63 332.85 236.99 328.55 236.98Z" fill="#46c06f"/><path d="M284.39 246.20 288.63 246.33 291.06 244.71 286.82 244.56Z" fill="#1e9d89"/><path d="M301.97 243.30 306.24 243.38 308.63 241.75 304.36 241.66Z" fill="#25ac82"/><path d="M343.81 235.32 348.15 235.27 350.44 233.63 346.11 233.67Z" fill="#6ccd5a"/><path d="M242.54 252.82 246.72 253.08 249.24 251.47 245.07 251.20Z" fill="#27808e"/><path d="M319.57 240.23 323.87 240.25 326.21 238.62 321.92 238.59Z" fill="#3dbc74"/><path d="M260.12 250.33 264.33 250.53 266.81 248.92 262.61 248.71Z" fill="#228c8d"/><path d="M277.71 247.66 281.95 247.81 284.39 246.20 280.16 246.04Z" fill="#1f9a8a"/><path d="M337.17 236.99 341.50 236.95 343.81 235.32 339.49 235.34Z" fill="#60ca60"/><path d="M295.31 244.83 299.57 244.92 301.97 243.30 297.71 243.20Z" fill="#22a884"/><path d="M312.91 241.81 317.20 241.85 319.57 240.23 315.28 240.18Z" fill="#35b779"/><path d="M253.43 251.71 257.63 251.93 260.12 250.33 255.93 250.10Z" fill="#23898e"/><path d="M271.03 249.11 275.25 249.27 277.71 247.66 273.49 247.49Z" fill="#1f968b"/><path d="M330.52 238.63 334.85 238.61 337.17 236.99 332.85 236.99Z" fill="#56c667"/><path d="M288.63 246.33 292.89 246.43 295.31 244.83 291.06 244.71Z" fill="#20a486"/><path d="M306.24 243.38 310.53 243.42 312.91 241.81 308.63 241.75Z" fill="#2fb47c"/><path d="M246.72 253.08 250.91 253.31 253.43 251.71 249.24 251.47Z" fill="#24868e"/><path d="M264.33 250.53 268.55 250.70 271.03 249.11 266.81 248.92Z" fill="#20928c"/><path d="M323.87 240.25 328.18 240.24 330.52 238.63 326.21 238.62Z" fill="#4cc26c"/><path d="M281.95 247.81 286.20 247.93 288.63 246.33 284.39 246.20Z" fill="#1fa188"/><path d="M299.57 244.92 303.85 244.98 306.24 243.38 301.97 243.30Z" fill="#29af7f"/><path d="M341.50 236.95 345.85 236.88 348.15 235.27 343.81 235.32Z" fill="#75d054"/><path d="M317.20 241.85 321.51 241.85 323.87 240.25 319.57 240.23Z" fill="#44bf70"/><path d="M257.63 251.93 261.84 252.12 264.33 250.53 260.12 250.33Z" fill="#21908d"/><path d="M275.25 249.27 279.49 249.40 281.95 247.81 277.71 247.66Z" fill="#1f9e89"/><path d="M334.85 238.61 339.19 238.55 341.50 236.95 337.17 236.99Z" fill="#69cd5b"/><path d="M292.89 246.43 297.16 246.51 299.57 244.92 295.31 244.83Z" fill="#25ac82"/><path d="M310.53 243.42 314.83 243.44 317.20 241.85 312.91 241.81Z" fill="#3bbb75"/><path d="M250.91 253.31 255.12 253.51 257.63 251.93 253.43 251.71Z" fill="#228d8d"/><path d="M268.55 250.70 272.78 250.85 275.25 249.27 271.03 249.11Z" fill="#1f9a8a"/><path d="M328.18 240.24 332.51 240.20 334.85 238.61 330.52 238.63Z" fill="#5ec962"/><path d="M286.20 247.93 290.46 248.02 292.89 246.43 288.63 246.33Z" fill="#22a884"/><path d="M303.85 244.98 308.14 245.01 310.53 243.42 306.24 243.38Z" fill="#35b779"/><path d="M261.84 252.12 266.06 252.28 268.55 250.70 264.33 250.53Z" fill="#1f978b"/><path d="M321.51 241.85 325.83 241.83 328.18 240.24 323.87 240.25Z" fill="#54c568"/><path d="M279.49 249.40 283.75 249.51 286.20 247.93 281.95 247.81Z" fill="#20a486"/><path d="M339.19 238.55 343.54 238.47 345.85 236.88 341.50 236.95Z" fill="#7fd34e"/><path d="M297.16 246.51 301.44 246.56 303.85 244.98 299.57 244.92Z" fill="#2eb37c"/><path d="M314.83 243.44 319.14 243.44 321.51 241.85 317.20 241.85Z" fill="#4cc26c"/><path d="M255.12 253.51 259.33 253.69 261.84 252.12 257.63 251.93Z" fill="#20938c"/><path d="M272.78 250.85 277.03 250.97 279.49 249.40 275.25 249.27Z" fill="#1fa187"/><path d="M332.51 240.20 336.86 240.14 339.19 238.55 334.85 238.61Z" fill="#73d056"/><path d="M290.46 248.02 294.73 248.08 297.16 246.51 292.89 246.43Z" fill="#29af7f"/><path d="M308.14 245.01 312.44 245.02 314.83 243.44 310.53 243.42Z" fill="#42be71"/><path d="M266.06 252.28 270.30 252.41 272.78 250.85 268.55 250.70Z" fill="#1f9e89"/><path d="M325.83 241.83 330.17 241.78 332.51 240.20 328.18 240.24Z" fill="#67cc5c"/><path d="M283.75 249.51 288.02 249.58 290.46 248.02 286.20 247.93Z" fill="#25ac82"/><path d="M301.44 246.56 305.74 246.58 308.14 245.01 303.85 244.98Z" fill="#3bbb75"/><path d="M259.33 253.69 263.56 253.83 266.06 252.28 261.84 252.12Z" fill="#1e9b8a"/><path d="M319.14 243.44 323.47 243.40 325.83 241.83 321.51 241.85Z" fill="#5cc863"/><path d="M277.03 250.97 281.29 251.06 283.75 249.51 279.49 249.40Z" fill="#23a983"/><path d="M336.86 240.14 341.22 240.04 343.54 238.47 339.19 238.55Z" fill="#89d548"/><path d="M294.73 248.08 299.02 248.12 301.44 246.56 297.16 246.51Z" fill="#35b779"/><path d="M312.44 245.02 316.76 245.00 319.14 243.44 314.83 243.44Z" fill="#54c568"/><path d="M270.30 252.41 274.55 252.52 277.03 250.97 272.78 250.85Z" fill="#21a585"/><path d="M330.17 241.78 334.52 241.70 336.86 240.14 332.51 240.20Z" fill="#7cd250"/><path d="M288.02 249.58 292.30 249.63 294.73 248.08 290.46 248.02Z" fill="#2fb47c"/><path d="M305.74 246.58 310.05 246.57 312.44 245.02 308.14 245.01Z" fill="#4ac16d"/><path d="M263.56 253.83 267.81 253.95 270.30 252.41 266.06 252.28Z" fill="#1fa287"/><path d="M323.47 243.40 327.81 243.33 330.17 241.78 325.83 241.83Z" fill="#70cf57"/><path d="M281.29 251.06 285.56 251.12 288.02 249.58 283.75 249.51Z" fill="#2ab07f"/><path d="M299.02 248.12 303.33 248.12 305.74 246.58 301.44 246.56Z" fill="#42be71"/><path d="M316.76 245.00 321.10 244.94 323.47 243.40 319.14 243.44Z" fill="#67cc5c"/><path d="M274.55 252.52 278.82 252.59 281.29 251.06 277.03 250.97Z" fill="#26ad81"/><path d="M334.52 241.70 338.89 241.59 341.22 240.04 336.86 240.14Z" fill="#93d741"/><path d="M292.30 249.63 296.59 249.65 299.02 248.12 294.73 248.08Z" fill="#3bbb75"/><path d="M310.05 246.57 314.38 246.53 316.76 245.00 312.44 245.02Z" fill="#5cc863"/><path d="M267.81 253.95 272.07 254.04 274.55 252.52 270.30 252.41Z" fill="#24aa83"/><path d="M327.81 243.33 332.17 243.24 334.52 241.70 330.17 241.78Z" fill="#86d549"/><path d="M285.56 251.12 289.85 251.16 292.30 249.63 288.02 249.58Z" fill="#35b779"/><path d="M303.33 248.12 307.64 248.10 310.05 246.57 305.74 246.58Z" fill="#54c568"/><path d="M321.10 244.94 325.45 244.87 327.81 243.33 323.47 243.40Z" fill="#7cd250"/><path d="M278.82 252.59 283.10 252.64 285.56 251.12 281.29 251.06Z" fill="#31b57b"/><path d="M296.59 249.65 300.90 249.64 303.33 248.12 299.02 248.12Z" fill="#4cc26c"/><path d="M314.38 246.53 318.72 246.47 321.10 244.94 316.76 245.00Z" fill="#70cf57"/><path d="M272.07 254.04 276.34 254.11 278.82 252.59 274.55 252.52Z" fill="#2cb17e"/><path d="M332.17 243.24 336.54 243.12 338.89 241.59 334.52 241.70Z" fill="#a0da39"/><path d="M289.85 251.16 294.15 251.16 296.59 249.65 292.30 249.63Z" fill="#44bf70"/><path d="M307.64 248.10 311.98 248.05 314.38 246.53 310.05 246.57Z" fill="#67cc5c"/><path d="M325.45 244.87 329.81 244.76 332.17 243.24 327.81 243.33Z" fill="#93d741"/><path d="M283.10 252.64 287.39 252.66 289.85 251.16 285.56 251.12Z" fill="#3dbc74"/><path d="M300.90 249.64 305.23 249.61 307.64 248.10 303.33 248.12Z" fill="#5ec962"/><path d="M318.72 246.47 323.07 246.37 325.45 244.87 321.10 244.94Z" fill="#86d549"/><path d="M276.34 254.11 280.62 254.14 283.10 252.64 278.82 252.59Z" fill="#37b878"/><path d="M294.15 251.16 298.47 251.14 300.90 249.64 296.59 249.65Z" fill="#56c667"/><path d="M311.98 248.05 316.32 247.97 318.72 246.47 314.38 246.53Z" fill="#7cd250"/><path d="M329.81 244.76 334.19 244.62 336.54 243.12 332.17 243.24Z" fill="#aadc32"/><path d="M287.39 252.66 291.70 252.66 294.15 251.16 289.85 251.16Z" fill="#4ec36b"/><path d="M305.23 249.61 309.57 249.54 311.98 248.05 307.64 248.10Z" fill="#73d056"/><path d="M323.07 246.37 327.44 246.25 329.81 244.76 325.45 244.87Z" fill="#a0da39"/><path d="M280.62 254.14 284.92 254.15 287.39 252.66 283.10 252.64Z" fill="#46c06f"/><path d="M298.47 251.14 302.80 251.09 305.23 249.61 300.90 249.64Z" fill="#67cc5c"/><path d="M316.32 247.97 320.69 247.86 323.07 246.37 318.72 246.47Z" fill="#93d741"/><path d="M291.70 252.66 296.02 252.62 298.47 251.14 294.15 251.16Z" fill="#60ca60"/><path d="M309.57 249.54 313.92 249.45 316.32 247.97 311.98 248.05Z" fill="#89d548"/><path d="M327.44 246.25 331.83 246.10 334.19 244.62 329.81 244.76Z" fill="#b8de29"/><path d="M284.92 254.15 289.24 254.12 291.70 252.66 287.39 252.66Z" fill="#58c765"/><path d="M302.80 251.09 307.14 251.01 309.57 249.54 305.23 249.61Z" fill="#7fd34e"/><path d="M320.69 247.86 325.06 247.72 327.44 246.25 323.07 246.37Z" fill="#addc30"/><path d="M296.02 252.62 300.36 252.55 302.80 251.09 298.47 251.14Z" fill="#75d054"/><path d="M313.92 249.45 318.29 249.33 320.69 247.86 316.32 247.97Z" fill="#a0da39"/><path d="M289.24 254.12 293.56 254.07 296.02 252.62 291.70 252.66Z" fill="#6ccd5a"/><path d="M307.14 251.01 311.50 250.90 313.92 249.45 309.57 249.54Z" fill="#95d840"/><path d="M325.06 247.72 329.46 247.56 331.83 246.10 327.44 246.25Z" fill="#c5e021"/><path d="M300.36 252.55 304.71 252.46 307.14 251.01 302.80 251.09Z" fill="#8bd646"/><path d="M318.29 249.33 322.67 249.17 325.06 247.72 320.69 247.86Z" fill="#bade28"/><path d="M293.56 254.07 297.91 253.99 300.36 252.55 296.02 252.62Z" fill="#81d34d"/><path d="M311.50 250.90 315.88 250.77 318.29 249.33 313.92 249.45Z" fill="#addc30"/><path d="M304.71 252.46 309.08 252.34 311.50 250.90 307.14 251.01Z" fill="#a2da37"/><path d="M322.67 249.17 327.07 248.99 329.46 247.56 325.06 247.72Z" fill="#d5e21a"/><path d="M297.91 253.99 302.27 253.89 304.71 252.46 300.36 252.55Z" fill="#98d83e"/><path d="M315.88 250.77 320.27 250.60 322.67 249.17 318.29 249.33Z" fill="#c8e020"/><path d="M309.08 252.34 313.46 252.18 315.88 250.77 311.50 250.90Z" fill="#bddf26"/><path d="M302.27 253.89 306.64 253.75 309.08 252.34 304.71 252.46Z" fill="#b2dd2d"/><path d="M320.27 250.60 324.68 250.40 327.07 248.99 322.67 249.17Z" fill="#e2e418"/><path d="M313.46 252.18 317.86 252.00 320.27 250.60 315.88 250.77Z" fill="#d8e219"/><path d="M306.64 253.75 311.03 253.58 313.46 252.18 309.08 252.34Z" fill="#cae11f"/><path d="M317.86 252.00 322.27 251.79 324.68 250.40 320.27 250.60Z" fill="#f1e51d"/><path d="M311.03 253.58 315.43 253.38 317.86 252.00 313.46 252.18Z" fill="#e5e419"/><path d="M315.43 253.38 319.85 253.16 322.27 251.79 317.86 252.00Z" fill="#fde725"/></g><circle cx="257.24" cy="150.56" r="2.88" fill="#ff0000" stroke="#8b0000" stroke-width="0.48"/><circle cx="388.71" cy="135.68" r="2.88" fill="#ff0000" stroke="#8b0000" stroke-width="0.48"/><circle cx="313.83" cy="201.39" r="2.88" fill="#ff0000" stroke="#8b0000" stroke-width="0.48"/><circle cx="177.99" cy="222.08" r="2.88" fill="#ff0000" stroke="#8b0000" stroke-width="0.48"/><circle cx="180.39" cy="282.13" r="2.88" fill="#ff0000" stroke="#8b0000" stroke-width="0.48"/>
<g id="text_25">
<text style="font-size: 11.66px; font-family: 'Liberation Sans', sans-serif" transform="translate(196.60 32.12)" textLength="165.23" lengthAdjust="spacingAndGlyphs">Response Surface: clarity_c80</text>
<text style="font-size: 11.66px; font-family: 'Liberation Sans', sans-serif" transform="translate(205.10 44.74)" textLength="148.24" lengthAdjust="spacingAndGlyphs">ceiling_m vs stage_riser_m</text>
</g>
</g>
<g id="axes_2">
<g id="patch_6">
<path d="M 495.70 297.00
L 512.39 297.00
L 512.39 130.10
L 495.70 130.10
z
" style="fill: #ffffff"/>
</g>
<rect x="495.70" y="130.10" width="16.69" height="166.89" fill="url(#vir)" fill-opacity="0.8"/>
<g id="matplotlib.axis_1"/>
<g id="matplotlib.axis_2">
<g id="ytick_1">
<g id="line2d_25">
<defs>
<path id="m016c282bb1" d="M 0 0
L 3.5 0
" style="stroke: #000000; stroke-width: 0.8"/>
</defs>
<g>
<use href="#m016c282bb1" x="512.39" y="274.35" style="stroke: #000000; stroke-width: 0.8"/>
</g>
</g>
<g id="text_26">
<text style="font-size: 10.60px; font-family: 'Liberation Sans', sans-serif; text-anchor: start" x="519.39" y="278.15" transform="rotate(-0 519.39 278.15)" dy="0.6" textLength="15.90" lengthAdjust="spacingAndGlyphs">0.0</text>
</g>
</g>
<g id="ytick_2">
<g id="line2d_26">
<g>
<use href="#m016c282bb1" x="512.39" y="238.24" style="stroke: #000000; stroke-width: 0.8"/>
</g>
</g>
<g id="text_27">
<text style="font-size: 10.60px; font-family: 'Liberation Sans', sans-serif; text-anchor: start" x="519.39" y="242.04" transform="rotate(-0 519.39 242.04)" dy="0.6" textLength="15.90" lengthAdjust="spacingAndGlyphs">0.5</text>
</g>
</g>
<g id="ytick_3">
<g id="line2d_27">
<g>
<use href="#m016c282bb1" x="512.39" y="202.13" style="stroke: #000000; stroke-width: 0.8"/>
</g>
</g>
<g id="text_28">
<text style="font-size: 10.60px; font-family: 'Liberation Sans', sans-serif; text-anchor: start" x="519.39" y="205.93" transform="rotate(-0 519.39 205.93)" dy="0.6" textLength="15.90" lengthAdjust="spacingAndGlyphs">1.0</text>
</g>
</g>
<g id="ytick_4">
<g id="line2d_28">
<g>
<use href="#m016c282bb1" x="512.39" y="166.02" style="stroke: #000000; stroke-width: 0.8"/>
</g>
</g>
<g id="text_29">
<text style="font-size: 10.60px; font-family: 'Liberation Sans', sans-serif; text-anchor: start" x="519.39" y="169.82" transform="rotate(-0 519.39 169.82)" dy="0.6" textLength="15.90" lengthAdjust="spacingAndGlyphs">1.5</text>
</g>
</g>
</g>
<g id="LineCollection_1"/>
<g id="patch_7">
<path transform="translate(0.0 0.2)" d="M 495.70 297.00
L 504.04 297.00
L 512.39 297.00
L 512.39 130.10
L 504.04 130.10
L 495.70 130.10
L 495.70 297.00
z
" style="fill: none; stroke: #000000; stroke-width: 0.9; stroke-linejoin: miter; stroke-linecap: square"/>
</g>
</g>
</g>
<defs>
<clipPath id="p45afe47b1a">
<rect x="116.40" y="50.74" width="325.62" height="325.62"/>
</clipPath>
</defs>
</svg>
</body></html>
